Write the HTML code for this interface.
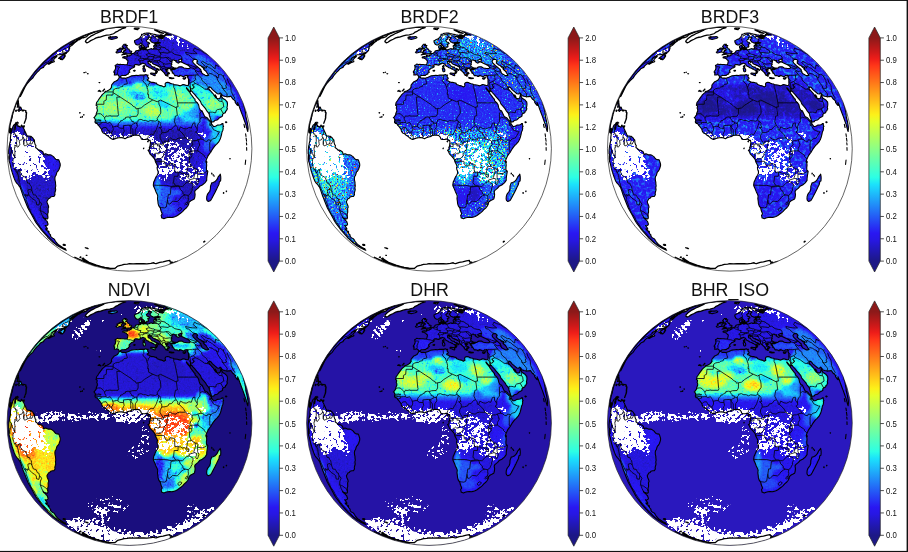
<!DOCTYPE html>
<html><head><meta charset="utf-8"><title>fig</title>
<style>html,body{margin:0;padding:0;background:#fff}svg{display:block}text{font-family:"Liberation Sans",sans-serif;fill:#111}</style>
</head><body>
<svg width="908" height="552" viewBox="0 0 908 552">
<defs>
<path id="land" d="M-10.2,-71.6 -9.2,-71.8 -7.7,-70.6 -5.2,-70.7 -3.8,-70.4 -1,-71.5 0.2,-72.1 2.2,-72.9 5.1,-73.3 6.8,-73.5 8.7,-73.3 10.7,-73.7 13.3,-73.6 14.6,-73.6 16.7,-74.2 17.5,-73.5 18.6,-73.8 18.1,-72.6 18.3,-71.6 19.3,-70.6 18.9,-69.7 17.7,-69 17.8,-68.3 19.6,-67.7 20.5,-66.9 21.9,-66.4 23.5,-66.5 25.5,-65.9 26.9,-65.6 27.7,-64.3 29.9,-63.4 32.1,-62.9 34.4,-61.8 36,-62.7 35.7,-64 35.6,-65 36.3,-65.9 38,-66.5 39.5,-66.3 40.8,-65.4 42.2,-65 43.9,-64.8 44.4,-64.1 47.8,-63.8 50.8,-62.9 52.2,-63.4 52.7,-63.9 53.7,-64.1 55.1,-64 55.9,-63.6 57.2,-63.2 58.3,-63.3 58.9,-63.8 59.1,-65 59,-66.3 59,-67.2 59,-68.3 59,-69.2 58.9,-70 58.2,-71.1 58.1,-72.1 58,-73 57.5,-73.5 56.8,-73 55.7,-73.3 55,-72.5 53.6,-72 52.1,-72.9 50,-73.5 50.1,-72.6 50,-72.3 48.8,-72.3 47.8,-73 46.4,-73.3 45.2,-73.1 45,-73.7 44.6,-74.3 44.3,-75.1 42.6,-75.9 43.4,-76.1 43,-76.5 42.6,-77.5 42.7,-77.9 41.5,-77.9 41.4,-78.7 41.9,-79.3 42.8,-79.3 43.7,-79.3 45,-79.3 45.4,-79.7 46.2,-79.9 44.9,-80.3 44.7,-80.3 43.7,-80.4 42.7,-80.3 42.3,-79.7 41.8,-79.3 41.4,-78.8 41.2,-79.2 41.9,-79.7 40.8,-79.8 40.4,-80.1 39.2,-80.2 38.2,-80.2 37.4,-79.8 38.6,-78.9 37.8,-79.2 38.2,-78.6 37.5,-79.1 37.7,-78.6 37.1,-79 36.2,-79.6 35.8,-79.3 36,-78.8 36.7,-78 37.6,-77.4 37.3,-77.2 36.9,-77.6 36.9,-77 36.6,-76.8 37.6,-77 38.7,-76.5 39.1,-76.4 40.1,-75.4 39.4,-75.4 39.5,-74.8 38.7,-75.2 37.7,-75.2 38.1,-74.7 38.7,-74.4 38.3,-74.2 37.6,-74.6 37.9,-73.8 38.4,-73.1 38.8,-72.7 38.1,-72.9 37.6,-73.2 37.7,-72.6 36.8,-73.7 36.6,-73.2 36.2,-73.3 35.9,-74.1 35.2,-74.8 34.8,-75.3 35,-75.7 35.6,-75.8 35,-75.9 34.4,-76.2 33.7,-76.8 33.7,-76.9 33,-77.5 32.7,-77.9 32.1,-78.5 31.6,-78.8 30.8,-79.3 31.1,-79.4 30.7,-80.1 30.6,-80.8 30.6,-81.5 30,-81.8 29.7,-82.1 28.8,-82.5 28,-82.9 26.6,-83.5 26,-83.9 25.1,-84.3 24.2,-84.6 23.1,-85.2 22.3,-86.5 21.5,-87 21.2,-86.7 20.8,-86.3 20.4,-86.7 20.1,-87.2 20.4,-87.5 20,-87.7 19.8,-87.6 18.4,-87.2 18.4,-86.9 18.8,-86.5 18.6,-85.7 19.1,-85.1 19.7,-84.9 20.7,-84.4 21.4,-83.5 22.2,-82.6 23.1,-82.1 23.5,-81.9 24.5,-81.8 25.4,-81.7 25.1,-81.3 25.8,-80.8 26.8,-80.5 27.5,-80.2 28.6,-79.7 29.7,-78.9 29.6,-78.3 28.9,-78.8 27.6,-79.4 27,-79.2 26.7,-78.3 27.9,-77.7 28,-77.2 28,-76.9 27.2,-76.7 27.4,-76.1 26.7,-75.2 26.3,-75.2 26,-75.5 26,-75.8 26.3,-76.1 26.1,-76.4 26.6,-76.9 26.1,-77.6 25.6,-78.3 25.2,-78.8 24.7,-78.7 24.1,-79.2 23.7,-79.8 23,-79.6 22.8,-80 22.5,-80.1 21.6,-80.6 20.8,-80.7 20,-81 19.3,-81.5 18.6,-82.1 17.4,-82.5 16.3,-83.4 15.9,-84.3 15.7,-84.8 15,-85.1 13.6,-85.6 12.9,-85.5 12.3,-84.8 11.7,-84.7 11.2,-84.6 10.8,-84.3 10.3,-83.9 9.2,-83.6 8.3,-83.9 7.5,-84.1 6.8,-84.2 5.7,-84.1 5.4,-83.9 4.8,-83.6 4.8,-83 5,-82.6 5.2,-82.4 5,-82.3 5,-81.7 3.5,-80.9 2,-80.5 1.4,-79.8 0.7,-79.2 0,-78.6 -0.5,-77.8 0.2,-76.8 0.4,-76.6 -0.2,-76.2 -0.8,-75.9 -1.1,-75.3 -1.2,-74.7 -1.7,-74.6 -2.7,-74.3 -3.1,-73.9 -3.8,-73.2 -4.2,-73.4 -6,-73.2 -7.6,-73.2 -8.4,-72.8 -9.2,-72.2 -9.7,-71.9 -10.4,-72.3 -10.8,-72.9 -10.8,-73.3 -11.8,-74 -12.6,-74 -13.5,-73.7 -15.2,-73.7 -14.9,-75.3 -14.8,-76.2 -15.4,-76.1 -15.7,-76.7 -15.5,-77.6 -14.9,-78 -14.4,-78.9 -14.1,-79.7 -13.9,-80.5 -14,-81.4 -14,-82.2 -14.4,-83.3 -13,-84.1 -12.1,-84.7 -10.9,-84.3 -9,-84.5 -8.8,-84.3 -5.9,-84.2 -4.7,-84 -3.1,-84 -2.4,-84.2 -2.2,-84.5 -1.9,-86 -1.6,-87.4 -1.7,-88.3 -2.6,-88.8 -3.2,-89.5 -3.2,-89.9 -3.6,-90 -4.5,-90.2 -4.8,-90.6 -5.6,-90.8 -6.3,-90.7 -6.7,-91 -6.5,-91.3 -6.8,-91.4 -6.6,-91.7 -5.6,-92 -4.8,-92.1 -4.3,-92.1 -3.8,-91.7 -3.3,-91.9 -2.8,-91.9 -2.1,-91.9 -2.2,-92.1 -2.5,-92.9 -2.7,-93.4 -2.2,-93.3 -1.8,-93.4 -1.6,-92.9 -0.9,-92.9 -0.3,-92.8 0.3,-93 0.1,-93.1 0.2,-93.3 0.5,-93.4 1.5,-93.7 1.9,-93.9 2.2,-94.1 2.1,-94.5 2.2,-94.8 2.1,-94.9 2.5,-95.1 3.2,-95.2 3.9,-95.4 4.3,-95.6 4.6,-95.9 5.4,-96.4 5.6,-96.6 5.9,-97.1 6.1,-97.7 6.9,-98 7.9,-98.3 8.7,-98.3 8.9,-98.2 9,-98.6 10.1,-98.6 10.3,-98.4 10.8,-98.5 10.9,-98.9 11.5,-98.9 11,-99.2 10.7,-99.4 11.1,-99.6 10.7,-99.9 10.2,-100.1 10.2,-100.8 9.7,-100.9 9.7,-101.5 9.6,-102.3 9.9,-102.8 11.3,-103.3 12,-103.5 12.1,-103.2 11.9,-102.7 12.8,-102 12.6,-101.7 12.1,-101.7 11.9,-101.3 11.8,-101 11.4,-100.8 11.8,-100.6 12.2,-100.1 11.6,-100 12.3,-99.8 12.6,-99.5 13.8,-99.6 13.4,-99.1 13.6,-99 14.3,-98.9 15,-99.2 15.4,-99.6 16.2,-99.4 16.4,-99.9 16.8,-99.6 16.8,-99.1 17.5,-99 17.7,-98.9 19.2,-99.2 20.1,-99.6 20.6,-99.8 21.3,-100 22.2,-100.1 22.8,-99.8 22.6,-99.7 22.8,-99.5 23.2,-99.5 23.9,-99.6 24.1,-99.8 24,-100.2 24.6,-100.2 24.9,-100.8 24.8,-101.1 24.6,-101.4 24.2,-102.1 24.2,-102.5 24.2,-103.1 25.1,-103.5 25.9,-103.1 26.9,-102.6 27.1,-102.7 27.3,-103 26.8,-103.7 26.6,-104.2 25.4,-104.5 25.2,-104.9 25.4,-105.3 26,-105.4 27.7,-105.5 29.2,-105.4 29.4,-105.7 29.8,-105.9 30.9,-105.9 30.1,-106.2 29,-106.4 28.8,-106.7 27.5,-106.6 27.4,-106.5 26.3,-106.3 25.7,-106.2 24,-105.8 22.8,-106.5 21.7,-106.8 21.6,-107.2 21.3,-107.7 20.7,-108.3 20.3,-109.2 20.9,-109.7 21.2,-109.9 21.7,-110.6 22.2,-111 20.9,-111.6 20.5,-111.6 19.7,-111.6 19.1,-111.5 18.7,-111.2 18.9,-110.7 18.8,-109.8 17.7,-109.3 17.3,-108.7 16.9,-108.5 17.1,-107.8 17.3,-107.4 17.7,-106.7 19.2,-106.4 19.7,-106.1 19.8,-105.7 20.2,-105.2 19.5,-104.8 18.6,-104.6 18.2,-104.5 18.7,-103.5 18.8,-103 19,-102.3 18.7,-101.6 18.3,-101.7 17.5,-101.7 17,-101.4 17.2,-100.9 16.6,-100.8 15.8,-100.7 15.4,-100.7 15.5,-101 15,-101.5 14.6,-101.8 14.9,-102.2 14.1,-102.8 13.4,-103.5 12.7,-104.1 12.2,-104.8 11.9,-105.1 11.5,-105.4 11.4,-105.9 11.2,-105.5 11.4,-105.2 11,-105 10.4,-104.8 9.8,-104.3 9,-103.9 8.4,-103.8 8,-103.8 7.4,-103.9 6.7,-104.3 6.1,-104.6 6.2,-104.9 5.7,-105.4 5.5,-105.7 5.3,-106.4 4.9,-106.8 5.1,-107.1 5,-107.7 5.1,-108 5.1,-108.3 6,-108.6 6.7,-108.9 7.4,-109.2 8.1,-109.6 9,-109.7 9.3,-110 10.1,-110.8 10.7,-111.4 10.9,-111.8 11.7,-112.9 12.1,-113.6 12,-114.5 13.8,-114.8 14.2,-115.1 15.5,-115.5 16.3,-115.5 17.2,-115.8 18.4,-115.8 19.5,-115.6 21.2,-115.3 20.7,-115.1 21.2,-114.8 22.4,-115 23.9,-114.5 25,-114.4 26.8,-114 29.1,-113.6 31.1,-112.8 32.3,-112.2 32.1,-112 30.9,-111.9 29.3,-112.1 27.5,-112.3 25.5,-112.8 26.5,-112.3 28.3,-111.7 29.6,-110.9 30,-110.5 31.3,-110.2 33.2,-109.9 32.3,-110.4 30.8,-111.1 32,-110.8 33.6,-110.6 34.2,-110.5 32.9,-111.2 32.4,-111.5 32.9,-111.9 33,-112.2 34.7,-111.8 33.8,-112.3 32.8,-112.8 32,-113.5 30.6,-114 32,-113.9 33,-113.6 33.6,-113.3 34.4,-112.7 35.6,-112.6 34.9,-113.2 35.2,-113.6 36.3,-113.6 35.6,-114.2 36.8,-113.7 37.5,-114 38.6,-113.8 38.2,-114.3 36.5,-114.9 39.2,-114.4 40.4,-114.2 42.2,-113.6 39.4,-114.6 37.2,-115.5 33.9,-116.9 33.5,-117.2 34.8,-116.9 36.5,-116.3 34.9,-116.9 35.9,-116.7 34.3,-117.4 32.9,-117.8 31.4,-118.3 33,-128 31.9,-128.3 36.8,-127 41.6,-125.5 46.2,-123.8 50.7,-122.1 55,-120.2 59.1,-118.2 63,-116.2 69.2,-112.6 75.3,-108.6 81.2,-104.3 86.8,-99.7 92.2,-94.7 97.3,-89.4 102.2,-83.9 106.7,-78 110.9,-72 114.7,-65.7 118.2,-59.2 121.3,-52.6 124,-45.8 123.3,-47.6 122.6,-49.5 113.8,-44.9 114.8,-41.9 115.1,-40.5 115.8,-37.2 116.2,-35 116.3,-33.5 116.3,-32.5 117.5,-27.7 118.1,-24.4 118.5,-21.9 118.6,-19.8 118.4,-18.7 118.3,-17.2 117.9,-18.1 117.1,-21.1 116.4,-23.9 115.2,-27.3 113.8,-31.3 113.3,-32.6 112.1,-35.8 110.6,-39.7 109.6,-42.7 109,-44.1 108.1,-46.2 108.2,-45.4 108.3,-43.3 107.7,-43.7 106.6,-45.1 105.7,-46.3 105.6,-46.8 106.1,-47.7 105.6,-47.5 104.4,-49 103.3,-49.8 102.2,-51.4 101.4,-52.5 100.1,-52.1 99,-52.2 98.1,-52 97.7,-51.8 96.4,-52.3 94.8,-52.5 93.3,-53 91.7,-55 90.6,-55.9 89.6,-54.7 87.9,-55 85.4,-57.1 83,-59.2 82.1,-60.4 81.3,-61.3 79.9,-62 79.6,-61.1 79.3,-60.5 79.2,-60 79.7,-59.3 80.6,-58.3 83.1,-55.6 84.1,-54.5 84.8,-53 86.1,-51.2 85.6,-52.7 85.7,-53.9 86.7,-52.3 87,-51.6 86.9,-50.9 87.5,-50.3 88.8,-50.1 89.7,-50 90.6,-50.7 91,-52.2 91.3,-53.3 91.3,-54.4 91.8,-52.9 92.3,-52 93.2,-50.5 95.2,-49.2 95.7,-49 96.3,-48.4 97.4,-47 97.7,-46.9 98,-44.7 97.8,-42.7 97.4,-41.2 97.9,-39.8 97.3,-39 97.1,-38 96.1,-37.6 96,-36.6 95.5,-35.8 94.8,-35.8 94.1,-35.3 92.9,-34.1 93.1,-33 92.6,-32.5 92.1,-32.1 90.9,-31.4 89.6,-30.7 88.7,-29.6 87.6,-28.8 85.2,-28.3 84.4,-27.1 83,-26.7 82.1,-26.8 81.6,-28.2 80.6,-31.3 79.9,-33.1 79.8,-34.5 79.2,-35.6 77.1,-38.2 76,-40.1 74.3,-42.2 71.9,-44.9 71,-47.4 68.9,-49.9 67.1,-51.8 65.3,-54.1 63.4,-56.2 62.3,-57.6 61.5,-57.7 61.1,-59.9 61.1,-60.3 60.9,-60.2 60.9,-59.3 61,-58.4 61,-57.3 61,-57 59.7,-57.9 58.6,-59.2 57.5,-60.5 57,-61.1 56.9,-60.5 57.9,-59.2 58.8,-58.1 60.5,-56 61,-55.1 61.9,-53.8 63.4,-51.9 65,-49.7 65.5,-49.6 65.5,-48.2 67.6,-46.2 69.1,-43.9 69.7,-41.1 70.2,-40.1 71,-38.6 72.6,-37.8 74,-34.8 74.9,-32.9 75.5,-31.9 76.2,-31.7 77.6,-31.1 79,-29.4 80.4,-28 81,-27.5 81.6,-26.9 82.1,-25.3 81.2,-24.6 82,-24.6 82.6,-24.1 84.1,-22.2 85.1,-22.2 86.5,-22.8 87.8,-23.6 89.5,-23.7 90.9,-24 91.9,-24.4 92.7,-25.3 93.5,-25.1 93.5,-23.6 94.1,-22.2 93.5,-21.9 93.7,-20.2 93.3,-18.3 92.6,-17 92.1,-14.5 91.3,-11.4 90.6,-9.4 89.2,-6.8 87,-4.4 86.1,-3.6 85,-2.3 82.8,0.7 81.2,3.5 80.1,4.9 78.7,6.8 77.9,8.6 76.9,10.8 76.3,12.8 77,14.5 77.2,16.4 76.9,18.9 77,21.3 77.7,21.9 78.3,22.7 77.5,27.5 77.2,30 77.2,31.7 75.4,34.1 72.8,36.2 70.1,37.6 68.6,39.4 65.9,41.6 65.2,43.1 65.5,44.9 65.6,45.9 65.4,47.8 65,49.5 64.7,50.2 62.8,51.3 61.3,52 59.5,53.6 59.3,55.2 58.2,57.5 57,59 54.8,60.9 53.3,62.6 51.3,64.3 48,66.7 46.1,67.7 43.9,68.4 42.5,68.8 40.3,68.5 38.2,68.8 36.2,69.2 34.4,69.9 33.3,69.5 32.5,69.2 32.1,69.1 32.1,68.3 31.6,66.7 32.5,65.4 32.6,64.7 32.1,63.6 31.4,61.8 31,59.8 30.4,58.6 29.3,57.1 28.6,54.9 28.4,52.7 28,49.8 28.2,47.7 28.3,47.2 27.4,44.9 26.4,42.9 25.4,40.3 24.2,37.8 23.8,36.3 24,34.8 24.2,33.3 24.9,32.1 25.5,30.4 26.6,28 27.7,26.5 28.6,24.4 28.6,22.7 27.8,20.6 27.6,18.7 28.1,17.5 27.1,15.3 25.9,13 25.7,11.8 25,10.2 23.5,8.3 22.6,7.3 20.4,5.1 19.6,3 18.5,1.4 19.8,0.9 20.1,-0.9 19.8,-1.3 20.4,-2.1 20.7,-4 21,-6.3 20.6,-8.4 19.5,-8.5 18.9,-9 18,-9.8 17,-9.6 15.9,-9.4 14.9,-9.3 13.2,-9.2 11.9,-9.8 11.3,-11.5 10.6,-12.4 9.5,-13.4 7.2,-13.6 5.1,-13.5 2.5,-13 2.1,-12.4 -0.4,-11.8 -2.7,-10.9 -4.5,-10.1 -6.6,-10.9 -8.5,-11.2 -10.6,-11 -13,-10.6 -14.9,-9.8 -16.4,-9.3 -17.6,-9.8 -19.2,-10.7 -21.2,-12.6 -22.8,-13.4 -24,-14.7 -26.3,-15.8 -27.1,-16.8 -27.7,-18.1 -27.8,-19.1 -28.6,-20.2 -30.1,-22.3 -31.1,-23.4 -32.2,-25.1 -33.2,-25.2 -34.4,-26.2 -34.5,-27.5 -34,-28.5 -34.3,-29.2 -34.7,-30.4 -35.6,-31.1 -35,-31.5 -34.1,-32.9 -33.4,-33.7 -33.2,-35.2 -32.1,-38 -32.3,-39.8 -32.8,-40.7 -32.3,-41.9 -32.5,-43.1 -33.5,-43.5 -33.2,-44.6 -32.9,-46.2 -31.6,-48 -30.8,-49.2 -30.4,-49.8 -28.5,-52.3 -27.5,-53.9 -25.6,-55.6 -25.2,-55.9 -24.4,-56.9 -24.1,-57.4 -22.4,-57.7 -21.1,-58.4 -19.1,-59.7 -18.9,-60.1 -17.7,-61.9 -18.1,-62.4 -17.8,-64 -16.6,-65.4 -15.1,-67.1 -13.5,-67.7 -12.1,-68.5 -11.6,-69 -10.7,-70.6Z M-118.1,-18.5 -118,-17 -117.2,-20 -116.6,-22.1 -115.9,-23.5 -115.5,-23.9 -114.6,-24.5 -113.4,-26.4 -113.5,-25 -114.2,-23.6 -114.1,-22.7 -114.7,-20.8 -114.5,-19.4 -114,-21 -113.9,-22.9 -113.6,-23.4 -112.9,-24.2 -112.4,-25.9 -112.5,-24.4 -112.4,-24.3 -111.6,-23.8 -111.6,-22.3 -110.7,-22.5 -110,-22.4 -109.4,-21.5 -108.9,-21.7 -108.4,-22.2 -107.2,-22.7 -106.1,-22.7 -106.8,-21.9 -106.3,-21 -105.5,-19.8 -104.8,-18.1 -103.8,-16 -103.2,-14.5 -102.4,-13 -100,-12.6 -98.5,-12.4 -96.5,-10.6 -95.8,-9.2 -95.1,-8.8 -94.9,-6.2 -94.3,-4.1 -93.6,-3.4 -93.9,-1.3 -91.5,0.6 -91,1.5 -90,1.3 -88,2.1 -86.5,3.2 -85.8,6 -84.9,5.3 -83.9,5.1 -81.5,6.1 -79.4,6 -77.9,6.6 -76,7.9 -74.8,9.4 -73.7,10.5 -72.5,10.9 -70.7,11.1 -70.2,12.4 -69.3,15.1 -69.3,17.1 -70.4,20.5 -71.4,22.3 -72.4,23.1 -73,24.8 -73.5,26.7 -74.2,27.5 -74.6,29.2 -74.5,31.3 -74,33.7 -74,34.7 -73.7,37.2 -74.1,38.8 -73.8,41.1 -74.2,42.5 -74.7,44.3 -74.5,45.9 -75.4,47.6 -77.1,47.8 -78.9,48.2 -79.7,49.4 -80.8,49.8 -81.9,51.5 -82.6,52.7 -82.3,54.2 -81.2,56.7 -80.8,58.4 -81.4,59.9 -81.3,61.8 -81.3,63.6 -81.8,65.1 -81.7,68 -81.5,69.2 -82.1,70.1 -83.4,70 -85.5,69.2 -86.4,68.4 -85.8,69.5 -85.1,69.9 -83.8,71 -83.4,71.9 -82.4,72.5 -81.4,75.4 -81.8,76.3 -82.6,76.8 -83.6,77 -84.4,76.7 -83.1,78.3 -82.2,79.7 -82.1,80.4 -83.3,80 -84,80 -83.2,81.1 -82.1,82.2 -81.7,82.2 -81.2,82.2 -80.4,83.2 -80.8,83.3 -81.4,83.2 -80.7,83.9 -80,85 -79,86.1 -78.8,86.5 -79.1,86.9 -78.8,87.7 -78,88.6 -76.7,89.5 -75.9,89.8 -75.1,90.6 -74.6,91.5 -73.8,92.8 -72.9,93.9 -72.1,95 -71,95.9 -69.5,96.9 -69.2,97.2 -68.1,98 -66.5,99 -65.2,99.6 -64.3,99.8 -64.1,100.3 -64.2,100.6 -63.2,101.4 -64.5,100.9 -65.6,100.5 -67.4,99.6 -68.8,98.9 -70.6,97.8 -72.4,96.7 -74.5,95.1 -76.2,93.8 -78.1,92.1 -80.1,90.2 -81.3,89.1 -82.1,87.9 -84,85.8 -85.7,83.9 -87.7,81.6 -88.7,80.3 -90.1,78.4 -91.8,76.2 -93.5,74 -93.9,73.1 -95.1,71.1 -96.2,69 -97.4,66.7 -98.5,64.7 -100.5,61.2 -101.6,59.2 -103,55.8 -104.3,52.5 -105.6,49.1 -106.2,47.8 -107.2,44.9 -108,42.3 -109.3,38.8 -110.5,37.1 -111.3,35.8 -112.8,34.4 -114.1,32.5 -115.4,29.4 -116,27.5 -116.7,25.6 -117.4,23.4 -118,21.3 -118.5,19.4 -119,17.2 -119.6,14.7 -120.2,12.8 -120.3,12.5 -120.5,10.9 -120.6,10 -120.5,7.5 -120.4,5.3 -120.8,4.9 -120.8,2 -120.6,-0.2 -120.4,-2 -120,-3.8 -119.7,-5.6 -119,-8.3 -119.1,-10 -119,-11.7 -118.7,-14.1 -118.7,-15.3 -118.4,-17.9 -118.9,-18.9 -119.7,-15.8 -120.1,-16.2 -120.2,-17.2 -120.4,-17.9 -120.1,-20.6 -120.2,-21.3 -119.1,-27.5 -128.3,-32 -127,-36.6 -126.1,-39.8 -125,-43.1 -123.7,-46.6 -120.5,-54.3 -116.8,-61.8 -112.6,-69.2 -108.8,-75 -104.6,-80.8 -100,-86.5 -94.9,-92 -89.5,-97.3 -83.8,-102.3 -77.9,-106.8 -71.8,-111 -65.7,-114.7 -59.6,-118 -53.5,-120.9 -50,-122.4 -46.3,-123.8 -42.5,-125.2 -38.5,-126.5 -34.3,-127.7 -29.9,-128.8 -29.1,-129 -28.1,-129.2 -27,-129.4 -25.7,-129.7 -24.2,-130 -22.6,-130.2 -23.7,-130.1 -24.7,-129.9 -25.7,-129.7 -24.6,-119.9 -25.4,-119.7 -31.7,-118.2 -38,-116.2 -44,-114 -49.9,-111.4 -55.5,-108.5 -55.2,-108.6 -55.1,-108.4 -55.2,-108.1 -55.2,-107.7 -55.4,-107.2 -57.5,-106 -59,-104.9 -59.9,-104 -58.3,-104.6 -56.5,-105.5 -54.5,-106.4 -55.9,-104.9 -57,-103.8 -59.5,-102.1 -60.2,-100.9 -59.8,-100 -60.5,-99 -60.4,-98.4 -61.8,-96.8 -64.1,-95.7 -66.3,-94.9 -69,-94 -71.8,-94 -74.9,-92.2 -77.7,-90.2 -75.6,-91.5 -73.1,-92.7 -72.6,-92.1 -74.5,-90.7 -76.3,-88.5 -76.2,-87.9 -75.1,-87.6 -75.3,-87 -78.1,-85.9 -80.2,-84.6 -81,-84.6 -79.6,-85.9 -77.7,-87 -77.4,-87.6 -78.8,-86.9 -79.9,-86.2 -82.2,-85 -83.4,-84.4 -84.8,-83.2 -85.5,-82.5 -85.9,-81.4 -86.9,-81.1 -88.6,-80.3 -89.3,-79.7 -90.8,-77.9 -92.7,-76.2 -94.8,-73.7 -96.8,-70.6 -98.2,-69.5 -99.4,-68.3 -100.9,-66.7 -102.5,-64.9 -104.3,-62.1 -107.4,-55.6 -109.1,-52.3 -109.4,-52.1 -107.4,-57.1 -106,-59.7 -105.5,-61.2 -105.7,-61.2 -105.5,-61.9 -106.8,-59.7 -115,-65.1 -115,-65.2 -117.1,-61.4 -120.6,-54.2 -122.9,-48.8 -124.9,-43.2 -125.5,-41.4 -125.3,-42.2 -124.4,-44.8 -123.4,-47.4 -113.7,-45.1 -113.9,-44.3 -114.9,-41.9 -116.7,-36.8 -117.7,-33.5 -117.7,-33.3 -117.4,-33.5 -117.2,-33.4 -117.4,-31.7 -118.2,-28.6 -119,-25.4 -119.5,-23.1 -119.6,-21.3 -119.7,-19.8 -119.6,-18.9 -118.9,-19.9 -118.5,-20.3Z M20.9,-75 21.2,-75.6 22.2,-75.7 24.1,-75.4 25.8,-75.8 25.5,-74.5 25.8,-73.7 25.6,-73.1 24.4,-73.3 22.7,-74.2 21.7,-74.6Z M13.2,-80.1 13.6,-79.2 13.9,-77.4 14.7,-76.9 15.7,-77.3 15.9,-78.8 15.4,-80.1 14.7,-80.7Z M13.5,-82.5 13.8,-81.4 14.7,-80.9 14.9,-81.7 15,-82.7 14.6,-83.5 14.6,-83Z M39.7,-71.1 40.8,-71.3 42.5,-70.8 44.3,-70.7 44.3,-70.2 42.1,-70.1 40,-70.6Z M53.5,-70.3 54.2,-70.9 55.2,-70.8 56.4,-71.4 55.9,-70.2 54.9,-69.5 53.9,-69.8Z M3.9,-78 5.1,-78.6 5.7,-78.2 5,-77.5Z M-7.8,-93.8 -6.8,-94 -5.7,-94.2 -4.8,-94.2 -4.6,-94.7 -3.4,-94.6 -2.6,-94.7 -1.6,-94.9 -0.3,-94.9 0.4,-94.8 1.3,-95.1 1.9,-95.3 1.9,-95.7 0.8,-95.7 1.2,-96.1 1.7,-96.4 2.3,-97.2 1.7,-97.7 0.6,-97.7 0.1,-97.6 0.4,-98.1 0.1,-98.5 -0.2,-99 -0.5,-99.6 -1.5,-99.8 -1.9,-100.5 -2.4,-101.2 -3.1,-101.5 -3.8,-101.5 -3.3,-101.8 -2.9,-102.2 -2.4,-102.8 -2.1,-103.3 -3.2,-103.5 -4.6,-103.3 -3.8,-103.8 -3.4,-104.5 -4.4,-104.5 -5.6,-104.5 -6,-104 -6.6,-103.3 -6.5,-102.7 -7.3,-102.3 -6.6,-101.8 -6.8,-100.8 -5.9,-101.1 -5.9,-100.3 -6.3,-100.1 -5.4,-99.9 -4.3,-100.1 -4.5,-99.6 -3.6,-99.2 -3.9,-98.4 -4.2,-98.2 -5.7,-98.2 -5.4,-97.6 -6.1,-97.5 -5.3,-97.1 -6.2,-96.5 -7,-96.3 -6.7,-96 -5.4,-95.9 -4.3,-95.7 -3.6,-95.9 -4.1,-95.4 -5.6,-95.4 -6.2,-94.9 -7,-94.2Z M-7.8,-96.7 -8,-97.6 -7.8,-98.2 -7.8,-99 -6.8,-99.5 -7.1,-100.1 -7.5,-100.5 -8.8,-100.7 -10,-100.4 -10.7,-99.8 -10.3,-99.5 -11.2,-99.4 -12.4,-99.3 -12.5,-98.4 -11.5,-97.9 -12.4,-97.4 -13.6,-96.6 -13.1,-96 -12.6,-95.7 -11.2,-96 -10,-96.5 -9,-96.6Z M-20.8,-109.9 -19.8,-109.9 -18.9,-109.5 -17.7,-109.4 -15.8,-109.8 -13.9,-110.2 -12.6,-110.8 -12,-111.2 -12.5,-111.8 -13.5,-112.2 -15.3,-111.9 -17.1,-111.9 -18.6,-111.4 -18.7,-112.2 -20.2,-111.7 -21,-111.4 -19.3,-111 -21.1,-110.8 -19.8,-110.3Z M13.3,-101.1 14.2,-101.6 14.9,-101.5 15,-100.8 14.7,-100.3 13.6,-100.5Z M11.8,-100.9 12.9,-100.9 13.1,-100.4 12.2,-100.3Z M90.8,25.4 91.2,27.5 91.3,29.6 91.1,32.3 90,32.7 89.5,35.4 88.5,37.4 87.2,40.3 85.6,43.5 84,46.6 82.3,49.8 81.1,51.7 78.8,52.8 77.5,51.7 77.1,50.2 77.3,47.6 78.1,45.3 80.2,42.5 80.9,40.3 81,37.4 82.2,34.1 83.6,33.7 85.2,33.1 86.7,31.7 88.1,29.6 88.5,28.4 89.9,26.7Z M95.9,-26.7 96.6,-26.9 97.3,-26.5 96.5,-26.1Z M-71,-90.4 -69.7,-91.5 -68.3,-92.5 -66.6,-93.8 -64.7,-95 -63,-95.9 -63.1,-95.5 -65.6,-93.8 -65,-93.6 -65.2,-92.9 -64.2,-93.1 -64.2,-92.8 -64.6,-92 -65.9,-91.1 -65.1,-91.1 -65.7,-90.3 -67.2,-89 -67.6,-89 -67.3,-89.5 -67.9,-89.3 -68.8,-89.4 -69.3,-89.4 -68.1,-90.2 -68.4,-90.4 -69.6,-90.4Z M-113.1,-45.7 -112.3,-47.2 -111.6,-48.1 -111,-48 -111.1,-46.6 -110.9,-45.3 -110.7,-43.9 -110.5,-42.4 -111.2,-41.7 -112.4,-41.6 -111.8,-42.9 -112,-43.9 -112,-45.3 -112.2,-46.2 -112.6,-45.9 -113,-45.5Z M-111.9,-38.6 -111.4,-38.2 -110.8,-38.2 -110.7,-37.2 -109.6,-38.2 -108.4,-38.6 -107.8,-39 -108.3,-40.5 -108.7,-41.6 -109.4,-41.4 -110.1,-41.7 -110.5,-41.1 -110.5,-39.8 -110.6,-39 -111.3,-38.9Z M-107.3,-37.8 -106.1,-37.8 -105.8,-38.6 -107,-38.8Z M-113.9,-38.2 -113.7,-37.3 -113.1,-37.7 -113.1,-38.6 -113.5,-38.8Z M-106.3,-21.4 -105.4,-21.5 -105.1,-22.9 -105.9,-22.7Z M-66.5,96.1 -65.9,95.5 -64.3,95.9 -64.2,96.8 -65.5,96.7Z M18,-7.4 18.9,-8 18.5,-6.8Z M13.9,-0.4 14.4,-0.7 14.1,-0Z M77,12.4 77.3,13 77.4,13.7 77.1,13.4Z M94,43.7 94.4,44.1 94.1,44.6 93.8,44.3Z M96.7,42.3 97.2,42.3 96.8,42.9Z M-30.5,-66.3 -29.6,-66.2 -30,-66Z M-44.3,99 -42,99.4 -41.3,100 -42.8,99.6Z M74.9,92.4 75.5,92.5 74.5,93.4 74.1,93.2Z M-31.4,-57.6 -29.8,-58.5 -30.5,-57.5Z M-29.5,-57.2 -28.7,-57.7 -28.7,-57.1Z M-27,-57.7 -25.7,-58.8 -25.9,-57.8Z M-25.6,-59.2 -24.9,-59.7 -25,-59.2Z M-47.7,-31.7 -47,-32.3 -47.2,-31.5Z M-50,-36 -49.3,-36.1 -49.7,-35.6Z M-49.1,-31.5 -48.7,-31.7 -48.8,-31.3Z M-45.8,-34.1 -45.4,-34 -45.7,-33.7Z M82.2,24.2 82.5,24.8 82.1,25.2Z M83.6,25.8 83.8,26.2 83.4,26.1Z M84.5,26.9 84.7,27.4 84.5,27.5Z M-42.1,-75.1 -41.2,-75 -41.7,-74.9Z M-45.7,-76.2 -45,-76.1 -45.5,-76Z M-43.8,-76.6 -43.4,-76.5 -43.7,-76.4Z M-105.4,-25.4 -104.4,-28 -103.9,-29.6 -103.5,-31.1 -103.6,-32.5 -103.4,-34.1 -103.2,-36 -103.9,-36.6 -103.8,-38 -105.1,-38.5 -104.8,-38.6 -103.4,-38.1 -103.5,-36.7 -102.8,-36.1 -103,-34.3 -103.2,-32.6 -103.2,-31.2 -103.5,-29.7 -104.1,-28.1 -105,-25.6Z M-112.3,-26.4 -112.1,-26.7 -111.5,-25.9 -111.1,-25.9 -111.2,-25.6 -111.7,-25.7Z M-108.4,-23.3 -107.8,-23.7 -107.8,-23.1Z M116.1,-14.9 116.5,-12.4 116.1,-14.9Z M116.6,-10.7 117.1,-7.5 116.6,-10.7Z M116.9,-6 117.2,-3.8 116.9,-6Z M117.1,-1.3 117.2,1.5 117.1,-1.3Z M116.2,11.3 115.7,15.8 116.2,11.3Z M114.5,-24.4 115.1,-21.3 115.2,-21.3 114.5,-24.4Z M100.3,9.7 100.7,9.8 100.5,10.2Z M-43.4,106.5 -42.5,106.6 -42.6,106.8Z M-49.7,108.6 -48.9,108 -48.5,108.4 -48.8,109Z M44.8,-80.7 42.8,-81.7 41.7,-82.7 41.8,-83.8 42.4,-84.4 42,-85.3 42.6,-86.9 42.4,-87.5 43,-88.8 44.4,-88.9 45,-88.2 47,-88.2 46.2,-87.2 48.1,-85.9 48.9,-85.6 50.1,-86.5 51.3,-87 48.9,-87.7 48.7,-88.6 50.3,-89.2 51.6,-89.7 52.7,-89.8 52,-88.9 52.3,-88 52.1,-87.5 51.6,-86.7 52.8,-86.2 53.3,-86.1 55.4,-85 56.6,-84.4 58.7,-83.5 60.2,-82.2 60.8,-81.3 60,-80.3 59,-80.3 57.5,-80.2 56.1,-80.5 54.4,-80.8 52.3,-81.9 50.2,-81.9 49,-81.6 48.4,-80.9 47.5,-80.5 46.3,-80.6Z M71.3,-79.3 70.6,-79.7 69.3,-80.9 68.1,-81.9 66.3,-83.3 65,-84.7 63.7,-85.9 63.1,-87.5 63.7,-88.6 64.9,-89.5 66.9,-89.2 67.8,-88.3 68.2,-87.2 67.3,-86.9 67.8,-85.8 67.2,-85.8 69.5,-83.8 71.2,-83.2 72.4,-81.9 72.9,-81.4 72.8,-82.1 74.5,-81.4 74.7,-80.1 73.8,-80.1 75,-78.7 76.5,-77.5 78.5,-74.3 79.2,-73.5 77.9,-73.1 76.3,-73.1 74.5,-74.3 73.1,-74.9 72.3,-76 71.8,-77.5 71.1,-79Z" fill-rule="evenodd" clip-rule="evenodd"/>
<path id="nod" d="M-42.7,-105.8 -43.1,-106.4 -44.1,-107.1 -43.8,-108.1 -41.8,-110.2 -38.7,-112.6 -36.1,-113.9 -34.1,-115 -32.1,-115.9 -29.3,-117.2 -26.1,-118.5 -26.5,-118.6 -26.7,-118.8 -26.9,-118.9 -23.7,-119.9 -21.4,-120.3 -19,-120.6 -16.9,-120.9 -14.8,-121.2 -13.9,-121.3 -13.1,-121.3 -12.3,-121.4 -11.4,-121.4 -10.5,-121.5 -9.8,-121.5 -9.1,-121.5 -8.4,-121.6 -7.7,-121.6 -6.9,-121.6 -6.5,-121.5 -6,-121.4 -5.3,-121.3 -4.6,-121.2 -3.8,-121.1 -6.2,-120.5 -7.9,-119.9 -8.9,-119.2 -10.7,-118.3 -11.5,-117.7 -13.8,-116.7 -14.9,-115.7 -16,-115 -19.7,-113.9 -22.8,-113.6 -25.8,-112.8 -29.4,-111.7 -30.9,-111.5 -33.3,-110.9 -35.8,-109.5 -38.8,-108.1 -41.1,-106.5Z M-46.4,109.3 -44.8,110.9 -40.5,113.5 -33.1,116.4 -27.4,118.2 -25,118.7 -22.6,119.1 -20.3,119.5 -19,119.6 -17.7,119.7 -16.4,119.7 -14.6,119.7 -14.2,119.3 -13.4,118.8 -12.8,118.1 -11.9,117.4 -10,116.9 -7.9,116.4 -5.5,115.7 -2.1,115.4 0,114.9 3.6,115.2 7.3,115 10.9,114.9 14.3,115 17.4,115.2 21.4,114.6 24.2,114 25.2,114.6 26.6,114.9 30.3,113.7 33.6,113.2 37.4,112.2 40.4,111.7 40.4,112.5 40.7,113 41.9,113.3 42.8,113.5 40.8,114.6 40.8,114.9 43.9,113.9 47,112.8 47.6,112.7 48.2,112.5 52.9,121.1 53.6,120.8 50.1,122.3 46.4,123.8 42.7,125.1 38.9,126.3 35.1,127.5 31.2,128.4 27.4,129.3 23.6,130.1 20,130.7 18.5,130.9 17,131.1 15.5,131.3 14.1,131.4 12.7,131.6 11.3,131.7 10,131.8 8.7,131.9 7.5,132 6.4,132 5.3,132.1 4.3,132.1 3.4,132.1 2.6,132.2 1.9,132.2 1.3,132.2 0.8,132.2 0.5,132.2 0.2,132.2 0,132.2 -20,130.7 -22.3,130.3 -24.7,129.9 -27.1,129.4 -29.5,128.9 -31.9,128.3 -34.1,127.7 -36.4,127.1 -38.5,126.5 -38.4,126.5 -35.4,117.2 -35.1,117.2 -34.7,117.3 -34.2,117.4 -35.6,116.7 -39.3,115 -43.4,113.1 -46,111.4 -47.4,110Z M4.7,-119.9 5.2,-120.5 6.6,-120.5 7.6,-120.7 9.6,-120.6 9.2,-120.3 8.7,-120 8.4,-119.5 8.2,-119.1 6.6,-119.5Z M30.2,-116.1 29.1,-116.9 26.4,-118.1 25.1,-118.9 25.5,-119.1 25.7,-119.2 27.5,-118.5 28.6,-117.8 30.9,-116.7 34.1,-115.5 32.6,-115.6Z M-54.4,-106.5 -52.4,-107.9 -50.6,-109.5 -51,-109.1 -50.3,-109 -46.7,-111.4 -46.3,-110.9 -42.9,-112.2 -41.9,-113.3 -40.7,-114.3 -37.7,-115.7 -36.4,-116.4 -35,-117.1 -34.9,-117.2 -34.6,-117.4 -39.8,-115.7 -40.4,-115.5 -40.9,-115.3 -41.2,-115 -44.8,-113.5 -47.9,-111.8 -51,-110 -53.1,-108.6Z"/>
<path id="bord" d="M-3.8,-70.4 -3.2,-69.2 -3,-67.9 -2.2,-65.8 -2.2,-65 -5.5,-64.3 -6.8,-63 -6.6,-62.3 -9,-61.8 -10.2,-60.8 -12,-60.5 -14.1,-60.1 -16.2,-58.8 -16.4,-56.1 M-24.8,-56.8 -16.3,-56.8 M-16.6,-53.7 -22.9,-53.7 -23.3,-48.7 -25.3,-47.8 -25.6,-47.4 -25.6,-44.5 -33.2,-44.5 M-16.4,-56.1 -16.6,-53.7 M-16.4,-56.1 -9.3,-51.7 -3.6,-47.9 2.3,-44.1 3.6,-42.5 6.2,-41.3 6.5,-39.8 8.6,-40.2 11.7,-40.8 14.9,-43.6 23.3,-48.8 M-9.3,-51.7 -12.7,-51.7 -12,-43.3 -11.2,-34.8 -10.9,-34.4 -11.5,-32.7 -19.1,-32.7 -19.1,-33.1 -21.9,-32.5 -23.5,-32.9 -24.2,-31.5 -25,-31.2 M-33.4,-33.8 -32.7,-34.8 -30.4,-35.1 -29,-35 -27.3,-33.9 -26.3,-32.7 -25,-31.2 -24.7,-29.4 -23.6,-27.5 -23.6,-26.3 M-34.4,-28.8 -31.8,-28.8 -30.8,-29.2 -29.4,-28.6 -28.4,-28.6 -28.4,-28.2 -30.8,-28.2 -31.9,-27.8 -34.4,-27.6 M-34.4,-26.2 -32.3,-26.4 -28.3,-26.8 -28.3,-26.1 -25.7,-26.3 -23.6,-26.3 -22.2,-25.4 -19.3,-26.3 -18.1,-24.4 -17.3,-23.4 -16.8,-21.7 M-28.3,-26.1 -28.4,-24.8 -30.4,-24.4 -31.1,-23.3 M-27.8,-19.3 -26.1,-21 -23.4,-21.3 -22.2,-19.4 -21.6,-18.1 -22.3,-17 -24.2,-14.8 M-21.6,-18.1 -20,-17.9 -19.8,-15.8 -17.9,-16.1 -17.6,-13.9 -15.7,-12.4 -16,-9.3 M-17.9,-16.1 -16.6,-18.1 -16.2,-20 -16.8,-21.7 -13,-22.5 -11.6,-22.2 -9.7,-20.6 -5.9,-20.4 -5.3,-17.5 -5.9,-16.6 -6.9,-14.1 -6,-11.9 -6.6,-10.9 M-5.9,-20.4 -6.1,-23.1 -0.3,-23.6 0,-23.6 1.1,-21.3 1.3,-17.5 1.2,-14.7 2.5,-13 M1.9,-23.4 1.7,-21.3 3.4,-19.1 3.5,-13.3 M0,-23.6 1.9,-23.4 2.9,-24.3 5,-25.2 5.9,-25.9 7.5,-24.8 7.8,-22.1 5.9,-19.4 5.7,-16.8 5.8,-13.6 M-11.6,-22.2 -11.1,-25 -9.2,-26.9 -8.9,-28 -6.9,-28.2 -6,-29.6 -4.1,-30 -4.1,-31.3 -1.5,-31.8 0.5,-31.5 0.6,-30.2 2.1,-28.4 2.1,-27.5 4.4,-26.9 5,-25.2 M0.5,-31.5 2.7,-32.3 7.2,-32.5 8.6,-35 8.6,-40.2 M7.5,-24.8 7.6,-26.5 8.5,-27.5 8.5,-28.6 11.4,-29.4 13.9,-28.3 16.2,-28.3 18.7,-27.2 20.7,-28.2 25.8,-27.6 28,-28.6 27.7,-30.4 31.3,-35.6 31.2,-38.8 30.8,-41.9 29.5,-44.5 29.2,-47.8 M23.3,-48.8 27.7,-47 29.2,-47.8 31,-48.7 39,-44.8 46.9,-40.9 M23.3,-48.8 19.2,-50.8 19,-54.6 18.1,-54.4 18.6,-57.3 18.2,-59.3 17.5,-61.6 16.3,-65 14.9,-65.8 13.3,-68.1 14.4,-69.6 14.2,-72.6 14.6,-73.6 M17.5,-61.6 18.8,-62.9 18.6,-64.3 20.6,-65.8 20.5,-66.9 M44.3,-64.2 44.2,-61.6 45.2,-59.7 46.7,-52.9 48,-45.9 48.6,-41.9 46.8,-41.9 46.9,-40.9 47.9,-33.1 45.9,-32.7 45.4,-29.8 44.9,-26.9 46.1,-24.4 46.7,-23.2 M48,-45.9 53.6,-45.9 59.1,-45.9 68.1,-45.9 M46.7,-23.2 44.5,-22.5 42.1,-19.4 39.4,-19.1 38.7,-17.2 35.5,-16.2 32.4,-16 M32.4,-16 32.1,-19.1 29.6,-21.3 32,-21.3 31.1,-23.4 31.2,-25.4 29.9,-27.3 29,-27.7 28,-28.6 M29,-27.7 29.3,-26.3 28.3,-23.4 27.5,-21.3 26.8,-19.1 25.2,-16.4 23.8,-14.1 21.7,-14.7 20.3,-13.9 18.8,-12.4 18.2,-10.2 M32.4,-16 30.7,-13.2 30.5,-10.7 31.8,-8.3 34.1,-4.7 33.7,-3.5 30.6,-4.6 28.1,-4.7 24.1,-4.7 20.8,-4.9 M24.1,-4.7 24.1,-2.1 20.8,-2.1 M28.1,-4.7 27.9,-2.8 30,-3 30.6,-1.3 29.4,0.4 30.6,1.3 30.4,4.1 29.4,5.1 27.5,4.9 26.5,4.1 25.4,5.1 24.6,5.1 25.2,7 23.5,8.4 M34.1,-4.7 34.9,-7.5 39,-7.5 38,-5.1 37.4,-2.1 37.6,-0.6 37.2,1.1 34.1,4.7 34.1,7 32.2,9.2 30.3,10.3 28.3,10.2 27.4,9.8 26.6,10.5 25.7,12.3 M25.9,12.9 27.8,12.5 34.8,12.6 35.3,14.9 36.6,17.2 40.3,17 40.3,14.9 42.5,14.9 45.1,15.6 45.2,17.9 45.2,21 45.6,23.8 48.7,23.1 48.5,27.5 44.7,27.5 44,34.1 46.3,37 M48.9,23.1 49.6,24 51.3,23.8 52.5,25.2 54.8,24.6 56.8,26.5 57.7,28.4 59.2,28.5 59.5,25.8 58,26.3 57,25 57.7,21.7 57.8,19.8 58.5,18.1 61.9,17.5 M61.9,17.5 60.1,13.9 59.9,9.5 59.6,7 59.3,5.8 59.7,3.6 60.4,3 60.5,1.1 61.1,-1.7 62.1,-2.6 63.5,-4.6 62.5,-5.1 62.6,-7.5 M62.6,-7.5 60.1,-9.5 58.1,-9.2 56.1,-10.8 52.1,-10.7 50.4,-10.9 47.5,-10.1 46.5,-8.8 42.9,-9.4 40.7,-10.9 38.9,-9.2 39,-7.5 M56.1,-10.8 54.1,-14.1 51.6,-16.8 49.6,-18.5 48.2,-18.9 48.3,-21 46.7,-23.2 M49.6,-18.5 50.9,-21.9 54.1,-20.2 56.7,-19.8 58.5,-20.6 59.4,-21.3 61.8,-20.7 63.4,-25.4 65.5,-25.9 65.5,-22.9 67.3,-20.2 67.7,-20.2 M67.7,-20.2 67.9,-18.1 66,-16.8 67.9,-15.3 69.8,-12.8 71.5,-11.3 71.5,-9.9 M67.7,-20.2 67.8,-22.5 68.7,-25 70.4,-26.9 70.5,-30.1 70.4,-35.8 72.6,-37.8 M70.5,-30.1 72.7,-31.5 74.5,-30.9 76.5,-30.5 78,-29 80.6,-26.4 M81.6,-26.9 80.6,-26.4 80.1,-23.4 81.6,-23.3 82.2,-24.3 M81.6,-23.3 82.1,-22.3 84,-19.1 88.6,-17 90.1,-17 86.2,-10.6 83.2,-9.8 81.5,-8.4 80.2,-6 80.3,1.8 81.2,3.5 M81.5,-8.4 78.5,-9 77.7,-7.3 75.4,-7.7 73.4,-9.4 71.7,-9.5 71.5,-9.9 68.3,-9 69.4,-6.4 70.2,-3.8 69.3,-2.1 68.4,-0.4 68.3,2.1 M68.3,2.1 74.7,6.6 74.5,7.5 77.1,10 M62.6,-7.5 64.4,-8.1 66.5,-8.1 68.3,-9 M60.4,3 62.1,2.2 68.3,2.1 M62.1,2.2 62.7,4.9 61.9,6.2 62.6,7 61,9.4 59.9,9.5 M59.3,5.8 62.1,5.1 M61.9,17.5 65.6,20 67.5,20.2 68.3,21.3 68.1,24.5 68.7,24.5 73,24.8 74.7,24.2 78.1,22.2 M65.6,20 66,23.1 65.1,26.5 64.3,28.8 65,29.6 67,30.4 66.8,32.9 66.2,34.4 67.6,36 68.8,33.7 69.4,31.5 68.1,28.6 68.1,24.5 M65,29.6 59.5,31.3 59.7,32.9 56.9,33.7 55,35.8 52.9,37.7 50.8,37.6 49.7,37.4 M59.7,32.9 61.1,33.7 63.7,35.2 63.4,37.8 62.5,39.8 62.7,41.5 61.6,43.1 61.3,44.5 58.8,46.6 55.6,46.2 53.4,45.1 53.3,42.9 50.9,40.9 49.7,37.4 M23.8,36.3 27.3,36.6 28.7,36.6 36.9,36.6 41.7,37.7 46.3,37 48.4,36.8 49.7,37.4 48.1,37.8 46,37.8 41.6,38.4 40.7,45.9 38.8,45.9 38,51.2 36.8,58.2 34.9,59.2 32.1,58.8 30.4,58.6 M38,51.2 38.6,55.2 40.4,55.3 43.2,52.3 47.7,52.9 50.4,50.3 50.9,49.1 53.6,47 55.6,46.2 M58.8,46.6 58.7,48.8 59,50.8 58.2,53.6 58.1,55.2 59.3,55.3 M58.2,53.6 57.3,53.2 55.9,55.2 56.5,56.1 57.9,55.2 M48.3,60.5 50.4,58.8 52.3,59.5 51.8,61 49.8,62.4 48.6,61.8 48.3,60.5 M58.9,-63.6 61,-60.3 M61.1,-60.3 62.8,-59.7 64.5,-61.2 62.8,-64 65.3,-64.9 65.4,-65.4 64,-67.4 60.6,-65.9 60,-66.1 60.7,-64 60.8,-63 61.1,-60.3 M60,-66.1 60,-67.2 60.4,-68.8 59.2,-69.6 M64,-67.4 66.3,-69.2 65.6,-71.3 65.8,-73.8 68.7,-73.9 65.7,-77.7 66.4,-78.2 63.6,-80.5 60.8,-81.1 M58.5,-71.7 58.6,-73.3 60.3,-73.4 63,-73.3 65.8,-73.8 M65.4,-65.4 67.3,-64.7 70.3,-63.2 75.2,-59.7 77.6,-59.5 78.4,-61.2 78.8,-61.2 79.4,-61.2 M77.6,-59.5 78.9,-59.3 79.6,-58.4 80.4,-58.5 M68.7,-73.9 70.5,-71.9 72.2,-70.6 72.2,-69 73.9,-66.8 77.1,-64.5 77.6,-63 78.4,-62.1 79.4,-61.2 M64.5,-61.2 64.9,-62.1 62.8,-64 M62.8,-59.7 63.6,-61 64.5,-61.2 M79.8,-34.6 80,-36.6 81.4,-36.6 82.9,-36.6 84.7,-36.2 86.3,-36 86.7,-38.2 87.7,-39 91.2,-39.8 94.2,-41.9 93.7,-45.9 92.7,-47.2 92.5,-47.8 M91.2,-39.8 93.8,-35.1 M92.7,-47.2 89.5,-47.7 87.6,-50 86.9,-50.8 M86.2,-51.2 86.7,-51 M92.5,-47.8 92.3,-50.2 92.4,-51.5 91.3,-53.7 M66.4,-78.2 69.1,-76.9 70.1,-78 72.3,-76 M65.7,-77.7 66.4,-78.2 M63.6,-80.5 65.1,-80.6 66.9,-80.5 66.1,-81.7 68.3,-81.6 M57.2,-84.1 60.3,-83.8 62.6,-82.8 66,-81.7 66.1,-81.7 M78.7,-74.2 79.9,-75.5 82.7,-74.7 85.1,-73 86.1,-73 87.6,-70.6 88.3,-68.4 91.2,-64 92.5,-63 92.8,-60.8 96.8,-55.9 97.7,-54.8 97.4,-52.1 M92.8,-60.8 94.6,-60.1 97.2,-61 96.2,-62.9 97.2,-64.7 95.9,-67.6 95.9,-68.4 93.9,-71.9 94.2,-73.7 M86.1,-73 88.6,-70.7 89,-72.5 89.2,-74.3 90.3,-74 90.8,-74.7 92.9,-73.3 93.9,-71.9 M104.1,-49.2 105.4,-50.6 103.4,-53.7 101.7,-57.5 101.4,-61.2 101.1,-63 98.9,-66.7 97.7,-70.2 M66.9,-89.2 63.3,-90.2 59.4,-93.8 56.9,-94.4 56,-96.5 59.2,-95.8 63.1,-95.1 66,-95.1 67.7,-95.1 63.7,-98.4 64.4,-99.6 64.9,-100.8 67.7,-99.3 69.8,-98.8 71.1,-98.4 75.9,-95.1 76.5,-95.1 79.9,-92.7 M72.6,-81.9 75.3,-80.8 77.1,-80.8 71.8,-86.5 73.1,-87.5 76.7,-85.3 78.4,-84.3 80.1,-84.6 82.6,-82.5 84.6,-80.6 85.8,-80.1 85.8,-80.8 85.7,-81.9 85.6,-82.4 86.5,-82.7 86,-83.8 89.4,-82.2 M77.1,-80.8 76.9,-82.8 78.5,-82.2 79.8,-80.8 81.4,-80.5 83.2,-78.7 85.8,-76.9 89.2,-74.3 M-14,-81.7 -13,-82.1 -10.5,-81.8 -9.9,-81.3 -11.1,-80.3 -11.2,-79 -11.5,-78.2 -12.3,-78 -11.6,-77 -12.2,-76 -11.7,-75.7 -12.7,-74.5 -12.6,-74 M-2.8,-84 -1.1,-83.3 1.1,-83.2 2.2,-82.8 2.8,-82.6 5,-82.6 M11.5,-84.7 11.8,-85.3 10.5,-85.6 10.5,-86.9 10.1,-87.7 10.4,-87.9 10,-88.6 9,-88.3 8.9,-88.9 10.1,-90.1 10.9,-90.4 10.8,-91.1 11.5,-92.4 9.3,-92.7 8.4,-93.1 8,-93.1 6.6,-93.8 5.8,-93.8 5.6,-94.2 4.2,-94.9 3.4,-95.3 M10.4,-87.9 11.7,-88 12.3,-88.6 13.3,-87.8 13.6,-88.6 14.7,-88.9 15.2,-89.3 17.5,-89.5 18,-89.1 20,-88.8 20.1,-87.7 20.4,-87.5 M10.9,-90.4 12.3,-90.5 13.8,-90.3 13.9,-89.7 15.2,-89.3 M13.8,-90.3 15.1,-90.3 17.4,-90.5 18.6,-90.2 18.3,-91.4 19.3,-92 17.1,-93.4 16.5,-94.2 19,-95.1 19.9,-95.1 19.1,-96.5 18.7,-97.2 18.1,-97.6 17.8,-98.9 M19.9,-95.1 21.4,-94.6 22.7,-94.2 23.8,-94.2 25.7,-93.1 26.5,-93.1 27.4,-92.8 30.7,-92.5 30.7,-93.1 31.7,-94.7 30.5,-95.8 30.1,-96.6 29.5,-96.8 29.9,-97.6 28.7,-99 27.6,-99.5 24.1,-99.6 M19.3,-92 20.8,-92.4 23.5,-92 24.1,-91 23.2,-89.3 20,-88.8 M23.5,-92 25.7,-93.1 M24.1,-91 26.5,-90.7 28.4,-91.7 30.6,-91.5 30.7,-92.5 M30.6,-91.5 31.9,-91 31,-90.2 30.3,-88.5 29.4,-88.3 27.5,-87.9 24.8,-88.2 23.6,-89.1 23.2,-89.3 M20.2,-87.3 21.6,-87.5 22.6,-87.3 22.9,-88.3 23.6,-89.1 M27.5,-87.9 28.2,-86.4 28.8,-86.4 28.7,-85.5 29.9,-83.8 28.6,-82.7 M23.3,-86.9 25.1,-86.9 28.2,-86.4 M24.5,-84.3 27.1,-83.5 28.6,-82.7 M29.4,-88.3 31.5,-86.9 33.4,-85.8 33.9,-85.3 33.6,-85 34.1,-83.5 35.3,-82.5 34.5,-82.4 33.4,-82.3 32.1,-81.7 31,-82.8 29.9,-83.8 M30.2,-81.7 30.6,-82.7 31,-82.8 M32.1,-81.7 32.2,-80.8 33.2,-80.1 32.2,-78.2 M33.2,-80.1 35.8,-80.8 38,-81.2 40.4,-80.9 41,-81.3 40.3,-80.8 40.7,-79.9 M35.8,-80.8 35.3,-82.5 M41,-81.3 42.6,-81.9 42.7,-81.9 M33.9,-85.3 36,-84.6 38.7,-84.9 40.3,-85.2 42.3,-84.6 M31.9,-91 34,-90.9 36.5,-91.3 39.7,-88.9 40.5,-87.3 42.5,-87.2 M36.5,-91.3 38.2,-91.5 40,-90.8 42.2,-88.6 40.5,-87.3 M31.7,-94.7 30.9,-95.9 30.5,-95.8 M30.5,-95.8 31.9,-96.3 35.5,-95.9 38.8,-95.5 39.6,-96.6 41.9,-96.8 45.3,-94.3 48.5,-93.6 51,-93.2 52.6,-90.7 51.5,-89.7 M39.6,-96.6 39.4,-98.3 36.1,-100 35.5,-101 32.2,-101.7 30.8,-103 30.3,-103.2 29.3,-105.4 M28.7,-99 30.9,-99.4 30.9,-101.1 32.2,-101.7 M24.5,-101.6 28.5,-101.9 30.9,-101.1 M26.8,-103.7 27.9,-103.8 30.3,-103.2 M27.6,-99.5 27.3,-100.1 25.3,-100.6 M10.6,-100.1 11.6,-100 M8.1,-94.8 8.2,-95.4 8.2,-95.8 7.9,-96.3 8.9,-96.7 9.1,-97.2 9.2,-98 M4.5,-95.6 5.6,-95.7 6.6,-95.7 7.8,-95.3 7.7,-94.9 8.1,-94.8 8.7,-94.2 8.3,-93.9 8.4,-93.1 M12.3,-104.8 12.6,-106.2 12.8,-107.2 12.3,-107.8 11.4,-109.3 12.9,-110 12.8,-111.2 13.1,-112.1 13.2,-113.1 14.1,-113.5 15.4,-113.9 15.4,-114.3 M20.5,-111.6 19.6,-112.2 19,-113.1 18.2,-113.5 15.4,-114.3 16.4,-114.3 18.7,-114 18.6,-114.8 19.7,-115 21.1,-114.4 21.2,-114.3 M21.2,-114.3 21.4,-114.7 M21.2,-114.3 21.7,-113.6 23.2,-113.2 23.3,-112.6 25.3,-111.6 25.8,-110.8 27.1,-110.1 29.2,-109 28.6,-107.3 28.1,-106.6 M-8.9,-100.3 -9.2,-99.9 -10.1,-99.6 -9.1,-99.2 -8.3,-99.1 -7.8,-99.1 M-102.3,-12.7 -102.6,-10.7 -103.5,-8.5 -102,-4.1 -101.3,-4.3 -99.6,-4.9 -97.6,-4.7 -95.8,-8.5 -95.7,-9.1 M-98.5,-12.3 -99.3,-10.5 -98.8,-7.5 -99.6,-4.9 M-102,-4.1 -103.8,-3.2 -104.9,-2.8 -105.7,-4.1 -105.7,-7.5 -105.6,-10.7 -106.3,-11.1 -106.9,-12.6 -106.4,-14.3 -105.5,-15.1 -104.8,-18.1 M-105.7,-7.5 -105.7,-4.1 M-105.6,-10.7 -106.3,-11.1 -107.8,-8.8 -109.7,-8.5 -110.3,-8.3 -109.9,-5.3 -109.4,-4.7 -111.4,-1.7 -112.1,-1.6 -112.6,-2.6 M-112.6,-2.6 -112.8,-4.7 -113.2,-6 -112.7,-7.5 -112.8,-11.3 -112.4,-13.2 -113.9,-13 -114.2,-14.9 -115.5,-14.9 -115.7,-16 -115.4,-17.7 -115.5,-19.8 -115,-22.3 -114,-24.6 -113.5,-25.1 M-112.6,-2.6 -114.8,-3.6 -114.3,-1.3 -115,-1.3 -115,0.4 -114.6,2.3 -114.7,9 M-114.7,9 -115.3,9 -116.5,11.1 -116.5,12.8 -116.7,16 -115.5,19.4 -114.8,21.3 -113.8,20.1 -113.3,23.4 -112.6,23.3 M-114.7,9 -115,8.1 -116.3,5.1 -117.1,4.9 -118.1,0.4 -118.4,0.2 -119.4,-0.9 -120,-3.1 M-118.4,0.2 -118.3,2.1 -119,5.6 -119.6,7.3 -119.7,10.7 -120,9.6 -120.3,9.5 -120.4,7.3 M-112.6,23.3 -111.9,23.4 -110.7,21 -109.7,20.6 -109,24.4 -107.8,26.5 -106.1,27.5 -104.1,28.6 -103.5,29.2 -101.9,34.4 -100.1,34.4 -99.4,36.4 -98.2,37.8 -97.9,39.8 -97.6,42.1 M-112.6,23.3 -111.3,26.5 -111,29 -110.2,32.3 -110.3,33.7 -109.6,34.8 -109.3,36.8 -109.4,38.4 M-109.3,36.8 -108,39.8 -107,41.9 -105.7,44.9 -104.5,47.4 -103.7,47.8 M-103.7,47.8 -103.2,49.8 -103.6,50.8 -102.1,54.2 -100.9,58.4 -99.3,61.8 -98.4,64 -96.1,67.2 -94.9,69 -94.2,70.7 -92.8,73.1 -90.5,76.2 -89.5,78 -86.4,81.9 -83.6,85 -81.3,87.3 -79.3,89.5 -76.9,92.1 -76.2,93.1 -74.1,94.9 -73.4,95.1 -71.7,96.5 -70.8,96.5 -69.4,97 M-69.1,97.3 -65.5,100.1 M-103.7,47.8 -104,45.5 -101.8,47.4 -101.9,45.9 -100.5,46.4 -101.5,42.9 -101.6,41.1 -99.1,40.5 -97.6,42.1 M-100.5,46.4 -97.9,49.4 -95,51.3 -93.3,52.7 -92.9,55.9 -90.5,56.3 -90,52.9 M-97.6,42.1 -96.1,46 -93.6,46.4 -92,49.8 -90.7,50 -90,52.9 M-90,52.9 -88.8,53.7 -87.9,55.6 -89.1,58 -89.3,61.6 M-89.3,61.6 -87.1,62.9 -86.7,62.8 -83.7,65 -82.4,66.1 -81.7,68 M-89.3,61.6 -87.7,65.8 -86.4,68.4 M-118.1,-18.5 -118.7,-15.3 M-120.2,-17.2 -119.7,-20.4 M-79.8,-86.4 -77.1,-89.7 -77.4,-90.2 -80.2,-87.9 -82.1,-86.5 -83.5,-86.5 -85.5,-85.2 -87.4,-83.9 -88.2,-83.2 -90.6,-81.4 -90,-82.2 -88.7,-83.5 -85.4,-87 -83.9,-88.8 -81.4,-91.4 -81.9,-91 -86.5,-99.9 -86.2,-100.2 -85.8,-100.6 -85.2,-101 -84.5,-101.7 -83.6,-102.4 M-64.1,-95.7 -63.3,-96.5 -65.6,-96.5 -67.7,-96.5 -66.2,-97.6 -67.4,-97.8 -64.9,-100.3 -62.9,-100.3 -60.2,-102.7 -54.7,-106.3 M-118.7,-58.2 -116.9,-61.7 -114.2,-66.6 -114,-66.9 -111.1,-71.7 -110.8,-72.1 M-109.4,-41.3 -110.3,-38.4"/>
<clipPath id="cg"><circle r="122.4"/></clipPath>
<clipPath id="cl"><use href="#land"/></clipPath>
<linearGradient id="jet0" gradientUnits="userSpaceOnUse" x1="0" y1="37.9" x2="0" y2="261.1"><stop offset="0.0000" stop-color="#8c1919"/><stop offset="0.0312" stop-color="#ad1919"/><stop offset="0.0625" stop-color="#cd1919"/><stop offset="0.0938" stop-color="#ee1d19"/><stop offset="0.1250" stop-color="#ff3719"/><stop offset="0.1562" stop-color="#ff5219"/><stop offset="0.1875" stop-color="#ff6c19"/><stop offset="0.2188" stop-color="#ff8719"/><stop offset="0.2500" stop-color="#ffa219"/><stop offset="0.2812" stop-color="#ffbc19"/><stop offset="0.3125" stop-color="#ffd719"/><stop offset="0.3438" stop-color="#fcf119"/><stop offset="0.3750" stop-color="#e5ff2c"/><stop offset="0.4062" stop-color="#ceff43"/><stop offset="0.4375" stop-color="#b7ff5a"/><stop offset="0.4688" stop-color="#a0ff71"/><stop offset="0.5000" stop-color="#89ff89"/><stop offset="0.5312" stop-color="#71ffa0"/><stop offset="0.5625" stop-color="#5affb7"/><stop offset="0.5938" stop-color="#43ffce"/><stop offset="0.6250" stop-color="#2cffe5"/><stop offset="0.6562" stop-color="#1be2fb"/><stop offset="0.6875" stop-color="#1dc5fc"/><stop offset="0.7188" stop-color="#1fa8fa"/><stop offset="0.7500" stop-color="#218bf9"/><stop offset="0.7812" stop-color="#236ef7"/><stop offset="0.8125" stop-color="#2551f5"/><stop offset="0.8438" stop-color="#2734f4"/><stop offset="0.8750" stop-color="#2917f2"/><stop offset="0.9062" stop-color="#2717e2"/><stop offset="0.9375" stop-color="#2318c3"/><stop offset="0.9688" stop-color="#2018a5"/><stop offset="1.0000" stop-color="#1d1886"/></linearGradient>
<linearGradient id="jet1" gradientUnits="userSpaceOnUse" x1="0" y1="311.8" x2="0" y2="535.3"><stop offset="0.0000" stop-color="#8c1919"/><stop offset="0.0312" stop-color="#ad1919"/><stop offset="0.0625" stop-color="#cd1919"/><stop offset="0.0938" stop-color="#ee1d19"/><stop offset="0.1250" stop-color="#ff3719"/><stop offset="0.1562" stop-color="#ff5219"/><stop offset="0.1875" stop-color="#ff6c19"/><stop offset="0.2188" stop-color="#ff8719"/><stop offset="0.2500" stop-color="#ffa219"/><stop offset="0.2812" stop-color="#ffbc19"/><stop offset="0.3125" stop-color="#ffd719"/><stop offset="0.3438" stop-color="#fcf119"/><stop offset="0.3750" stop-color="#e5ff2c"/><stop offset="0.4062" stop-color="#ceff43"/><stop offset="0.4375" stop-color="#b7ff5a"/><stop offset="0.4688" stop-color="#a0ff71"/><stop offset="0.5000" stop-color="#89ff89"/><stop offset="0.5312" stop-color="#71ffa0"/><stop offset="0.5625" stop-color="#5affb7"/><stop offset="0.5938" stop-color="#43ffce"/><stop offset="0.6250" stop-color="#2cffe5"/><stop offset="0.6562" stop-color="#1be2fb"/><stop offset="0.6875" stop-color="#1dc5fc"/><stop offset="0.7188" stop-color="#1fa8fa"/><stop offset="0.7500" stop-color="#218bf9"/><stop offset="0.7812" stop-color="#236ef7"/><stop offset="0.8125" stop-color="#2551f5"/><stop offset="0.8438" stop-color="#2734f4"/><stop offset="0.8750" stop-color="#2917f2"/><stop offset="0.9062" stop-color="#2717e2"/><stop offset="0.9375" stop-color="#2318c3"/><stop offset="0.9688" stop-color="#2018a5"/><stop offset="1.0000" stop-color="#1d1886"/></linearGradient>
<filter id="fBRDF1" filterUnits="userSpaceOnUse" x="-126" y="-126" width="252" height="252" color-interpolation-filters="sRGB">
<feGaussianBlur in="SourceGraphic" stdDeviation="1.6" result="b"/>
<feColorMatrix in="b" type="matrix" values=".5 0 0 0 0 .5 0 0 0 0 .5 0 0 0 0 0 0 0 0 1" result="bv"/>
<feColorMatrix in="b" type="matrix" values="0 1 0 0 0 0 1 0 0 0 0 1 0 0 0 0 0 0 0 1" result="ba"/>
<feTurbulence type="fractalNoise" baseFrequency="0.6" numOctaves="2" seed="3" result="n"/>
<feColorMatrix in="n" type="matrix" values="1 0 0 0 0 1 0 0 0 0 1 0 0 0 0 0 0 0 0 1" result="ng"/>
<feTurbulence type="fractalNoise" baseFrequency="0.33" numOctaves="2" seed="23" result="n2"/>
<feColorMatrix in="n2" type="matrix" values="7 0 0 0 -4.3 7 0 0 0 -4.3 7 0 0 0 -4.3 0 0 0 0 1" result="d"/>
<feComposite in="ba" in2="ng" operator="arithmetic" k1="0.25" k2="0" k3="0" k4="0" result="t1"/>
<feComposite in="bv" in2="ba" operator="arithmetic" k1="0" k2="1" k3="-0.125" k4="0.125" result="t2"/>
<feComposite in="t1" in2="t2" operator="arithmetic" k1="0" k2="1" k3="1" k4="-0.125" result="t3"/>
<feComposite in="ba" in2="d" operator="arithmetic" k1="0.15" k2="0" k3="0" k4="0" result="t4"/>
<feComposite in="t3" in2="t4" operator="arithmetic" k1="0" k2="1" k3="-1" k4="0" result="v0"/>
<feFlood flood-color="#000" result="blk"/>
<feComposite in="v0" in2="blk" operator="arithmetic" k1="0" k2="1" k3="1" k4="0" result="v"/>
<feComponentTransfer in="v"><feFuncR type="table" tableValues="0.115 0.120 0.125 0.131 0.137 0.144 0.151 0.160 0.160 0.156 0.152 0.149 0.145 0.141 0.137 0.134 0.130 0.126 0.122 0.119 0.115 0.111 0.107 0.127 0.173 0.218 0.263 0.309 0.354 0.399 0.445 0.490 0.535 0.581 0.626 0.672 0.717 0.762 0.808 0.853 0.898 0.944 0.989 1.000 1.000 1.000 1.000 1.000 1.000 1.000 1.000 1.000 1.000 1.000 1.000 1.000 1.000 0.997 0.934 0.870 0.806 0.742 0.678 0.614 0.550 0.550 0.550 0.550 0.550 0.550 0.550 0.550 0.550 0.550 0.550 0.550 0.550 0.550 0.550 0.550 0.550 0.550 0.550 0.550 0.550 0.550 0.550 0.550 0.550 0.550 0.550 0.550 0.550 0.550 0.550 0.550 0.550 0.550 0.550 0.550 0.550 0.550 0.550 0.550 0.550 0.550 0.550 0.550 0.550 0.550 0.550 0.550 0.550 0.550 0.550 0.550 0.550 0.550 0.550 0.550 0.550 0.550 0.550 0.550 0.550 0.550 0.550 0.550 0.550"/><feFuncG type="table" tableValues="0.095 0.094 0.094 0.093 0.092 0.091 0.091 0.090 0.090 0.147 0.204 0.261 0.317 0.374 0.431 0.488 0.545 0.602 0.659 0.716 0.773 0.829 0.886 0.944 1.000 1.000 1.000 1.000 1.000 1.000 1.000 1.000 1.000 1.000 1.000 1.000 1.000 1.000 1.000 1.000 1.000 0.998 0.946 0.894 0.842 0.790 0.738 0.685 0.633 0.581 0.529 0.477 0.425 0.373 0.321 0.269 0.217 0.165 0.113 0.100 0.100 0.100 0.100 0.100 0.100 0.100 0.100 0.100 0.100 0.100 0.100 0.100 0.100 0.100 0.100 0.100 0.100 0.100 0.100 0.100 0.100 0.100 0.100 0.100 0.100 0.100 0.100 0.100 0.100 0.100 0.100 0.100 0.100 0.100 0.100 0.100 0.100 0.100 0.100 0.100 0.100 0.100 0.100 0.100 0.100 0.100 0.100 0.100 0.100 0.100 0.100 0.100 0.100 0.100 0.100 0.100 0.100 0.100 0.100 0.100 0.100 0.100 0.100 0.100 0.100 0.100 0.100 0.100 0.100"/><feFuncB type="table" tableValues="0.525 0.585 0.646 0.706 0.766 0.827 0.887 0.948 0.950 0.953 0.956 0.959 0.963 0.966 0.969 0.972 0.975 0.978 0.981 0.984 0.988 0.991 0.983 0.944 0.898 0.853 0.808 0.762 0.717 0.672 0.626 0.581 0.535 0.490 0.445 0.399 0.354 0.309 0.263 0.218 0.173 0.127 0.100 0.100 0.100 0.100 0.100 0.100 0.100 0.100 0.100 0.100 0.100 0.100 0.100 0.100 0.100 0.100 0.100 0.100 0.100 0.100 0.100 0.100 0.100 0.100 0.100 0.100 0.100 0.100 0.100 0.100 0.100 0.100 0.100 0.100 0.100 0.100 0.100 0.100 0.100 0.100 0.100 0.100 0.100 0.100 0.100 0.100 0.100 0.100 0.100 0.100 0.100 0.100 0.100 0.100 0.100 0.100 0.100 0.100 0.100 0.100 0.100 0.100 0.100 0.100 0.100 0.100 0.100 0.100 0.100 0.100 0.100 0.100 0.100 0.100 0.100 0.100 0.100 0.100 0.100 0.100 0.100 0.100 0.100 0.100 0.100 0.100 0.100"/></feComponentTransfer>
</filter>
<filter id="fBRDF2" filterUnits="userSpaceOnUse" x="-126" y="-126" width="252" height="252" color-interpolation-filters="sRGB">
<feGaussianBlur in="SourceGraphic" stdDeviation="1.6" result="b"/>
<feColorMatrix in="b" type="matrix" values=".5 0 0 0 0 .5 0 0 0 0 .5 0 0 0 0 0 0 0 0 1" result="bv"/>
<feColorMatrix in="b" type="matrix" values="0 1 0 0 0 0 1 0 0 0 0 1 0 0 0 0 0 0 0 1" result="ba"/>
<feTurbulence type="fractalNoise" baseFrequency="0.6" numOctaves="2" seed="3" result="n"/>
<feColorMatrix in="n" type="matrix" values="1 0 0 0 0 1 0 0 0 0 1 0 0 0 0 0 0 0 0 1" result="ng"/>
<feTurbulence type="fractalNoise" baseFrequency="0.6" numOctaves="2" seed="23" result="n2"/>
<feColorMatrix in="n2" type="matrix" values="10 0 0 0 -6.7 10 0 0 0 -6.7 10 0 0 0 -6.7 0 0 0 0 1" result="d"/>
<feComposite in="ba" in2="ng" operator="arithmetic" k1="0.35" k2="0" k3="0" k4="0" result="t1"/>
<feComposite in="bv" in2="ba" operator="arithmetic" k1="0" k2="1" k3="-0.175" k4="0.175" result="t2"/>
<feComposite in="t1" in2="t2" operator="arithmetic" k1="0" k2="1" k3="1" k4="-0.175" result="t3"/>
<feComposite in="ba" in2="d" operator="arithmetic" k1="0.65" k2="0" k3="0" k4="0" result="t4"/>
<feComposite in="t3" in2="t4" operator="arithmetic" k1="0" k2="1" k3="1" k4="0" result="v0"/>
<feFlood flood-color="#000" result="blk"/>
<feComposite in="v0" in2="blk" operator="arithmetic" k1="0" k2="1" k3="1" k4="0" result="v"/>
<feComponentTransfer in="v"><feFuncR type="table" tableValues="0.115 0.120 0.125 0.131 0.137 0.144 0.151 0.160 0.160 0.156 0.152 0.149 0.145 0.141 0.137 0.134 0.130 0.126 0.122 0.119 0.115 0.111 0.107 0.127 0.173 0.218 0.263 0.309 0.354 0.399 0.445 0.490 0.535 0.581 0.626 0.672 0.717 0.762 0.808 0.853 0.898 0.944 0.989 1.000 1.000 1.000 1.000 1.000 1.000 1.000 1.000 1.000 1.000 1.000 1.000 1.000 1.000 0.997 0.934 0.870 0.806 0.742 0.678 0.614 0.550 0.550 0.550 0.550 0.550 0.550 0.550 0.550 0.550 0.550 0.550 0.550 0.550 0.550 0.550 0.550 0.550 0.550 0.550 0.550 0.550 0.550 0.550 0.550 0.550 0.550 0.550 0.550 0.550 0.550 0.550 0.550 0.550 0.550 0.550 0.550 0.550 0.550 0.550 0.550 0.550 0.550 0.550 0.550 0.550 0.550 0.550 0.550 0.550 0.550 0.550 0.550 0.550 0.550 0.550 0.550 0.550 0.550 0.550 0.550 0.550 0.550 0.550 0.550 0.550"/><feFuncG type="table" tableValues="0.095 0.094 0.094 0.093 0.092 0.091 0.091 0.090 0.090 0.147 0.204 0.261 0.317 0.374 0.431 0.488 0.545 0.602 0.659 0.716 0.773 0.829 0.886 0.944 1.000 1.000 1.000 1.000 1.000 1.000 1.000 1.000 1.000 1.000 1.000 1.000 1.000 1.000 1.000 1.000 1.000 0.998 0.946 0.894 0.842 0.790 0.738 0.685 0.633 0.581 0.529 0.477 0.425 0.373 0.321 0.269 0.217 0.165 0.113 0.100 0.100 0.100 0.100 0.100 0.100 0.100 0.100 0.100 0.100 0.100 0.100 0.100 0.100 0.100 0.100 0.100 0.100 0.100 0.100 0.100 0.100 0.100 0.100 0.100 0.100 0.100 0.100 0.100 0.100 0.100 0.100 0.100 0.100 0.100 0.100 0.100 0.100 0.100 0.100 0.100 0.100 0.100 0.100 0.100 0.100 0.100 0.100 0.100 0.100 0.100 0.100 0.100 0.100 0.100 0.100 0.100 0.100 0.100 0.100 0.100 0.100 0.100 0.100 0.100 0.100 0.100 0.100 0.100 0.100"/><feFuncB type="table" tableValues="0.525 0.585 0.646 0.706 0.766 0.827 0.887 0.948 0.950 0.953 0.956 0.959 0.963 0.966 0.969 0.972 0.975 0.978 0.981 0.984 0.988 0.991 0.983 0.944 0.898 0.853 0.808 0.762 0.717 0.672 0.626 0.581 0.535 0.490 0.445 0.399 0.354 0.309 0.263 0.218 0.173 0.127 0.100 0.100 0.100 0.100 0.100 0.100 0.100 0.100 0.100 0.100 0.100 0.100 0.100 0.100 0.100 0.100 0.100 0.100 0.100 0.100 0.100 0.100 0.100 0.100 0.100 0.100 0.100 0.100 0.100 0.100 0.100 0.100 0.100 0.100 0.100 0.100 0.100 0.100 0.100 0.100 0.100 0.100 0.100 0.100 0.100 0.100 0.100 0.100 0.100 0.100 0.100 0.100 0.100 0.100 0.100 0.100 0.100 0.100 0.100 0.100 0.100 0.100 0.100 0.100 0.100 0.100 0.100 0.100 0.100 0.100 0.100 0.100 0.100 0.100 0.100 0.100 0.100 0.100 0.100 0.100 0.100 0.100 0.100 0.100 0.100 0.100 0.100"/></feComponentTransfer>
</filter>
<filter id="fBRDF3" filterUnits="userSpaceOnUse" x="-126" y="-126" width="252" height="252" color-interpolation-filters="sRGB">
<feGaussianBlur in="SourceGraphic" stdDeviation="1.6" result="b"/>
<feColorMatrix in="b" type="matrix" values=".5 0 0 0 0 .5 0 0 0 0 .5 0 0 0 0 0 0 0 0 1" result="bv"/>
<feColorMatrix in="b" type="matrix" values="0 1 0 0 0 0 1 0 0 0 0 1 0 0 0 0 0 0 0 1" result="ba"/>
<feTurbulence type="fractalNoise" baseFrequency="0.6" numOctaves="2" seed="3" result="n"/>
<feColorMatrix in="n" type="matrix" values="1 0 0 0 0 1 0 0 0 0 1 0 0 0 0 0 0 0 0 1" result="ng"/>
<feTurbulence type="fractalNoise" baseFrequency="0.3" numOctaves="2" seed="23" result="n2"/>
<feColorMatrix in="n2" type="matrix" values="5 0 0 0 -2.5 5 0 0 0 -2.5 5 0 0 0 -2.5 0 0 0 0 1" result="d"/>
<feComposite in="ba" in2="ng" operator="arithmetic" k1="0.125" k2="0" k3="0" k4="0" result="t1"/>
<feComposite in="bv" in2="ba" operator="arithmetic" k1="0" k2="1" k3="-0.0625" k4="0.0625" result="t2"/>
<feComposite in="t1" in2="t2" operator="arithmetic" k1="0" k2="1" k3="1" k4="-0.0625" result="t3"/>
<feComposite in="ba" in2="d" operator="arithmetic" k1="0.11" k2="0" k3="0" k4="0" result="t4"/>
<feComposite in="t3" in2="t4" operator="arithmetic" k1="0" k2="1" k3="1" k4="0" result="v0"/>
<feFlood flood-color="#000" result="blk"/>
<feComposite in="v0" in2="blk" operator="arithmetic" k1="0" k2="1" k3="1" k4="0" result="v"/>
<feComponentTransfer in="v"><feFuncR type="table" tableValues="0.115 0.120 0.125 0.131 0.137 0.144 0.151 0.160 0.160 0.156 0.152 0.149 0.145 0.141 0.137 0.134 0.130 0.126 0.122 0.119 0.115 0.111 0.107 0.127 0.173 0.218 0.263 0.309 0.354 0.399 0.445 0.490 0.535 0.581 0.626 0.672 0.717 0.762 0.808 0.853 0.898 0.944 0.989 1.000 1.000 1.000 1.000 1.000 1.000 1.000 1.000 1.000 1.000 1.000 1.000 1.000 1.000 0.997 0.934 0.870 0.806 0.742 0.678 0.614 0.550 0.550 0.550 0.550 0.550 0.550 0.550 0.550 0.550 0.550 0.550 0.550 0.550 0.550 0.550 0.550 0.550 0.550 0.550 0.550 0.550 0.550 0.550 0.550 0.550 0.550 0.550 0.550 0.550 0.550 0.550 0.550 0.550 0.550 0.550 0.550 0.550 0.550 0.550 0.550 0.550 0.550 0.550 0.550 0.550 0.550 0.550 0.550 0.550 0.550 0.550 0.550 0.550 0.550 0.550 0.550 0.550 0.550 0.550 0.550 0.550 0.550 0.550 0.550 0.550"/><feFuncG type="table" tableValues="0.095 0.094 0.094 0.093 0.092 0.091 0.091 0.090 0.090 0.147 0.204 0.261 0.317 0.374 0.431 0.488 0.545 0.602 0.659 0.716 0.773 0.829 0.886 0.944 1.000 1.000 1.000 1.000 1.000 1.000 1.000 1.000 1.000 1.000 1.000 1.000 1.000 1.000 1.000 1.000 1.000 0.998 0.946 0.894 0.842 0.790 0.738 0.685 0.633 0.581 0.529 0.477 0.425 0.373 0.321 0.269 0.217 0.165 0.113 0.100 0.100 0.100 0.100 0.100 0.100 0.100 0.100 0.100 0.100 0.100 0.100 0.100 0.100 0.100 0.100 0.100 0.100 0.100 0.100 0.100 0.100 0.100 0.100 0.100 0.100 0.100 0.100 0.100 0.100 0.100 0.100 0.100 0.100 0.100 0.100 0.100 0.100 0.100 0.100 0.100 0.100 0.100 0.100 0.100 0.100 0.100 0.100 0.100 0.100 0.100 0.100 0.100 0.100 0.100 0.100 0.100 0.100 0.100 0.100 0.100 0.100 0.100 0.100 0.100 0.100 0.100 0.100 0.100 0.100"/><feFuncB type="table" tableValues="0.525 0.585 0.646 0.706 0.766 0.827 0.887 0.948 0.950 0.953 0.956 0.959 0.963 0.966 0.969 0.972 0.975 0.978 0.981 0.984 0.988 0.991 0.983 0.944 0.898 0.853 0.808 0.762 0.717 0.672 0.626 0.581 0.535 0.490 0.445 0.399 0.354 0.309 0.263 0.218 0.173 0.127 0.100 0.100 0.100 0.100 0.100 0.100 0.100 0.100 0.100 0.100 0.100 0.100 0.100 0.100 0.100 0.100 0.100 0.100 0.100 0.100 0.100 0.100 0.100 0.100 0.100 0.100 0.100 0.100 0.100 0.100 0.100 0.100 0.100 0.100 0.100 0.100 0.100 0.100 0.100 0.100 0.100 0.100 0.100 0.100 0.100 0.100 0.100 0.100 0.100 0.100 0.100 0.100 0.100 0.100 0.100 0.100 0.100 0.100 0.100 0.100 0.100 0.100 0.100 0.100 0.100 0.100 0.100 0.100 0.100 0.100 0.100 0.100 0.100 0.100 0.100 0.100 0.100 0.100 0.100 0.100 0.100 0.100 0.100 0.100 0.100 0.100 0.100"/></feComponentTransfer>
</filter>
<filter id="fNDVI" filterUnits="userSpaceOnUse" x="-126" y="-126" width="252" height="252" color-interpolation-filters="sRGB">
<feGaussianBlur in="SourceGraphic" stdDeviation="1.6" result="b"/>
<feColorMatrix in="b" type="matrix" values=".5 0 0 0 0 .5 0 0 0 0 .5 0 0 0 0 0 0 0 0 1" result="bv"/>
<feColorMatrix in="b" type="matrix" values="0 1 0 0 0 0 1 0 0 0 0 1 0 0 0 0 0 0 0 1" result="ba"/>
<feTurbulence type="fractalNoise" baseFrequency="0.6" numOctaves="2" seed="3" result="n"/>
<feColorMatrix in="n" type="matrix" values="1 0 0 0 0 1 0 0 0 0 1 0 0 0 0 0 0 0 0 1" result="ng"/>
<feTurbulence type="fractalNoise" baseFrequency="0.33" numOctaves="2" seed="23" result="n2"/>
<feColorMatrix in="n2" type="matrix" values="7 0 0 0 -4.3 7 0 0 0 -4.3 7 0 0 0 -4.3 0 0 0 0 1" result="d"/>
<feComposite in="ba" in2="ng" operator="arithmetic" k1="0.25" k2="0" k3="0" k4="0" result="t1"/>
<feComposite in="bv" in2="ba" operator="arithmetic" k1="0" k2="1" k3="-0.125" k4="0.125" result="t2"/>
<feComposite in="t1" in2="t2" operator="arithmetic" k1="0" k2="1" k3="1" k4="-0.125" result="t3"/>
<feComposite in="ba" in2="d" operator="arithmetic" k1="0.15" k2="0" k3="0" k4="0" result="t4"/>
<feComposite in="t3" in2="t4" operator="arithmetic" k1="0" k2="1" k3="-1" k4="0" result="v0"/>
<feFlood flood-color="#000" result="blk"/>
<feComposite in="v0" in2="blk" operator="arithmetic" k1="0" k2="1" k3="1" k4="0" result="v"/>
<feComponentTransfer in="v"><feFuncR type="table" tableValues="0.115 0.120 0.125 0.131 0.137 0.144 0.151 0.160 0.160 0.156 0.152 0.149 0.145 0.141 0.137 0.134 0.130 0.126 0.122 0.119 0.115 0.111 0.107 0.127 0.173 0.218 0.263 0.309 0.354 0.399 0.445 0.490 0.535 0.581 0.626 0.672 0.717 0.762 0.808 0.853 0.898 0.944 0.989 1.000 1.000 1.000 1.000 1.000 1.000 1.000 1.000 1.000 1.000 1.000 1.000 1.000 1.000 0.997 0.934 0.870 0.806 0.742 0.678 0.614 0.550 0.550 0.550 0.550 0.550 0.550 0.550 0.550 0.550 0.550 0.550 0.550 0.550 0.550 0.550 0.550 0.550 0.550 0.550 0.550 0.550 0.550 0.550 0.550 0.550 0.550 0.550 0.550 0.550 0.550 0.550 0.550 0.550 0.550 0.550 0.550 0.550 0.550 0.550 0.550 0.550 0.550 0.550 0.550 0.550 0.550 0.550 0.550 0.550 0.550 0.550 0.550 0.550 0.550 0.550 0.550 0.550 0.550 0.550 0.550 0.550 0.550 0.550 0.550 0.550"/><feFuncG type="table" tableValues="0.095 0.094 0.094 0.093 0.092 0.091 0.091 0.090 0.090 0.147 0.204 0.261 0.317 0.374 0.431 0.488 0.545 0.602 0.659 0.716 0.773 0.829 0.886 0.944 1.000 1.000 1.000 1.000 1.000 1.000 1.000 1.000 1.000 1.000 1.000 1.000 1.000 1.000 1.000 1.000 1.000 0.998 0.946 0.894 0.842 0.790 0.738 0.685 0.633 0.581 0.529 0.477 0.425 0.373 0.321 0.269 0.217 0.165 0.113 0.100 0.100 0.100 0.100 0.100 0.100 0.100 0.100 0.100 0.100 0.100 0.100 0.100 0.100 0.100 0.100 0.100 0.100 0.100 0.100 0.100 0.100 0.100 0.100 0.100 0.100 0.100 0.100 0.100 0.100 0.100 0.100 0.100 0.100 0.100 0.100 0.100 0.100 0.100 0.100 0.100 0.100 0.100 0.100 0.100 0.100 0.100 0.100 0.100 0.100 0.100 0.100 0.100 0.100 0.100 0.100 0.100 0.100 0.100 0.100 0.100 0.100 0.100 0.100 0.100 0.100 0.100 0.100 0.100 0.100"/><feFuncB type="table" tableValues="0.525 0.585 0.646 0.706 0.766 0.827 0.887 0.948 0.950 0.953 0.956 0.959 0.963 0.966 0.969 0.972 0.975 0.978 0.981 0.984 0.988 0.991 0.983 0.944 0.898 0.853 0.808 0.762 0.717 0.672 0.626 0.581 0.535 0.490 0.445 0.399 0.354 0.309 0.263 0.218 0.173 0.127 0.100 0.100 0.100 0.100 0.100 0.100 0.100 0.100 0.100 0.100 0.100 0.100 0.100 0.100 0.100 0.100 0.100 0.100 0.100 0.100 0.100 0.100 0.100 0.100 0.100 0.100 0.100 0.100 0.100 0.100 0.100 0.100 0.100 0.100 0.100 0.100 0.100 0.100 0.100 0.100 0.100 0.100 0.100 0.100 0.100 0.100 0.100 0.100 0.100 0.100 0.100 0.100 0.100 0.100 0.100 0.100 0.100 0.100 0.100 0.100 0.100 0.100 0.100 0.100 0.100 0.100 0.100 0.100 0.100 0.100 0.100 0.100 0.100 0.100 0.100 0.100 0.100 0.100 0.100 0.100 0.100 0.100 0.100 0.100 0.100 0.100 0.100"/></feComponentTransfer>
</filter>
<filter id="fDHR" filterUnits="userSpaceOnUse" x="-126" y="-126" width="252" height="252" color-interpolation-filters="sRGB">
<feGaussianBlur in="SourceGraphic" stdDeviation="1.6" result="b"/>
<feColorMatrix in="b" type="matrix" values=".5 0 0 0 0 .5 0 0 0 0 .5 0 0 0 0 0 0 0 0 1" result="bv"/>
<feColorMatrix in="b" type="matrix" values="0 1 0 0 0 0 1 0 0 0 0 1 0 0 0 0 0 0 0 1" result="ba"/>
<feTurbulence type="fractalNoise" baseFrequency="0.6" numOctaves="2" seed="3" result="n"/>
<feColorMatrix in="n" type="matrix" values="1 0 0 0 0 1 0 0 0 0 1 0 0 0 0 0 0 0 0 1" result="ng"/>
<feTurbulence type="fractalNoise" baseFrequency="0.33" numOctaves="2" seed="23" result="n2"/>
<feColorMatrix in="n2" type="matrix" values="7 0 0 0 -4.3 7 0 0 0 -4.3 7 0 0 0 -4.3 0 0 0 0 1" result="d"/>
<feComposite in="ba" in2="ng" operator="arithmetic" k1="0.225" k2="0" k3="0" k4="0" result="t1"/>
<feComposite in="bv" in2="ba" operator="arithmetic" k1="0" k2="1" k3="-0.1125" k4="0.1125" result="t2"/>
<feComposite in="t1" in2="t2" operator="arithmetic" k1="0" k2="1" k3="1" k4="-0.1125" result="t3"/>
<feComposite in="ba" in2="d" operator="arithmetic" k1="0.125" k2="0" k3="0" k4="0" result="t4"/>
<feComposite in="t3" in2="t4" operator="arithmetic" k1="0" k2="1" k3="-1" k4="0" result="v0"/>
<feFlood flood-color="#000" result="blk"/>
<feComposite in="v0" in2="blk" operator="arithmetic" k1="0" k2="1" k3="1" k4="0" result="v"/>
<feComponentTransfer in="v"><feFuncR type="table" tableValues="0.115 0.120 0.125 0.131 0.137 0.144 0.151 0.160 0.160 0.156 0.152 0.149 0.145 0.141 0.137 0.134 0.130 0.126 0.122 0.119 0.115 0.111 0.107 0.127 0.173 0.218 0.263 0.309 0.354 0.399 0.445 0.490 0.535 0.581 0.626 0.672 0.717 0.762 0.808 0.853 0.898 0.944 0.989 1.000 1.000 1.000 1.000 1.000 1.000 1.000 1.000 1.000 1.000 1.000 1.000 1.000 1.000 0.997 0.934 0.870 0.806 0.742 0.678 0.614 0.550 0.550 0.550 0.550 0.550 0.550 0.550 0.550 0.550 0.550 0.550 0.550 0.550 0.550 0.550 0.550 0.550 0.550 0.550 0.550 0.550 0.550 0.550 0.550 0.550 0.550 0.550 0.550 0.550 0.550 0.550 0.550 0.550 0.550 0.550 0.550 0.550 0.550 0.550 0.550 0.550 0.550 0.550 0.550 0.550 0.550 0.550 0.550 0.550 0.550 0.550 0.550 0.550 0.550 0.550 0.550 0.550 0.550 0.550 0.550 0.550 0.550 0.550 0.550 0.550"/><feFuncG type="table" tableValues="0.095 0.094 0.094 0.093 0.092 0.091 0.091 0.090 0.090 0.147 0.204 0.261 0.317 0.374 0.431 0.488 0.545 0.602 0.659 0.716 0.773 0.829 0.886 0.944 1.000 1.000 1.000 1.000 1.000 1.000 1.000 1.000 1.000 1.000 1.000 1.000 1.000 1.000 1.000 1.000 1.000 0.998 0.946 0.894 0.842 0.790 0.738 0.685 0.633 0.581 0.529 0.477 0.425 0.373 0.321 0.269 0.217 0.165 0.113 0.100 0.100 0.100 0.100 0.100 0.100 0.100 0.100 0.100 0.100 0.100 0.100 0.100 0.100 0.100 0.100 0.100 0.100 0.100 0.100 0.100 0.100 0.100 0.100 0.100 0.100 0.100 0.100 0.100 0.100 0.100 0.100 0.100 0.100 0.100 0.100 0.100 0.100 0.100 0.100 0.100 0.100 0.100 0.100 0.100 0.100 0.100 0.100 0.100 0.100 0.100 0.100 0.100 0.100 0.100 0.100 0.100 0.100 0.100 0.100 0.100 0.100 0.100 0.100 0.100 0.100 0.100 0.100 0.100 0.100"/><feFuncB type="table" tableValues="0.525 0.585 0.646 0.706 0.766 0.827 0.887 0.948 0.950 0.953 0.956 0.959 0.963 0.966 0.969 0.972 0.975 0.978 0.981 0.984 0.988 0.991 0.983 0.944 0.898 0.853 0.808 0.762 0.717 0.672 0.626 0.581 0.535 0.490 0.445 0.399 0.354 0.309 0.263 0.218 0.173 0.127 0.100 0.100 0.100 0.100 0.100 0.100 0.100 0.100 0.100 0.100 0.100 0.100 0.100 0.100 0.100 0.100 0.100 0.100 0.100 0.100 0.100 0.100 0.100 0.100 0.100 0.100 0.100 0.100 0.100 0.100 0.100 0.100 0.100 0.100 0.100 0.100 0.100 0.100 0.100 0.100 0.100 0.100 0.100 0.100 0.100 0.100 0.100 0.100 0.100 0.100 0.100 0.100 0.100 0.100 0.100 0.100 0.100 0.100 0.100 0.100 0.100 0.100 0.100 0.100 0.100 0.100 0.100 0.100 0.100 0.100 0.100 0.100 0.100 0.100 0.100 0.100 0.100 0.100 0.100 0.100 0.100 0.100 0.100 0.100 0.100 0.100 0.100"/></feComponentTransfer>
</filter>
<filter id="fBHR_ISO" filterUnits="userSpaceOnUse" x="-126" y="-126" width="252" height="252" color-interpolation-filters="sRGB">
<feGaussianBlur in="SourceGraphic" stdDeviation="1.6" result="b"/>
<feColorMatrix in="b" type="matrix" values=".5 0 0 0 0 .5 0 0 0 0 .5 0 0 0 0 0 0 0 0 1" result="bv"/>
<feColorMatrix in="b" type="matrix" values="0 1 0 0 0 0 1 0 0 0 0 1 0 0 0 0 0 0 0 1" result="ba"/>
<feTurbulence type="fractalNoise" baseFrequency="0.6" numOctaves="2" seed="7" result="n"/>
<feColorMatrix in="n" type="matrix" values="1 0 0 0 0 1 0 0 0 0 1 0 0 0 0 0 0 0 0 1" result="ng"/>
<feTurbulence type="fractalNoise" baseFrequency="0.33" numOctaves="2" seed="27" result="n2"/>
<feColorMatrix in="n2" type="matrix" values="7 0 0 0 -4.3 7 0 0 0 -4.3 7 0 0 0 -4.3 0 0 0 0 1" result="d"/>
<feComposite in="ba" in2="ng" operator="arithmetic" k1="0.225" k2="0" k3="0" k4="0" result="t1"/>
<feComposite in="bv" in2="ba" operator="arithmetic" k1="0" k2="1" k3="-0.1125" k4="0.1125" result="t2"/>
<feComposite in="t1" in2="t2" operator="arithmetic" k1="0" k2="1" k3="1" k4="-0.1125" result="t3"/>
<feComposite in="ba" in2="d" operator="arithmetic" k1="0.125" k2="0" k3="0" k4="0" result="t4"/>
<feComposite in="t3" in2="t4" operator="arithmetic" k1="0" k2="1" k3="-1" k4="0" result="v0"/>
<feFlood flood-color="#000" result="blk"/>
<feComposite in="v0" in2="blk" operator="arithmetic" k1="0" k2="1" k3="1" k4="0" result="v"/>
<feComponentTransfer in="v"><feFuncR type="table" tableValues="0.115 0.120 0.125 0.131 0.137 0.144 0.151 0.160 0.160 0.156 0.152 0.149 0.145 0.141 0.137 0.134 0.130 0.126 0.122 0.119 0.115 0.111 0.107 0.127 0.173 0.218 0.263 0.309 0.354 0.399 0.445 0.490 0.535 0.581 0.626 0.672 0.717 0.762 0.808 0.853 0.898 0.944 0.989 1.000 1.000 1.000 1.000 1.000 1.000 1.000 1.000 1.000 1.000 1.000 1.000 1.000 1.000 0.997 0.934 0.870 0.806 0.742 0.678 0.614 0.550 0.550 0.550 0.550 0.550 0.550 0.550 0.550 0.550 0.550 0.550 0.550 0.550 0.550 0.550 0.550 0.550 0.550 0.550 0.550 0.550 0.550 0.550 0.550 0.550 0.550 0.550 0.550 0.550 0.550 0.550 0.550 0.550 0.550 0.550 0.550 0.550 0.550 0.550 0.550 0.550 0.550 0.550 0.550 0.550 0.550 0.550 0.550 0.550 0.550 0.550 0.550 0.550 0.550 0.550 0.550 0.550 0.550 0.550 0.550 0.550 0.550 0.550 0.550 0.550"/><feFuncG type="table" tableValues="0.095 0.094 0.094 0.093 0.092 0.091 0.091 0.090 0.090 0.147 0.204 0.261 0.317 0.374 0.431 0.488 0.545 0.602 0.659 0.716 0.773 0.829 0.886 0.944 1.000 1.000 1.000 1.000 1.000 1.000 1.000 1.000 1.000 1.000 1.000 1.000 1.000 1.000 1.000 1.000 1.000 0.998 0.946 0.894 0.842 0.790 0.738 0.685 0.633 0.581 0.529 0.477 0.425 0.373 0.321 0.269 0.217 0.165 0.113 0.100 0.100 0.100 0.100 0.100 0.100 0.100 0.100 0.100 0.100 0.100 0.100 0.100 0.100 0.100 0.100 0.100 0.100 0.100 0.100 0.100 0.100 0.100 0.100 0.100 0.100 0.100 0.100 0.100 0.100 0.100 0.100 0.100 0.100 0.100 0.100 0.100 0.100 0.100 0.100 0.100 0.100 0.100 0.100 0.100 0.100 0.100 0.100 0.100 0.100 0.100 0.100 0.100 0.100 0.100 0.100 0.100 0.100 0.100 0.100 0.100 0.100 0.100 0.100 0.100 0.100 0.100 0.100 0.100 0.100"/><feFuncB type="table" tableValues="0.525 0.585 0.646 0.706 0.766 0.827 0.887 0.948 0.950 0.953 0.956 0.959 0.963 0.966 0.969 0.972 0.975 0.978 0.981 0.984 0.988 0.991 0.983 0.944 0.898 0.853 0.808 0.762 0.717 0.672 0.626 0.581 0.535 0.490 0.445 0.399 0.354 0.309 0.263 0.218 0.173 0.127 0.100 0.100 0.100 0.100 0.100 0.100 0.100 0.100 0.100 0.100 0.100 0.100 0.100 0.100 0.100 0.100 0.100 0.100 0.100 0.100 0.100 0.100 0.100 0.100 0.100 0.100 0.100 0.100 0.100 0.100 0.100 0.100 0.100 0.100 0.100 0.100 0.100 0.100 0.100 0.100 0.100 0.100 0.100 0.100 0.100 0.100 0.100 0.100 0.100 0.100 0.100 0.100 0.100 0.100 0.100 0.100 0.100 0.100 0.100 0.100 0.100 0.100 0.100 0.100 0.100 0.100 0.100 0.100 0.100 0.100 0.100 0.100 0.100 0.100 0.100 0.100 0.100 0.100 0.100 0.100 0.100 0.100 0.100 0.100 0.100 0.100 0.100"/></feComponentTransfer>
</filter>
<filter id="fs" filterUnits="userSpaceOnUse" x="-126" y="-126" width="252" height="252" color-interpolation-filters="sRGB">
<feGaussianBlur in="SourceAlpha" stdDeviation="1.8" result="reg"/>
<feTurbulence type="fractalNoise" baseFrequency="0.33" numOctaves="3" seed="11" result="n"/>
<feColorMatrix in="n" type="matrix" values="0 0 0 0 0 0 0 0 0 0 0 0 0 0 0 1 0 0 0 0" result="na"/>
<feComposite in="na" in2="reg" operator="arithmetic" k1="0" k2="1" k3="0.7" k4="-0.7" result="m"/>
<feComponentTransfer in="m" result="t"><feFuncA type="linear" slope="30" intercept="-9"/></feComponentTransfer>
<feFlood flood-color="#fff"/><feComposite in2="t" operator="in"/>
</filter>
<g id="speck"><g filter="url(#fs)"><path d="M87.2,84.2 77.9,92.8 64.2,102.8 49.3,110.7 33.4,116.5 16.9,120.0 0.0,121.2 -16.9,120.0 -33.4,116.5 -45.4,112.4 -56.9,107.0 -66.0,101.6 -62.7,96.5 -51.7,97.3 -39.9,98.7 -29.7,103.5 -15.3,109.1 0.0,111.4 15.7,111.5 31.4,109.4 46.3,104.0 61.0,97.6 74.7,89.1 84.5,81.6Z" fill="#fff" opacity="0.957"/><path d="M79.3,85.0 71.6,91.6 61.6,98.6 47.3,106.2 32.1,111.8 16.2,115.1 0.0,116.3 -16.2,115.1 -32.1,111.8 -43.6,107.8 -54.6,102.7 -59.9,99.7 -56.7,94.4 -49.4,92.9 -38.1,94.2 -28.0,97.7 -14.6,104.2 0.0,106.5 15.2,107.9 30.4,105.9 44.8,100.6 58.4,93.4 67.8,86.8 76.8,82.4Z" fill="#fff" opacity="0.679"/><path d="M-17.9,101.3 -28.3,98.8 -38.5,95.3 -35.8,88.5 -25.6,89.4 -16.6,94.0Z" fill="#fff" opacity="0.592"/><path d="M70.8,84.4 63.2,90.2 55.1,95.4 52.0,90.1 56.9,81.2 65.3,77.8Z" fill="#fff" opacity="0.609"/><path d="M55.6,2.1 54.4,-2 51,-5.4 45.9,-7.7 39.8,-8.5 33.5,-7.7 28.2,-5.4 24.6,-2 23.4,2.1 24.6,6.2 28.2,9.7 33.5,12 39.6,12.8 45.8,12 50.9,9.7 54.3,6.2Z" fill="#fff" opacity="0.679"/><path d="M34.8,1.1 34.2,-2.6 32.6,-5.7 30.3,-7.8 27.5,-8.5 24.7,-7.8 22.3,-5.7 20.8,-2.6 20.2,1.1 20.7,4.7 22.3,7.9 24.7,9.9 27.4,10.7 30.2,9.9 32.6,7.9 34.2,4.7Z" fill="#fff" opacity="0.766"/><path d="M64.6,10.7 64.1,6.6 62.2,3.1 59.2,0.8 55.6,0 51.9,0.8 48.7,3.1 46.5,6.6 45.7,10.7 46.3,14.7 48.2,18.2 51.2,20.5 54.7,21.3 58.3,20.5 61.5,18.2 63.7,14.7Z" fill="#fff" opacity="0.574"/><path d="M77.4,-13.9 76.8,-15.9 75.6,-17.6 73.9,-18.7 71.9,-19.1 70,-18.7 68.4,-17.6 67.4,-15.9 67.1,-13.9 67.6,-11.8 68.9,-10.1 70.6,-8.9 72.6,-8.5 74.6,-8.9 76.1,-10.1 77.1,-11.8Z" fill="#fff" opacity="0.679"/><path d="M64.6,-10.7 63.5,-11.9 60.2,-12.9 55.3,-13.6 49.5,-13.9 43.5,-13.6 38.3,-12.9 34.8,-11.9 33.6,-10.7 34.9,-9.4 38.4,-8.4 43.7,-7.7 49.7,-7.5 55.6,-7.7 60.4,-8.4 63.6,-9.4Z" fill="#fff" opacity="0.592"/><path d="M66.7,-2.1 66.2,-5.4 64.9,-8.2 63.1,-10 61,-10.7 58.9,-10 57.1,-8.2 55.9,-5.4 55.6,-2.1 56,1.1 57.2,3.9 59,5.8 61.1,6.4 63.2,5.8 65,3.9 66.3,1.1Z" fill="#fff" opacity="0.626"/><path d="M-21.2,-9.2 -14.5,-9.2 -7.8,-9.2 -1.1,-9.2 5.7,-9.2 12.4,-9.2 19.1,-9.2 19,-15.6 12.3,-15.6 5.6,-15.6 -1.1,-15.6 -7.8,-15.6 -14.4,-15.6 -21.1,-15.6Z" fill="#fff" opacity="0.731"/><path d="M26.4,-9.6 26,-11.6 24.8,-13.4 23.1,-14.5 21.1,-14.9 19.1,-14.5 17.4,-13.4 16.3,-11.6 15.9,-9.6 16.3,-7.6 17.5,-5.8 19.2,-4.7 21.2,-4.3 23.2,-4.7 24.9,-5.8 26,-7.6Z" fill="#fff" opacity="0.783"/><path d="M19,-12.8 18.5,-14.4 17.1,-15.8 15.1,-16.7 12.7,-17 10.3,-16.7 8.2,-15.8 6.8,-14.4 6.4,-12.8 6.9,-11.2 8.3,-9.8 10.3,-8.9 12.8,-8.5 15.2,-8.9 17.2,-9.8 18.6,-11.2Z" fill="#fff" opacity="0.609"/><path d="M-16.9,-16 -17.3,-17.2 -18.7,-18.2 -20.7,-18.9 -23.1,-19.1 -25.4,-18.9 -27.5,-18.2 -28.8,-17.2 -29.4,-16 -28.9,-14.8 -27.6,-13.7 -25.6,-13 -23.2,-12.8 -20.8,-13 -18.8,-13.7 -17.4,-14.8Z" fill="#fff" opacity="0.679"/><path d="M66.4,29.6 66.1,27.2 64.4,25.2 61.7,23.8 58.3,23.4 54.7,23.8 51.5,25.2 49.3,27.2 48.3,29.6 48.8,32 50.6,34 53.4,35.3 56.7,35.8 60.2,35.3 63.2,34 65.4,32Z" fill="#fff" opacity="0.609"/><path d="M40.9,25.4 40.6,22.2 39,19.5 36.5,17.7 33.4,17 30.3,17.7 27.5,19.5 25.7,22.2 24.9,25.4 25.4,28.6 27,31.3 29.4,33.1 32.4,33.7 35.5,33.1 38.2,31.3 40.1,28.6Z" fill="#fff" opacity="0.626"/><path d="M75.6,23.4 75.6,20.1 74.8,17.4 73.3,15.6 71.4,14.9 69.4,15.6 67.5,17.4 66.2,20.1 65.4,23.4 65.5,26.6 66.3,29.3 67.7,31.1 69.5,31.7 71.5,31.1 73.4,29.3 74.8,26.6Z" fill="#fff" opacity="0.626"/><path d="M70,33.7 70.1,31.4 69.5,29.4 68.3,28 66.7,27.5 65,28 63.4,29.4 62.2,31.4 61.5,33.7 61.4,36.1 62,38.1 63.2,39.4 64.7,39.8 66.4,39.4 68,38.1 69.3,36.1Z" fill="#fff" opacity="0.592"/><path d="M52.8,21.3 52.4,19.6 50.8,18.3 48.4,17.4 45.4,17 42.4,17.4 39.7,18.3 37.9,19.6 37.2,21.3 37.8,22.9 39.4,24.2 41.9,25.1 44.8,25.4 47.8,25.1 50.4,24.2 52.1,22.9Z" fill="#fff" opacity="0.574"/><path d="M65.8,19.1 64.7,15.9 61,13.2 55,11.3 47.6,10.7 40,11.3 33.4,13.2 28.9,15.9 27.2,19.1 28.6,22.4 32.9,25.1 39.2,26.9 46.6,27.5 53.9,26.9 60,25.1 64.2,22.4Z" fill="#fff" opacity="0.435"/><path d="M73.7,25.4 73.5,22.2 71.9,19.5 69.3,17.7 66,17 62.5,17.7 59.4,19.5 57.2,22.2 56.2,25.4 56.6,28.6 58.2,31.3 60.8,33.1 64.1,33.7 67.4,33.1 70.4,31.3 72.6,28.6Z" fill="#fff" opacity="0.479"/><path d="M47.4,17 46.8,13.8 44.7,11 41.6,9.2 37.7,8.5 33.8,9.2 30.4,11 28.1,13.8 27.3,17 27.9,20.3 30,23 33.2,24.8 37,25.4 40.8,24.8 44.1,23 46.4,20.3Z" fill="#fff" opacity="0.435"/><path d="M-100.3,0 -101,-6.5 -103.2,-12.1 -106.3,-15.7 -109.9,-17 -113.2,-15.7 -115.9,-12.1 -117.6,-6.5 -118.2,0 -117.6,6.5 -115.9,12.1 -113.2,15.7 -109.9,17 -106.3,15.7 -103.2,12.1 -101,6.5Z" fill="#fff" opacity="0.974"/><path d="M-89.4,6.4 -90.9,-0.9 -94.7,-7.2 -99.9,-11.3 -105.4,-12.8 -110.4,-11.3 -114.2,-7.2 -116.4,-0.9 -116.9,6.4 -115.7,13.7 -112.9,19.9 -108.8,24 -103.7,25.4 -98.3,24 -93.6,19.9 -90.4,13.7Z" fill="#fff" opacity="0.827"/><path d="M-90.8,6.4 -92,0.7 -95,-4.2 -99.1,-7.4 -103.5,-8.5 -107.7,-7.4 -110.9,-4.2 -112.9,0.7 -113.3,6.4 -112.3,12.1 -109.9,16.9 -106.4,20.1 -102.2,21.3 -97.9,20.1 -94.1,16.9 -91.6,12.1Z" fill="#fff" opacity="0.94"/><path d="M-90.9,2.1 -91.6,-1.1 -93.4,-3.9 -96,-5.8 -98.9,-6.4 -101.7,-5.8 -104,-3.9 -105.5,-1.1 -106,2.1 -105.4,5.4 -103.8,8.2 -101.5,10 -98.6,10.7 -95.7,10 -93.2,8.2 -91.5,5.4Z" fill="#fff" opacity="0.87"/><path d="M-84.8,8.5 -85.4,6.1 -86.8,4 -88.7,2.6 -90.9,2.1 -93.1,2.6 -94.8,4 -95.9,6.1 -96.2,8.5 -95.7,11 -94.4,13.1 -92.5,14.4 -90.3,14.9 -88.1,14.4 -86.3,13.1 -85.1,11Z" fill="#fff" opacity="0.739"/><path d="M-84.6,12.8 -85.8,7.9 -88.5,3.8 -92.3,1 -96.5,0 -100.3,1 -103.4,3.8 -105.1,7.9 -105.4,12.8 -104.2,17.7 -101.8,21.8 -98.3,24.5 -94.3,25.4 -90.4,24.5 -87.1,21.8 -85.1,17.7Z" fill="#fff" opacity="0.679"/><path d="M-79.3,19.1 -80.3,15.1 -82.3,11.7 -84.9,9.3 -87.8,8.5 -90.6,9.3 -92.7,11.7 -93.9,15.1 -94,19.1 -92.9,23.2 -90.9,26.6 -88.3,28.8 -85.4,29.6 -82.8,28.8 -80.7,26.6 -79.5,23.2Z" fill="#fff" opacity="0.539"/><path d="M-92.3,21.3 -93.7,17.2 -96.3,13.8 -99.7,11.5 -103.4,10.7 -106.6,11.5 -109,13.8 -110.2,17.2 -110.1,21.3 -108.9,25.3 -106.6,28.6 -103.6,30.9 -100.3,31.7 -96.9,30.9 -94.2,28.6 -92.6,25.3Z" fill="#fff" opacity="0.644"/><path d="M-107.7,-10.7 -107.8,-13.9 -108.8,-16.7 -110.3,-18.5 -112.1,-19.1 -113.9,-18.5 -115.5,-16.7 -116.6,-13.9 -117.2,-10.7 -117.2,-7.4 -116.5,-4.6 -115.2,-2.8 -113.5,-2.1 -111.5,-2.8 -109.7,-4.6 -108.3,-7.4Z" fill="#fff" opacity="0.87"/><path d="M-109.9,4.3 -110.4,-0.6 -111.5,-4.8 -113,-7.6 -114.7,-8.5 -116.4,-7.6 -117.7,-4.8 -118.5,-0.6 -118.7,4.3 -118.2,9.2 -117.1,13.3 -115.6,16.1 -113.9,17 -112.3,16.1 -110.9,13.3 -110.1,9.2Z" fill="#fff" opacity="1"/><path d="M-112.9,12.8 -113.5,7.9 -114.3,3.8 -115.4,1 -116.4,0 -117.4,1 -118.1,3.8 -118.4,7.9 -118.1,12.8 -117.4,17.7 -116.3,21.8 -115,24.5 -113.9,25.4 -113,24.5 -112.6,21.8 -112.5,17.7Z" fill="#fff" opacity="0.748"/><path d="M-92.3,-4.3 -92.7,-6.7 -93.8,-8.8 -95.4,-10.2 -97.4,-10.7 -99.3,-10.2 -101,-8.8 -102.1,-6.7 -102.6,-4.3 -102.3,-1.8 -101.3,0.3 -99.7,1.6 -97.7,2.1 -95.7,1.6 -94,0.3 -92.8,-1.8Z" fill="#fff" opacity="0.713"/><path d="M-116.8,-8.5 -116.6,-12.6 -116.6,-16.1 -116.8,-18.3 -117.3,-19.1 -118,-18.3 -118.7,-16.1 -119.4,-12.6 -119.9,-8.5 -120,-4.5 -119.8,-1 -119.3,1.3 -118.7,2.1 -118.1,1.3 -117.6,-1 -117.1,-4.5Z" fill="#fff" opacity="0.783"/><path d="M-84.2,17 -85.2,13 -87.4,9.5 -90.4,7.2 -93.6,6.4 -96.7,7.2 -99,9.5 -100.4,13 -100.5,17 -99.4,21.1 -97.3,24.5 -94.5,26.7 -91.4,27.5 -88.3,26.7 -85.9,24.5 -84.4,21.1Z" fill="#fff" opacity="0.609"/><path d="M-99.3,25.4 -100.3,22.2 -102.2,19.5 -104.6,17.7 -107,17 -109.1,17.7 -110.6,19.5 -111.2,22.2 -111,25.4 -110,28.6 -108.3,31.3 -106.2,33.1 -103.9,33.7 -101.7,33.1 -100.1,31.3 -99.2,28.6Z" fill="#fff" opacity="0.644"/><path d="M-78.2,27.5 -79.2,24.3 -80.9,21.6 -83.1,19.8 -85.5,19.1 -87.7,19.8 -89.3,21.6 -90.1,24.3 -90,27.5 -89,30.7 -87.3,33.4 -85.1,35.2 -82.8,35.8 -80.7,35.2 -79.1,33.4 -78.2,30.7Z" fill="#fff" opacity="0.557"/><path d="M-93.8,-0.6 -89.4,-0.6 -84.8,-0.6 -79.9,-0.6 -74.8,-0.6 -69.5,-0.6 -64,-0.6 -58.3,-0.6 -52.5,-0.6 -46.5,-0.6 -40.3,-0.6 -34.1,-0.6 -27.7,-0.6 -21.3,-0.6 -21.2,-11.7 -27.6,-11.7 -33.9,-11.7 -40.1,-11.7 -46.2,-11.7 -52.2,-11.7 -58.1,-11.7 -63.7,-11.7 -69.2,-11.7 -74.5,-11.7 -79.6,-11.7 -84.4,-11.7 -89,-11.7 -93.3,-11.7Z" fill="#fff" opacity="0.522"/><path d="M19.1,-5.1 17.7,-7.6 13.5,-9.6 7.3,-11 0,-11.5 -7.3,-11 -13.5,-9.6 -17.7,-7.6 -19.1,-5.1 -17.7,-2.7 -13.6,-0.6 -7.4,0.8 0,1.3 7.4,0.8 13.6,-0.6 17.7,-2.7Z" fill="#fff" opacity="0.827"/><path d="M-70.2,-4.7 -71.2,-7 -74,-8.9 -78.3,-10.2 -83.2,-10.7 -87.8,-10.2 -91.6,-8.9 -94.1,-7 -95.1,-4.7 -94.3,-2.4 -91.9,-0.5 -88.1,0.8 -83.5,1.3 -78.6,0.8 -74.2,-0.5 -71.3,-2.4Z" fill="#fff" opacity="0.557"/><path d="M-41.8,-5.6 -43,-6.9 -46.4,-8 -51.5,-8.7 -57.3,-9 -63,-8.7 -67.7,-8 -70.8,-6.9 -71.9,-5.6 -70.8,-4.2 -67.8,-3.1 -63.1,-2.4 -57.5,-2.1 -51.6,-2.4 -46.5,-3.1 -43.1,-4.2Z" fill="#fff" opacity="0.557"/><path d="M-17,-7.3 -18,-8.6 -20.7,-9.7 -24.7,-10.4 -29.5,-10.7 -34.2,-10.4 -38.2,-9.7 -40.8,-8.6 -41.8,-7.3 -40.9,-6 -38.3,-4.8 -34.3,-4.1 -29.6,-3.8 -24.8,-4.1 -20.7,-4.8 -18,-6Z" fill="#fff" opacity="0.592"/><path d="M-64.7,-8.5 -65.3,-9.8 -67.2,-10.8 -70,-11.5 -73.3,-11.7 -76.5,-11.5 -79.2,-10.8 -81,-9.8 -81.7,-8.5 -81.2,-7.3 -79.4,-6.3 -76.8,-5.6 -73.6,-5.3 -70.3,-5.6 -67.4,-6.3 -65.4,-7.3Z" fill="#fff" opacity="0.487"/><path d="M-35.6,-12.4 -36,-13.3 -37.3,-14.2 -39.3,-14.7 -41.6,-14.9 -43.8,-14.7 -45.8,-14.2 -47.1,-13.3 -47.6,-12.4 -47.2,-11.4 -45.9,-10.6 -44,-10 -41.7,-9.8 -39.4,-10 -37.4,-10.6 -36.1,-11.4Z" fill="#fff" opacity="0.479"/><path d="M-78.6,-5.1 -79.1,-6.1 -80.4,-6.9 -82.5,-7.5 -84.9,-7.7 -87.2,-7.5 -89.1,-6.9 -90.4,-6.1 -90.9,-5.1 -90.5,-4.1 -89.2,-3.3 -87.3,-2.8 -85,-2.6 -82.6,-2.8 -80.5,-3.3 -79.1,-4.1Z" fill="#fff" opacity="0.435"/><path d="M21,17 20.7,10.5 19.4,5 17.3,1.3 14.9,0 12.5,1.3 10.4,5 9,10.5 8.5,17 8.9,23.5 10.1,28.9 12,32.5 14.3,33.7 16.7,32.5 18.9,28.9 20.4,23.5Z" fill="#fff" opacity="0.609"/><path d="M12.4,29.6 11.9,26.4 10.1,23.7 7.4,21.9 4.2,21.3 1,21.9 -1.7,23.7 -3.5,26.4 -4.1,29.6 -3.5,32.8 -1.7,35.4 1,37.2 4.1,37.8 7.2,37.2 9.9,35.4 11.7,32.8Z" fill="#fff" opacity="0.539"/><path d="M3.2,81.9 1.3,78.2 -4.5,74.9 -13.5,72.7 -18.7,72.3 -24,71.9 -29,72.3 -33.9,72.7 -41.4,74.9 -45.3,78.2 -45.5,81.9 -42.2,85.5 -36.2,88.4 -28.4,90.3 -24.1,90.6 -19.8,91 -15.6,90.6 -11.3,90.3 -4,88.4 1.2,85.5Z" fill="#fff" opacity="0.522"/><path d="M-20.6,88 -21.7,86.3 -24,84.8 -27.1,83.8 -30.6,83.5 -33.8,83.8 -36.2,84.8 -37.4,86.3 -37.3,88 -35.9,89.7 -33.5,91.1 -30.6,92.1 -27.5,92.4 -24.5,92.1 -22.2,91.1 -20.8,89.7Z" fill="#fff" opacity="0.609"/><path d="M-6.1,85 -6.7,83.8 -8.1,82.8 -10.2,82.1 -12.7,81.9 -15,82.1 -16.9,82.8 -18.1,83.8 -18.3,85 -17.6,86.2 -16.1,87.2 -14.1,87.8 -11.8,88 -9.6,87.8 -7.7,87.2 -6.5,86.2Z" fill="#fff" opacity="0.652"/><path d="M-40.5,-93.8 -38.5,-97.8 -37.7,-101.1 -38.1,-103.1 -39.9,-103.8 -43,-103.1 -47,-101.1 -51.5,-97.8 -55.6,-93.8 -58.5,-89.4 -59.6,-85.6 -58.7,-82.9 -56,-81.9 -52.1,-82.9 -47.7,-85.6 -43.7,-89.4Z" fill="#fff" opacity="0.696"/><path d="M-39,-97.8 -38,-99.7 -37.6,-101.3 -38,-102.3 -39.2,-102.7 -40.9,-102.3 -43.1,-101.3 -45.4,-99.7 -47.3,-97.8 -48.7,-95.8 -49.2,-94 -48.6,-92.8 -47.2,-92.4 -45.2,-92.8 -42.9,-94 -40.7,-95.8Z" fill="#fff" opacity="0.739"/><path d="M-24,-71.9 -24.2,-72.9 -25.1,-73.8 -26.6,-74.3 -28.4,-74.5 -30.3,-74.3 -32,-73.8 -33.3,-72.9 -33.9,-71.9 -33.7,-70.9 -32.9,-70.1 -31.4,-69.5 -29.5,-69.3 -27.5,-69.5 -25.8,-70.1 -24.5,-70.9Z" fill="#fff" opacity="0.626"/><path d="M-78.2,-78 -77.8,-78.8 -77.7,-79.4 -78,-79.8 -78.6,-80 -79.3,-79.8 -80.2,-79.4 -81,-78.8 -81.7,-78 -82.1,-77.3 -82.2,-76.6 -81.9,-76.2 -81.3,-76 -80.6,-76.2 -79.7,-76.6 -78.8,-77.3Z" fill="#fff" opacity="0.626"/><path d="M-40.2,-106 -39.3,-107 -39.1,-107.8 -39.6,-108.4 -40.7,-108.6 -42.2,-108.4 -44.1,-107.8 -45.9,-107 -47.6,-106 -48.7,-105 -49,-104.1 -48.6,-103.4 -47.3,-103.2 -45.5,-103.4 -43.5,-104.1 -41.6,-105Z" fill="#fff" opacity="0.739"/><path d="M-20.6,-102.7 -20.5,-103.5 -21.1,-104.3 -22.1,-104.7 -23.6,-104.9 -25.3,-104.7 -26.9,-104.3 -28.3,-103.5 -29.2,-102.7 -29.5,-101.8 -29,-101 -27.9,-100.5 -26.3,-100.3 -24.5,-100.5 -22.7,-101 -21.4,-101.8Z" fill="#fff" opacity="0.574"/><path d="M-6.8,-109.1 -7,-109.8 -7.8,-110.4 -9.1,-110.8 -10.8,-110.9 -12.5,-110.8 -14.2,-110.4 -15.5,-109.8 -16.2,-109.1 -16.3,-108.3 -15.6,-107.7 -14.2,-107.2 -12.3,-107.1 -10.3,-107.2 -8.6,-107.7 -7.3,-108.3Z" fill="#fff" opacity="0.609"/><path d="M4.8,-109.1 7.7,-109.1 10.6,-109.1 13.4,-109.1 16.2,-109.1 19,-109.1 21.7,-109.1 24.4,-109.1 26.9,-109.1 29.4,-109.1 31.9,-109.1 34.2,-109.1 36.5,-109.1 38.6,-109.1 40.6,-109.1 42.6,-109.1 44.4,-109.1 46.1,-109.1 47.6,-109.1 49.1,-109.1 50.4,-109.1 51.5,-109.1 52.5,-109.1 53.4,-109.1 54.1,-109.1 54.7,-109.1 49,-111.8 43.2,-114.3 37.2,-116.4 31.2,-118.2 30.9,-118.2 30.5,-118.2 30,-118.2 29.4,-118.2 28.7,-118.2 28,-118.2 27.2,-118.2 26.3,-118.2 25.3,-118.2 24.3,-118.2 23.2,-118.2 22,-118.2 20.8,-118.2 19.5,-118.2 18.2,-118.2 16.8,-118.2 15.4,-118.2 13.9,-118.2 12.4,-118.2 10.8,-118.2 9.3,-118.2 7.7,-118.2 6,-118.2 4.4,-118.2 2.8,-118.2 3.3,-116.4 3.8,-114.3 4.3,-111.8Z" fill="#fff" opacity="0.713"/><path d="M59.1,-106 54.7,-108.4 50.2,-110.2 46.2,-111.4 43.1,-111.8 41.1,-111.4 40.4,-110.2 41,-108.4 43.3,-106 47.2,-103.5 52.3,-101.2 57.8,-99.6 62.3,-99 64.9,-99.6 65,-101.2 62.8,-103.5Z" fill="#fff" opacity="0.626"/><path d="M-61.8,-97.8 -57.7,-101.5 -54.8,-104.5 -53.4,-106.4 -53.8,-107.1 -56.1,-106.4 -60.1,-104.5 -65.1,-101.5 -70.4,-97.8 -75.1,-93.7 -78.3,-90 -79.4,-87.5 -78.4,-86.5 -75.6,-87.5 -71.3,-90 -66.5,-93.7Z" fill="#fff" opacity="0.87"/><path d="M62.7,-82.7 61.9,-83.4 60.5,-84 58.8,-84.4 56.9,-84.6 55.1,-84.4 53.8,-84 53,-83.4 53,-82.7 53.8,-82 55.3,-81.3 57.1,-80.9 59.1,-80.8 60.9,-80.9 62.2,-81.3 62.8,-82Z" fill="#fff" opacity="0.679"/><path d="M16.9,-88.5 16.5,-88.9 15.6,-89.3 14.4,-89.6 13,-89.7 11.7,-89.6 10.5,-89.3 9.8,-88.9 9.6,-88.5 9.9,-88 10.8,-87.7 12,-87.4 13.4,-87.3 14.8,-87.4 16,-87.7 16.7,-88Z" fill="#fff" opacity="0.696"/><path d="M67.7,-76.2 67,-77 65.9,-77.6 64.5,-78 63,-78.2 61.7,-78 60.7,-77.6 60.2,-77 60.3,-76.2 61,-75.4 62.1,-74.8 63.6,-74.3 65.2,-74.2 66.5,-74.3 67.5,-74.8 67.9,-75.4Z" fill="#fff" opacity="0.609"/></g><use href="#nod" fill="#fff"/></g>
</defs>
<rect width="908" height="552" fill="#fff"/>
<g transform="translate(129.5,148.75)">
<g clip-path="url(#cg)">
<g clip-path="url(#cl)"><g filter="url(#fBRDF1)"><rect x="-130" y="-130" width="260" height="260" fill="#163800"/>
<path d="M-20.6,-71.9 -15.4,-71.9 -10.1,-71.9 -4.8,-71.9 0.5,-71.9 5.8,-71.9 11,-71.9 16.3,-71.9 21.5,-71.9 26.6,-71.9 31.7,-71.9 36.7,-71.9 41.5,-71.9 46.3,-71.9 50.9,-71.9 55.4,-71.9 59.7,-71.9 63.8,-71.9 67.8,-71.9 71.6,-71.9 75.1,-71.9 78.5,-71.9 81.6,-71.9 84.5,-71.9 87.1,-71.9 89.5,-71.9 91.6,-71.9 93.5,-71.9 95.1,-71.9 96.5,-71.9 97.5,-71.9 93.7,-77 89.6,-81.9 85.2,-86.5 80.7,-91 75.9,-95.1 70.9,-99 65.7,-102.7 60.3,-106 54.7,-109.1 49,-111.8 43.2,-114.3 37.2,-116.4 31.2,-118.2 30.9,-118.2 30.4,-118.2 29.9,-118.2 29.3,-118.2 28.6,-118.2 27.9,-118.2 27,-118.2 26.1,-118.2 25.1,-118.2 24,-118.2 22.9,-118.2 21.7,-118.2 20.4,-118.2 19.1,-118.2 17.7,-118.2 16.3,-118.2 14.8,-118.2 13.3,-118.2 11.7,-118.2 10.1,-118.2 8.5,-118.2 6.9,-118.2 5.2,-118.2 3.5,-118.2 1.8,-118.2 0.1,-118.2 -1.5,-118.2 -3.2,-118.2 -4.9,-118.2 -6.6,-118.2 -7.9,-116.4 -9.1,-114.3 -10.4,-111.8 -11.6,-109.1 -12.7,-106 -13.9,-102.7 -15,-99 -16,-95.1 -17,-91 -18,-86.5 -18.9,-81.9 -19.8,-77Z" fill="#163800"/>
<path d="M1.6,-78.7 1,-80.8 -0.7,-82.7 -3.2,-83.8 -6.2,-84.3 -9.2,-83.8 -11.8,-82.7 -13.8,-80.8 -14.7,-78.7 -14.3,-76.5 -12.7,-74.6 -10.1,-73.3 -6.9,-72.8 -3.6,-73.3 -0.8,-74.6 1,-76.5Z" fill="#223800"/>
<path d="M62.4,-77 60.8,-78.6 57.9,-79.9 54.1,-80.8 49.9,-81.1 45.9,-80.8 42.6,-79.9 40.6,-78.6 40.2,-77 41.7,-75.4 44.8,-74.1 49,-73.1 53.6,-72.8 57.8,-73.1 60.9,-74.1 62.5,-75.4Z" fill="#2d3800"/>
<path d="M68.4,-77 67.3,-78.3 65.7,-79.4 63.8,-80.1 61.8,-80.3 60.1,-80.1 58.9,-79.4 58.3,-78.3 58.6,-77 59.6,-75.8 61.3,-74.7 63.3,-73.9 65.4,-73.7 67.2,-73.9 68.4,-74.7 68.8,-75.8Z" fill="#323800"/>
<path d="M70.8,-89.5 67.6,-92.3 63.8,-94.5 59.7,-95.9 56,-96.5 53,-95.9 51,-94.5 50.4,-92.3 51.4,-89.5 54.1,-86.7 58.2,-84.2 63,-82.5 67.6,-81.9 71.1,-82.5 72.8,-84.2 72.7,-86.7Z" fill="#2a3800"/>
<path d="M84.6,-85 80.3,-89 75.8,-92.3 71.5,-94.4 68,-95.1 65.6,-94.4 64.6,-92.3 65.2,-89 67.4,-85 71.4,-80.8 76.4,-77.1 81.8,-74.6 86.3,-73.7 89.1,-74.6 89.6,-77.1 87.9,-80.8Z" fill="#393800"/>
<path d="M94.3,-75.4 91.6,-78.5 88.8,-81.2 86.2,-82.9 84.1,-83.5 82.9,-82.9 82.6,-81.2 83.4,-78.5 85.2,-75.4 87.8,-72.1 91,-69.3 94,-67.3 96.5,-66.7 97.8,-67.3 97.8,-69.3 96.5,-72.1Z" fill="#343800"/>
<path d="M-37.4,-19.1 -31.2,-19.1 -24.9,-19.1 -18.6,-19.1 -12.2,-19.1 -5.8,-19.1 0.7,-19.1 7.1,-19.1 13.5,-19.1 19.9,-19.1 26.2,-19.1 32.5,-19.1 38.6,-19.1 44.7,-19.1 50.6,-19.1 56.4,-19.1 62,-19.1 67.4,-19.1 72.7,-19.1 77.7,-19.1 77.4,-22.3 72.3,-22.3 67.1,-22.3 61.7,-22.3 56.1,-22.3 50.4,-22.3 44.5,-22.3 38.4,-22.3 32.3,-22.3 26.1,-22.3 19.8,-22.3 13.5,-22.3 7.1,-22.3 0.7,-22.3 -5.7,-22.3 -12.1,-22.3 -18.5,-22.3 -24.8,-22.3 -31,-22.3 -37.2,-22.3Z" fill="#1f3800"/>
<path d="M-37.2,-22.3 -31,-22.3 -24.8,-22.3 -18.5,-22.3 -12.1,-22.3 -5.7,-22.3 0.7,-22.3 7.1,-22.3 13.5,-22.3 19.8,-22.3 26.1,-22.3 32.3,-22.3 38.4,-22.3 44.5,-22.3 50.4,-22.3 56.1,-22.3 61.7,-22.3 67.1,-22.3 72.3,-22.3 77.4,-22.3 77,-25.4 72,-25.4 66.8,-25.4 61.4,-25.4 55.8,-25.4 50.1,-25.4 44.2,-25.4 38.3,-25.4 32.2,-25.4 26,-25.4 19.7,-25.4 13.4,-25.4 7,-25.4 0.7,-25.4 -5.7,-25.4 -12.1,-25.4 -18.4,-25.4 -24.7,-25.4 -30.9,-25.4 -37,-25.4Z" fill="#303800"/>
<path d="M-37,-25.4 -30.9,-25.4 -24.7,-25.4 -18.4,-25.4 -12.1,-25.4 -5.7,-25.4 0.7,-25.4 7,-25.4 13.4,-25.4 19.7,-25.4 26,-25.4 32.2,-25.4 38.3,-25.4 44.2,-25.4 50.1,-25.4 55.8,-25.4 61.4,-25.4 66.8,-25.4 72,-25.4 77,-25.4 76.5,-28.6 71.5,-28.6 66.4,-28.6 61,-28.6 55.5,-28.6 49.8,-28.6 44,-28.6 38,-28.6 32,-28.6 25.8,-28.6 19.6,-28.6 13.3,-28.6 7,-28.6 0.7,-28.6 -5.7,-28.6 -12,-28.6 -18.3,-28.6 -24.5,-28.6 -30.7,-28.6 -36.8,-28.6Z" fill="#4a3800"/>
<path d="M-36.8,-28.6 -30.8,-28.6 -24.7,-28.6 -18.6,-28.6 -12.4,-28.6 -6.2,-28.6 0,-28.6 6.2,-28.6 12.4,-28.6 18.6,-28.6 24.7,-28.6 30.8,-28.6 36.8,-28.6 42.7,-28.6 48.4,-28.6 54,-28.6 59.5,-28.6 64.8,-28.6 70,-28.6 68.8,-35.8 67.4,-42.9 65.7,-49.8 63.8,-56.5 61.7,-63 57.1,-63 52.5,-63 47.6,-63 42.7,-63 37.6,-63 32.4,-63 27.2,-63 21.8,-63 16.4,-63 11,-63 5.5,-63 0,-63 -5.5,-63 -11,-63 -16.4,-63 -21.8,-63 -27.2,-63 -32.4,-63 -33.6,-56.5 -34.6,-49.8 -35.4,-42.9 -36.2,-35.8Z" fill="#746600"/>
<path d="M-18.2,-63 -12.8,-63 -7.3,-63 -1.8,-63 3.7,-63 9.1,-63 14.6,-63 20,-63 18.8,-72.8 13.7,-72.8 8.6,-72.8 3.4,-72.8 -1.7,-72.8 -6.9,-72.8 -12,-72.8 -17.1,-72.8Z" fill="#303800"/>
<path d="M-3.6,-66.7 -4.1,-68.4 -5.6,-69.8 -7.8,-70.7 -10.4,-71.1 -13.1,-70.7 -15.4,-69.8 -17.1,-68.4 -17.8,-66.7 -17.5,-64.9 -16.1,-63.5 -13.8,-62.5 -11,-62.1 -8.2,-62.5 -5.8,-63.5 -4.2,-64.9Z" fill="#2e3800"/>
<path d="M0,-69.3 -0.4,-70 -1.5,-70.6 -3.2,-70.9 -5.2,-71.1 -7.2,-70.9 -8.9,-70.6 -10.1,-70 -10.5,-69.3 -10.2,-68.7 -9.1,-68.1 -7.4,-67.7 -5.3,-67.6 -3.3,-67.7 -1.6,-68.1 -0.4,-68.7Z" fill="#263800"/>
<path d="M45.8,-63.6 44.8,-64.6 42.5,-65.5 39.1,-66.1 35.2,-66.3 31.3,-66.1 28.1,-65.5 25.9,-64.6 25.3,-63.6 26.3,-62.5 28.7,-61.6 32.3,-61 36.3,-60.8 40.3,-61 43.4,-61.6 45.4,-62.5Z" fill="#5c3800"/>
<path d="M58.3,-59.3 57.2,-61.5 55.3,-63.3 52.9,-64.4 50.3,-64.9 48,-64.4 46.2,-63.3 45.2,-61.5 45.2,-59.3 46.3,-57.2 48.2,-55.3 50.6,-54.1 53.3,-53.7 55.8,-54.1 57.6,-55.3 58.5,-57.2Z" fill="#663800"/>
<path d="M21.3,-66.7 20.9,-68 20,-69.2 18.8,-69.9 17.4,-70.2 16.1,-69.9 15.1,-69.2 14.4,-68 14.3,-66.7 14.7,-65.3 15.6,-64.1 16.8,-63.3 18.2,-63 19.6,-63.3 20.6,-64.1 21.3,-65.3Z" fill="#4c3800"/>
<path d="M-3,-40.9 -4.1,-43.3 -7,-45.4 -11.5,-46.8 -16.7,-47.2 -21.9,-46.8 -26.4,-45.4 -29.6,-43.3 -30.8,-40.9 -30,-38.4 -27.2,-36.3 -22.7,-34.9 -17.4,-34.4 -11.9,-34.9 -7.2,-36.3 -4.1,-38.4Z" fill="#827300"/>
<path d="M-20.6,-46.8 -20.8,-49.5 -21.9,-51.7 -23.6,-53.1 -25.7,-53.7 -27.9,-53.1 -29.9,-51.7 -31.4,-49.5 -32.1,-46.8 -32,-44.2 -31,-41.9 -29.2,-40.4 -27,-39.8 -24.7,-40.4 -22.7,-41.9 -21.2,-44.2Z" fill="#827300"/>
<path d="M3.9,-46.8 3.3,-48.3 1.6,-49.6 -0.9,-50.5 -3.9,-50.8 -6.9,-50.5 -9.4,-49.6 -11.2,-48.3 -11.8,-46.8 -11.3,-45.3 -9.6,-44 -7.1,-43.2 -4,-42.9 -0.9,-43.2 1.7,-44 3.4,-45.3Z" fill="#827300"/>
<path d="M14.6,-63 14.1,-64.3 12.8,-65.4 11,-66.1 9,-66.3 6.9,-66.1 5.2,-65.4 4,-64.3 3.7,-63 4.1,-61.8 5.3,-60.7 7.2,-60 9.3,-59.7 11.4,-60 13.2,-60.7 14.3,-61.8Z" fill="#827300"/>
<path d="M55.2,-52.7 54.1,-55.3 52.1,-57.4 49.6,-58.8 46.9,-59.3 44.5,-58.8 42.5,-57.4 41.5,-55.3 41.4,-52.7 42.4,-50.1 44.3,-47.9 46.9,-46.4 49.7,-45.9 52.4,-46.4 54.3,-47.9 55.3,-50.1Z" fill="#827300"/>
<path d="M62.6,-41.9 62,-43.4 60.6,-44.7 58.8,-45.6 56.7,-45.9 54.8,-45.6 53.3,-44.7 52.4,-43.4 52.2,-41.9 52.9,-40.3 54.2,-39 56.1,-38.1 58.2,-37.8 60.2,-38.1 61.7,-39 62.6,-40.3Z" fill="#827300"/>
<path d="M33.1,-37.8 32.1,-40.1 29.8,-42.1 26.5,-43.4 22.8,-43.9 19.1,-43.4 15.9,-42.1 13.9,-40.1 13.2,-37.8 14,-35.5 16.3,-33.5 19.7,-32.2 23.6,-31.7 27.4,-32.2 30.5,-33.5 32.5,-35.5Z" fill="#8a6600"/>
<path d="M29.1,-37.8 28.7,-39 27.5,-40 25.9,-40.6 24,-40.9 22.1,-40.6 20.6,-40 19.5,-39 19.2,-37.8 19.7,-36.7 20.8,-35.7 22.5,-35 24.4,-34.8 26.3,-35 27.9,-35.7 28.9,-36.7Z" fill="#966600"/>
<path d="M-10.1,-40.9 -10.5,-42 -11.7,-43 -13.6,-43.6 -15.9,-43.9 -18.2,-43.6 -20.1,-43 -21.5,-42 -22,-40.9 -21.6,-39.7 -20.4,-38.7 -18.5,-38.1 -16.2,-37.8 -13.9,-38.1 -11.9,-38.7 -10.6,-39.7Z" fill="#8c6600"/>
<path d="M17.3,-52.7 16.6,-54.3 14.8,-55.7 12.3,-56.6 9.4,-56.9 6.6,-56.6 4.1,-55.7 2.5,-54.3 1.9,-52.7 2.5,-51.1 4.2,-49.7 6.8,-48.7 9.8,-48.4 12.8,-48.7 15.2,-49.7 16.8,-51.1Z" fill="#4c8000"/>
<path d="M36.2,-56.5 35.8,-57.6 34.8,-58.5 33.6,-59.1 32.2,-59.3 30.9,-59.1 29.8,-58.5 29.1,-57.6 29,-56.5 29.4,-55.4 30.4,-54.5 31.6,-53.9 33.1,-53.7 34.4,-53.9 35.5,-54.5 36.2,-55.4Z" fill="#403800"/>
<path d="M36.6,-43.9 36.2,-45 35.2,-46 33.7,-46.6 32.1,-46.8 30.5,-46.6 29.3,-46 28.4,-45 28.2,-43.9 28.7,-42.7 29.7,-41.7 31.1,-41.1 32.8,-40.9 34.4,-41.1 35.7,-41.7 36.5,-42.7Z" fill="#403800"/>
<path d="M54,-28.6 53.4,-30.2 52.1,-31.5 50.2,-32.4 48,-32.7 45.8,-32.4 44.1,-31.5 43,-30.2 42.7,-28.6 43.2,-27 44.6,-25.6 46.6,-24.7 48.8,-24.4 50.9,-24.7 52.7,-25.6 53.8,-27Z" fill="#383800"/>
<path d="M69.2,-33.7 68.2,-35.7 66.1,-37.4 63.1,-38.5 59.8,-38.8 56.5,-38.5 53.8,-37.4 52,-35.7 51.6,-33.7 52.5,-31.8 54.7,-30.1 57.8,-29 61.3,-28.6 64.6,-29 67.3,-30.1 68.8,-31.8Z" fill="#543800"/>
<path d="M9.5,-55.6 9,-56.7 7.8,-57.6 5.9,-58.2 3.8,-58.4 1.6,-58.2 -0.2,-57.6 -1.5,-56.7 -1.9,-55.6 -1.5,-54.5 -0.2,-53.5 1.6,-52.9 3.9,-52.7 6.1,-52.9 7.9,-53.5 9.1,-54.5Z" fill="#543800"/>
<path d="M39.1,-55.6 38,-57.7 35.8,-59.6 32.7,-60.8 29.2,-61.2 25.9,-60.8 23.1,-59.6 21.3,-57.7 20.8,-55.6 21.7,-53.4 24,-51.5 27.2,-50.2 30.8,-49.8 34.3,-50.2 37.1,-51.5 38.8,-53.4Z" fill="#5c3800"/>
<path d="M41,-43.9 40.3,-45.4 38.9,-46.7 37,-47.5 34.8,-47.8 32.7,-47.5 31,-46.7 29.9,-45.4 29.6,-43.9 30.2,-42.3 31.6,-41 33.5,-40.2 35.8,-39.8 37.9,-40.2 39.7,-41 40.7,-42.3Z" fill="#543800"/>
<path d="M70.4,-35.8 69.6,-38.1 68.2,-40.1 66.3,-41.4 64.3,-41.9 62.5,-41.4 61.1,-40.1 60.3,-38.1 60.3,-35.8 61,-33.4 62.5,-31.4 64.4,-30.1 66.4,-29.6 68.3,-30.1 69.7,-31.4 70.5,-33.4Z" fill="#453800"/>
<path d="M69.6,-43.9 68.8,-46.1 67.8,-48.1 66.7,-49.3 65.7,-49.8 64.9,-49.3 64.5,-48.1 64.4,-46.1 64.7,-43.9 65.4,-41.6 66.3,-39.6 67.4,-38.3 68.4,-37.8 69.3,-38.3 69.8,-39.6 69.9,-41.6Z" fill="#4c3800"/>
<path d="M89.3,-49.8 86.3,-55.7 82.3,-60.6 77.7,-63.8 73.4,-64.9 69.8,-63.8 67.4,-60.6 66.5,-55.7 67.3,-49.8 69.8,-43.7 73.7,-38.5 78.4,-35 83.2,-33.7 87.2,-35 89.8,-38.5 90.6,-43.7Z" fill="#696600"/>
<path d="M92.4,-43.9 91.1,-46.5 88.8,-48.8 85.9,-50.2 82.8,-50.8 79.9,-50.2 77.6,-48.8 76.4,-46.5 76.5,-43.9 77.8,-41.2 80.3,-38.9 83.4,-37.3 86.8,-36.8 89.7,-37.3 91.8,-38.9 92.7,-41.2Z" fill="#856600"/>
<path d="M75,-61.2 73.3,-64 70.8,-66.4 68,-67.9 65.2,-68.4 62.8,-67.9 61.1,-66.4 60.4,-64 60.8,-61.2 62.3,-58.3 64.7,-55.9 67.7,-54.2 70.7,-53.7 73.3,-54.2 75,-55.9 75.6,-58.3Z" fill="#613800"/>
<path d="M77.7,-68.4 76.2,-70.5 73.8,-72.2 70.9,-73.3 67.9,-73.7 65.2,-73.3 63.2,-72.2 62.2,-70.5 62.5,-68.4 63.9,-66.4 66.5,-64.6 69.6,-63.5 72.9,-63 75.7,-63.5 77.5,-64.6 78.2,-66.4Z" fill="#403800"/>
<path d="M93.3,-64.9 90.3,-69 86.4,-72.4 82.1,-74.6 78,-75.4 74.5,-74.6 72.1,-72.4 71.2,-69 72.1,-64.9 74.9,-60.7 79.1,-57 84.2,-54.5 89,-53.7 92.8,-54.5 94.8,-57 94.9,-60.7Z" fill="#403800"/>
<path d="M101.8,-59.3 99.5,-62.9 96.8,-65.8 93.9,-67.8 91.2,-68.4 89.1,-67.8 87.8,-65.8 87.7,-62.9 88.8,-59.3 91,-55.7 94.1,-52.6 97.4,-50.5 100.5,-49.8 102.7,-50.5 103.6,-52.6 103.3,-55.7Z" fill="#423800"/>
<path d="M98.1,-44.9 97,-47.5 95.5,-49.7 93.9,-51.2 92.5,-51.7 91.5,-51.2 90.9,-49.7 90.9,-47.5 91.5,-44.9 92.6,-42.2 94.1,-39.9 95.6,-38.4 97.1,-37.8 98.2,-38.4 98.8,-39.9 98.8,-42.2Z" fill="#6b3800"/>
<path d="M85.8,-31.7 85,-34 83.8,-36 82.4,-37.4 80.9,-37.8 79.6,-37.4 78.6,-36 78.2,-34 78.3,-31.7 79,-29.3 80.2,-27.3 81.6,-25.9 83.2,-25.4 84.5,-25.9 85.5,-27.3 85.9,-29.3Z" fill="#453800"/>
<path d="M96.8,-36.8 95.9,-38.5 94.2,-40 92,-40.9 89.6,-41.3 87.2,-40.9 85.2,-40 84.1,-38.5 84,-36.8 84.9,-35.1 86.7,-33.6 89.1,-32.6 91.8,-32.3 94.1,-32.6 95.9,-33.6 96.8,-35.1Z" fill="#6b3800"/>
<path d="M89.7,-35.8 89.1,-37 88,-37.9 86.5,-38.6 84.9,-38.8 83.3,-38.6 82.1,-37.9 81.4,-37 81.3,-35.8 81.9,-34.6 83,-33.6 84.6,-32.9 86.3,-32.7 87.8,-32.9 89,-33.6 89.6,-34.6Z" fill="#613800"/>
<path d="M108.1,-51.7 105.8,-56.1 103.4,-59.8 101.3,-62.2 99.8,-63 99.1,-62.2 99.3,-59.8 100.4,-56.1 102.1,-51.7 104.2,-47.2 106.5,-43.4 108.5,-40.8 110.1,-39.8 110.9,-40.8 110.8,-43.4 109.9,-47.2Z" fill="#383800"/>
<path d="M115.3,-35.8 113.1,-42 110.8,-47.1 108.8,-50.5 107.6,-51.7 107.4,-50.5 108.1,-47.1 109.5,-42 111.3,-35.8 113.2,-29.5 114.9,-24.1 116.3,-20.4 117.3,-19.1 117.8,-20.4 117.7,-24.1 116.9,-29.5Z" fill="#243800"/>
<path d="M94.5,-13.9 93.6,-17.9 91.7,-21.3 89.1,-23.6 86.3,-24.4 83.6,-23.6 81.4,-21.3 80,-17.9 79.8,-13.9 80.7,-9.8 82.5,-6.3 85.1,-4 88,-3.2 90.8,-4 93,-6.3 94.3,-9.8Z" fill="#4f3800"/>
<path d="M95,-21.3 94.4,-22.9 93.2,-24.2 91.6,-25.1 89.7,-25.4 87.8,-25.1 86.3,-24.2 85.4,-22.9 85.2,-21.3 85.8,-19.6 87.1,-18.3 88.8,-17.4 90.8,-17 92.6,-17.4 94,-18.3 94.9,-19.6Z" fill="#663800"/>
<path d="M92.9,-7.5 92.5,-9.9 91.6,-12 90.4,-13.4 88.9,-13.9 87.6,-13.4 86.5,-12 85.8,-9.9 85.6,-7.5 86,-5 86.9,-2.9 88.1,-1.6 89.5,-1.1 90.9,-1.6 92,-2.9 92.7,-5Z" fill="#573800"/>
<path d="M81.7,-19.1 80.8,-22.8 79.2,-25.8 77.2,-27.9 74.9,-28.6 72.8,-27.9 71.2,-25.8 70.3,-22.8 70.2,-19.1 71,-15.5 72.5,-12.4 74.5,-10.3 76.8,-9.6 78.9,-10.3 80.6,-12.4 81.6,-15.5Z" fill="#1f3800"/>
<path d="M82.6,-4.3 82.2,-7.5 81,-10.3 79.3,-12.1 77.4,-12.8 75.6,-12.1 74,-10.3 73.1,-7.5 72.8,-4.3 73.2,-1 74.3,1.8 75.9,3.6 77.8,4.3 79.7,3.6 81.3,1.8 82.3,-1Z" fill="#333800"/>
<path d="M83.2,-25.4 82.6,-27.8 81.6,-29.9 80.4,-31.2 79.1,-31.7 78,-31.2 77.2,-29.9 76.9,-27.8 77,-25.4 77.5,-23 78.5,-21 79.6,-19.6 80.9,-19.1 82,-19.6 82.9,-21 83.3,-23Z" fill="#4c3800"/>
<path d="M74.4,-31.7 73.9,-33.3 73,-34.6 71.7,-35.5 70.4,-35.8 69.2,-35.5 68.3,-34.6 67.8,-33.3 67.8,-31.7 68.3,-30.1 69.2,-28.8 70.5,-27.9 71.8,-27.5 73,-27.9 73.9,-28.8 74.4,-30.1Z" fill="#333800"/>
<path d="M16.8,19.1 23.3,19.1 29.8,19.1 36.1,19.1 42.3,19.1 48.4,19.1 54.4,19.1 60.2,19.1 65.8,19.1 66.3,12.6 66.6,6.1 66.7,-0.5 66.6,-7.1 66.2,-13.7 65.7,-20.2 60.1,-20.2 54.3,-20.2 48.4,-20.2 42.3,-20.2 36.1,-20.2 29.7,-20.2 23.3,-20.2 16.8,-20.2 16.9,-13.7 17,-7.1 17,-0.5 17,6.1 16.9,12.6Z" fill="#0d3800"/>
<path d="M-27.5,-8.5 -20.6,-8.5 -13.7,-8.5 -6.7,-8.5 0.3,-8.5 7.3,-8.5 14.3,-8.5 21.2,-8.5 21,-20.2 14.1,-20.2 7.2,-20.2 0.3,-20.2 -6.6,-20.2 -13.5,-20.2 -20.4,-20.2 -27.2,-20.2Z" fill="#123800"/>
<path d="M76.7,10.7 76.4,5.8 75.1,1.6 72.9,-1.2 70.2,-2.1 67.5,-1.2 65.2,1.6 63.5,5.8 62.8,10.7 63.1,15.5 64.3,19.7 66.4,22.4 68.9,23.4 71.6,22.4 74.1,19.7 75.9,15.5Z" fill="#173800"/>
<path d="M-16.7,-22.3 -17.3,-23.9 -19.1,-25.3 -21.7,-26.2 -24.8,-26.5 -28,-26.2 -30.7,-25.3 -32.5,-23.9 -33.2,-22.3 -32.6,-20.7 -30.9,-19.3 -28.3,-18.4 -25.2,-18.1 -22,-18.4 -19.3,-19.3 -17.4,-20.7Z" fill="#143800"/>
<path d="M70.1,37.8 69.7,31.6 66,26.2 59.4,22.5 50.9,21.3 42,22.5 34,26.2 28.4,31.6 26.2,37.8 27.5,44 31.9,49.1 38.6,52.5 46.5,53.7 54.6,52.5 61.9,49.1 67.3,44Z" fill="#0f3800"/>
<path d="M58.3,59.3 58.4,55.7 56.3,52.6 52.4,50.5 47.3,49.8 41.7,50.5 36.6,52.6 33,55.7 31.3,59.3 31.8,62.9 34.2,65.8 38.1,67.8 42.9,68.4 47.9,67.8 52.6,65.8 56.3,62.9Z" fill="#1c3800"/>
<path d="M44,47.8 44,43.3 42.5,39.4 39.8,36.7 36.2,35.8 32.4,36.7 28.9,39.4 26.5,43.3 25.3,47.8 25.6,52.3 27.2,56 29.8,58.5 33.1,59.3 36.6,58.5 39.9,56 42.6,52.3Z" fill="#333800"/>
<path d="M77.9,17 78,13.8 77.6,11 76.9,9.2 76,8.5 75,9.2 74.1,11 73.4,13.8 72.9,17 72.8,20.3 73.1,23 73.7,24.8 74.5,25.4 75.5,24.8 76.6,23 77.4,20.3Z" fill="#333800"/>
<path d="M75.6,33.7 75.7,31.4 75,29.4 73.6,28 71.8,27.5 69.8,28 67.9,29.4 66.5,31.4 65.8,33.7 65.8,36.1 66.5,38.1 67.9,39.4 69.6,39.8 71.6,39.4 73.4,38.1 74.8,36.1Z" fill="#1a3800"/>
<path d="M48.1,61.2 48,59.1 46.6,57.2 44.1,56 40.9,55.6 37.4,56 34.3,57.2 32,59.1 31,61.2 31.3,63.3 32.8,65.1 35.3,66.3 38.5,66.7 41.7,66.3 44.7,65.1 46.9,63.3Z" fill="#2e3800"/>
<path d="M31.1,43.9 31.4,37.7 31.1,32.4 30.2,28.8 28.9,27.5 27.4,28.8 26,32.4 24.9,37.7 24.1,43.9 23.9,49.9 24.1,54.9 24.8,58.2 25.9,59.3 27.3,58.2 28.8,54.9 30.2,49.9Z" fill="#473800"/>
<path d="M52.8,43.9 52.6,42.3 51.7,41 50,40.2 48,39.8 45.8,40.2 43.9,41 42.5,42.3 41.9,43.9 42.1,45.4 43.1,46.7 44.7,47.5 46.7,47.8 48.8,47.5 50.7,46.7 52.1,45.4Z" fill="#333800"/>
<path d="M83,45.9 83.4,43.6 83.4,41.6 82.8,40.3 81.8,39.8 80.6,40.3 79.4,41.6 78.2,43.6 77.4,45.9 77,48.1 77,50 77.5,51.3 78.4,51.7 79.6,51.3 80.9,50 82.1,48.1Z" fill="#263800"/>
<path d="M58.9,57.5 59.3,54.6 58.9,52.1 57.7,50.4 55.9,49.8 53.8,50.4 51.8,52.1 50.1,54.6 49.1,57.5 48.7,60.3 49.1,62.7 50.3,64.3 51.9,64.9 53.9,64.3 55.9,62.7 57.6,60.3Z" fill="#1c3800"/>
<path d="M-66.4,102.7 -66,102.7 -65.4,102.7 -64.6,102.7 -63.7,102.7 -62.5,102.7 -61.2,102.7 -59.7,102.7 -58.1,102.7 -56.2,102.7 -54.2,102.7 -52.1,102.7 -49.8,102.7 -47.4,102.7 -44.8,102.7 -42.1,102.7 -39.3,102.7 -36.4,102.7 -33.3,102.7 -36,99 -38.6,95 -41.1,90.8 -43.4,86.3 -45.6,81.6 -47.7,76.6 -49.7,71.4 -51.5,66 -53.2,60.5 -54.7,54.7 -56.1,48.8 -57.3,42.8 -58.4,36.7 -59.3,30.4 -60,24.1 -60.6,17.7 -60.9,11.2 -61.2,4.7 -61.2,-1.8 -61.1,-8.3 -60.8,-14.7 -60.3,-21.2 -59.6,-27.5 -65.1,-27.5 -70.3,-27.5 -75.3,-27.5 -80.1,-27.5 -84.7,-27.5 -89.1,-27.5 -93.2,-27.5 -97,-27.5 -100.6,-27.5 -103.9,-27.5 -106.8,-27.5 -109.5,-27.5 -111.9,-27.5 -113.9,-27.5 -115.6,-27.5 -117,-27.5 -118.1,-27.5 -118.8,-27.5 -120.1,-21.2 -121,-14.7 -121.7,-8.3 -121.9,-1.8 -121.8,4.7 -121.4,11.2 -120.7,17.7 -119.6,24.1 -118.1,30.4 -116.3,36.7 -114.2,42.8 -111.8,48.8 -109.1,54.7 -106,60.5 -102.7,66 -99,71.4 -95.1,76.6 -90.9,81.6 -86.5,86.3 -81.8,90.8 -76.9,95 -71.7,99Z" fill="#133800"/>
<path d="M-90.7,8.5 -92.5,1.2 -96.5,-5 -101.9,-9.2 -107.7,-10.7 -112.6,-9.2 -116.2,-5 -118.2,1.2 -118.5,8.5 -117.2,15.9 -114.4,22 -110.4,26.1 -105.3,27.5 -99.9,26.1 -95,22 -91.7,15.9Z" fill="#0f3800"/>
<path d="M-109.3,29.6 -110.8,23.2 -112.2,17.8 -113.4,14.1 -114.4,12.8 -115.1,14.1 -115.3,17.8 -114.8,23.2 -113.6,29.6 -111.8,35.9 -109.7,41.2 -107.9,44.6 -106.6,45.9 -106.3,44.6 -106.8,41.2 -107.9,35.9Z" fill="#0b3800"/>
<path d="M-103.9,45.9 -105.6,41.3 -107.3,37.3 -108.6,34.7 -109.5,33.7 -109.8,34.7 -109.6,37.3 -108.6,41.3 -107.1,45.9 -105.2,50.4 -103.2,54.1 -101.5,56.6 -100.6,57.5 -100.4,56.6 -101,54.1 -102.3,50.4Z" fill="#423800"/>
<path d="M-81.8,81.9 -86.7,75.6 -91.1,70.1 -94.4,66.2 -96.2,64.9 -96.4,66.2 -94.8,70.1 -91.4,75.6 -86.5,81.9 -81,87.8 -75.7,92.5 -71.8,95.4 -69.9,96.5 -70.3,95.4 -72.8,92.5 -76.9,87.8Z" fill="#2b3800"/>
<path d="M-71.2,17 -72.1,13 -73.7,9.5 -76,7.2 -78.6,6.4 -81,7.2 -83,9.5 -84.1,13 -84.2,17 -83.3,21.1 -81.5,24.5 -79.2,26.7 -76.7,27.5 -74.3,26.7 -72.5,24.5 -71.4,21.1Z" fill="#1f3800"/>
<path d="M-115.9,21.3 -116.7,16.4 -117.4,12.3 -118,9.5 -118.5,8.5 -118.8,9.5 -118.9,12.3 -118.6,16.4 -117.9,21.3 -116.9,26.1 -115.8,30.1 -114.8,32.8 -114.2,33.7 -114,32.8 -114.4,30.1 -115,26.1Z" fill="#333800"/>
<path d="M-88.9,66.7 -91.4,62.5 -94,58.9 -96.3,56.4 -98,55.6 -98.9,56.4 -98.6,58.9 -97.4,62.5 -95.2,66.7 -92.4,70.7 -89.6,74.1 -87.1,76.3 -85.5,77 -84.9,76.3 -85.4,74.1 -86.8,70.7Z" fill="#1f3800"/>
<path d="M-110.9,-51.7 -110.8,-51.7 -110.3,-51.7 -109.6,-51.7 -108.5,-51.7 -107.2,-51.7 -105.5,-51.7 -103.6,-51.7 -101.3,-51.7 -98.8,-51.7 -96.1,-51.7 -93.5,-57.7 -90.6,-63.5 -87.5,-69.1 -84.1,-74.5 -80.5,-79.7 -76.6,-84.6 -72.5,-89.3 -68.1,-93.8 -70.1,-93.8 -71.9,-93.8 -73.5,-93.8 -74.8,-93.8 -76,-93.8 -77,-93.8 -77.7,-93.8 -78.2,-93.8 -78.6,-93.8 -78.7,-93.8 -83.7,-89.3 -88.4,-84.6 -92.9,-79.7 -97.1,-74.5 -101,-69.1 -104.6,-63.5 -107.9,-57.7Z" fill="#183800"/>
</g></g>
<use href="#speck"/>
<use href="#land" fill="none" stroke="#000" stroke-width="1.1" stroke-linejoin="round"/>
<use href="#nod" fill="none" stroke="#000" stroke-width="1.3" stroke-linejoin="round"/>
<path d="M-118.8,-27.4A121.9,121.9 0 0 1 -25.3,-119.2 M-19.0,120.0A121.5,121.5 0 0 1 -55.2,108.3" fill="none" stroke="#000" stroke-width="1.5"/>
<use href="#bord" fill="none" stroke="#000" stroke-width="0.8" stroke-linejoin="round"/>
</g>
<circle r="122.4" fill="none" stroke="#222" stroke-width="0.7"/>
</g>
<text transform="translate(129.1,22.5) scale(.968,1.03)" font-size="18.4" text-anchor="middle">BRDF1</text>
<path d="M268.05,37.9 L273.75,27.0 L279.45,37.9 L279.45,261.1 L273.75,272.0 L268.05,261.1Z" fill="url(#jet0)" stroke="#222" stroke-width="0.7" stroke-linejoin="miter"/>
<path d="M279.45,261.10h3.6" stroke="#222" stroke-width="0.8"/>
<text transform="translate(285.1,264.05) scale(.94,1)" font-size="8.3">0.0</text>
<path d="M279.45,238.78h3.6" stroke="#222" stroke-width="0.8"/>
<text transform="translate(285.1,241.73) scale(.94,1)" font-size="8.3">0.1</text>
<path d="M279.45,216.46h3.6" stroke="#222" stroke-width="0.8"/>
<text transform="translate(285.1,219.41) scale(.94,1)" font-size="8.3">0.2</text>
<path d="M279.45,194.14h3.6" stroke="#222" stroke-width="0.8"/>
<text transform="translate(285.1,197.09) scale(.94,1)" font-size="8.3">0.3</text>
<path d="M279.45,171.82h3.6" stroke="#222" stroke-width="0.8"/>
<text transform="translate(285.1,174.77) scale(.94,1)" font-size="8.3">0.4</text>
<path d="M279.45,149.50h3.6" stroke="#222" stroke-width="0.8"/>
<text transform="translate(285.1,152.45) scale(.94,1)" font-size="8.3">0.5</text>
<path d="M279.45,127.18h3.6" stroke="#222" stroke-width="0.8"/>
<text transform="translate(285.1,130.13) scale(.94,1)" font-size="8.3">0.6</text>
<path d="M279.45,104.86h3.6" stroke="#222" stroke-width="0.8"/>
<text transform="translate(285.1,107.81) scale(.94,1)" font-size="8.3">0.7</text>
<path d="M279.45,82.54h3.6" stroke="#222" stroke-width="0.8"/>
<text transform="translate(285.1,85.49) scale(.94,1)" font-size="8.3">0.8</text>
<path d="M279.45,60.22h3.6" stroke="#222" stroke-width="0.8"/>
<text transform="translate(285.1,63.17) scale(.94,1)" font-size="8.3">0.9</text>
<path d="M279.45,37.90h3.6" stroke="#222" stroke-width="0.8"/>
<text transform="translate(285.1,40.85) scale(.94,1)" font-size="8.3">1.0</text>
<g transform="translate(429.0,148.75)">
<g clip-path="url(#cg)">
<g clip-path="url(#cl)"><g filter="url(#fBRDF2)"><rect x="-130" y="-130" width="260" height="260" fill="#294c00"/>
<path d="M-20.6,-71.9 -15.4,-71.9 -10.1,-71.9 -4.8,-71.9 0.5,-71.9 5.8,-71.9 11,-71.9 16.3,-71.9 21.5,-71.9 26.6,-71.9 31.7,-71.9 36.7,-71.9 41.5,-71.9 46.3,-71.9 50.9,-71.9 55.4,-71.9 59.7,-71.9 63.8,-71.9 67.8,-71.9 71.6,-71.9 75.1,-71.9 78.5,-71.9 81.6,-71.9 84.5,-71.9 87.1,-71.9 89.5,-71.9 91.6,-71.9 93.5,-71.9 95.1,-71.9 96.5,-71.9 97.5,-71.9 93.7,-77 89.6,-81.9 85.2,-86.5 80.7,-91 75.9,-95.1 70.9,-99 65.7,-102.7 60.3,-106 54.7,-109.1 49,-111.8 43.2,-114.3 37.2,-116.4 31.2,-118.2 30.9,-118.2 30.4,-118.2 29.9,-118.2 29.3,-118.2 28.6,-118.2 27.9,-118.2 27,-118.2 26.1,-118.2 25.1,-118.2 24,-118.2 22.9,-118.2 21.7,-118.2 20.4,-118.2 19.1,-118.2 17.7,-118.2 16.3,-118.2 14.8,-118.2 13.3,-118.2 11.7,-118.2 10.1,-118.2 8.5,-118.2 6.9,-118.2 5.2,-118.2 3.5,-118.2 1.8,-118.2 0.1,-118.2 -1.5,-118.2 -3.2,-118.2 -4.9,-118.2 -6.6,-118.2 -7.9,-116.4 -9.1,-114.3 -10.4,-111.8 -11.6,-109.1 -12.7,-106 -13.9,-102.7 -15,-99 -16,-95.1 -17,-91 -18,-86.5 -18.9,-81.9 -19.8,-77Z" fill="#308000"/>
<path d="M67.6,-99 60.5,-103.6 56.6,-105.4 52.6,-107.1 48.8,-108.2 44.9,-109.3 42.7,-109.5 40.4,-109.8 37.9,-110 36.1,-109.8 34.1,-109.5 32,-109.3 29.8,-108.2 27.2,-107.1 25.9,-105.4 24.3,-103.6 24.6,-99 29.2,-94 33.7,-91.7 38.4,-89.4 44.4,-87.8 50.4,-86.2 54.5,-85.8 58.4,-85.4 62.3,-85 65.3,-85.4 68.2,-85.8 70.8,-86.2 72.8,-87.8 74.3,-89.4 73.7,-91.7 72.7,-94Z" fill="#42b200"/>
<path d="M3.3,-78.7 2.6,-80.5 0.8,-82.1 -1.7,-83.1 -4.7,-83.5 -7.7,-83.1 -10.3,-82.1 -12.2,-80.5 -13,-78.7 -12.6,-76.8 -11,-75.2 -8.3,-74.1 -5.1,-73.7 -1.8,-74.1 0.9,-75.2 2.7,-76.8Z" fill="#2b6600"/>
<path d="M62.4,-77 60.6,-78.9 57.6,-80.5 53.7,-81.5 49.5,-81.9 45.6,-81.5 42.4,-80.5 40.4,-78.9 40.2,-77 41.8,-75.1 45,-73.5 49.3,-72.3 53.9,-71.9 58.1,-72.3 61.2,-73.5 62.6,-75.1Z" fill="#306600"/>
<path d="M21.5,-108.1 19.1,-110.3 15.6,-112 11.8,-113.1 8,-113.5 4.4,-113.1 1.3,-112 -1,-110.3 -2,-108.1 -1.2,-105.7 1.7,-103.5 6.4,-102 11.9,-101.5 17,-102 20.7,-103.5 22.2,-105.7Z" fill="#40b200"/>
<path d="M-36.9,-27.5 -30.8,-27.5 -24.6,-27.5 -18.3,-27.5 -12,-27.5 -5.7,-27.5 0.7,-27.5 7,-27.5 13.3,-27.5 19.6,-27.5 25.9,-27.5 32,-27.5 38.1,-27.5 44.1,-27.5 49.9,-27.5 55.6,-27.5 61.1,-27.5 66.5,-27.5 71.7,-27.5 76.7,-27.5 75.5,-34.4 74.1,-41.2 72.4,-47.8 70.5,-54.3 68.4,-60.6 66,-66.7 61.7,-66.7 57.2,-66.7 52.6,-66.7 47.9,-66.7 43,-66.7 37.9,-66.7 32.8,-66.7 27.6,-66.7 22.3,-66.7 16.9,-66.7 11.5,-66.7 6,-66.7 0.6,-66.7 -4.9,-66.7 -10.4,-66.7 -15.8,-66.7 -21.2,-66.7 -26.5,-66.7 -31.7,-66.7 -32.9,-60.6 -33.9,-54.3 -34.8,-47.8 -35.6,-41.2 -36.3,-34.4Z" fill="#261a00"/>
<path d="M47.8,-55.6 45.9,-59.2 42.3,-62.2 37.5,-64.2 32.1,-64.9 26.9,-64.2 22.5,-62.2 19.7,-59.2 18.9,-55.6 20.4,-51.9 24,-48.7 29.2,-46.6 35.1,-45.9 40.7,-46.6 45.1,-48.7 47.5,-51.9Z" fill="#211400"/>
<path d="M90,-47.8 87.1,-53.8 83.1,-58.7 78.5,-61.9 74.2,-63 70.6,-61.9 68.1,-58.7 67.1,-53.8 67.8,-47.8 70.2,-41.7 74.1,-36.5 78.8,-32.9 83.6,-31.7 87.7,-32.9 90.4,-36.5 91.2,-41.7Z" fill="#263300"/>
<path d="M94.1,-64.9 91.1,-69 87.2,-72.4 83,-74.6 79,-75.4 75.6,-74.6 73.3,-72.4 72.4,-69 73.4,-64.9 76.2,-60.7 80.4,-57 85.4,-54.5 90.1,-53.7 93.8,-54.5 95.7,-57 95.7,-60.7Z" fill="#306600"/>
<path d="M108.5,-51.7 105.4,-57.6 102,-62.4 98.9,-65.6 96.5,-66.7 95.1,-65.6 94.9,-62.4 95.9,-57.6 97.9,-51.7 100.8,-45.7 104.1,-40.5 107.3,-37 110,-35.8 111.6,-37 111.9,-40.5 110.8,-45.7Z" fill="#338000"/>
<path d="M-29.5,-8.5 -22.8,-8.5 -15.9,-8.5 -9,-8.5 -2.1,-8.5 4.8,-8.5 11.7,-8.5 18.6,-8.5 25.4,-8.5 25.3,-14.9 25.1,-21.3 18.3,-21.3 11.6,-21.3 4.7,-21.3 -2.1,-21.3 -8.9,-21.3 -15.7,-21.3 -22.5,-21.3 -29.2,-21.3 -29.4,-14.9Z" fill="#33cc00"/>
<path d="M16.7,25.4 23.3,25.4 29.8,25.4 36.2,25.4 42.5,25.4 48.7,25.4 54.7,25.4 60.6,25.4 66.3,25.4 71.7,25.4 77,25.4 77.7,19.1 78.2,12.8 78.6,6.4 78.7,0 78.6,-6.4 78.2,-12.8 77.7,-19.1 72.4,-19.1 66.9,-19.1 61.2,-19.1 55.3,-19.1 49.2,-19.1 42.9,-19.1 36.6,-19.1 30.1,-19.1 23.5,-19.1 16.8,-19.1 16.9,-12.8 17,-6.4 17,0 17,6.4 16.9,12.8 16.8,19.1Z" fill="#42ff00"/>
<path d="M64.8,6.4 63.8,0.7 60.5,-4.2 55.6,-7.4 49.7,-8.5 43.7,-7.4 38.5,-4.2 35,0.7 33.7,6.4 34.8,12.1 38.1,16.9 43.1,20.1 49,21.3 54.9,20.1 60,16.9 63.4,12.1Z" fill="#54ff00"/>
<path d="M79.5,17 79.4,9.7 77.9,3.5 75.2,-0.7 71.9,-2.1 68.6,-0.7 65.7,3.5 63.5,9.7 62.4,17 62.5,24.3 63.6,30.4 65.8,34.4 68.8,35.8 72.2,34.4 75.5,30.4 78.1,24.3Z" fill="#4cff00"/>
<path d="M42.9,25.4 42.6,21.4 41.1,18 38.6,15.7 35.5,14.9 32.4,15.7 29.6,18 27.7,21.4 26.9,25.4 27.3,29.4 28.9,32.8 31.3,35 34.2,35.8 37.3,35 40,32.8 42,29.4Z" fill="#529900"/>
<path d="M70.1,27.5 69.7,24.3 67.8,21.6 64.5,19.8 60.4,19.1 56.2,19.8 52.4,21.6 49.7,24.3 48.5,27.5 49.1,30.7 51.2,33.4 54.5,35.2 58.5,35.8 62.6,35.2 66.3,33.4 68.9,30.7Z" fill="#54ff00"/>
<path d="M93.3,-12.8 92.4,-16.9 90.5,-20.3 87.9,-22.6 85,-23.4 82.2,-22.6 79.9,-20.3 78.5,-16.9 78.2,-12.8 79.1,-8.7 81,-5.3 83.6,-2.9 86.5,-2.1 89.4,-2.9 91.6,-5.3 93,-8.7Z" fill="#214000"/>
<path d="M80.9,-19.1 80.2,-22.4 78.8,-25.1 77,-26.9 75.1,-27.5 73.3,-26.9 71.9,-25.1 71.1,-22.4 71.1,-19.1 71.7,-15.9 73,-13.2 74.8,-11.3 76.7,-10.7 78.6,-11.3 80,-13.2 80.8,-15.9Z" fill="#339900"/>
<path d="M51.5,45.9 51.5,43.2 50.3,40.9 48.1,39.4 45.4,38.8 42.4,39.4 39.8,40.9 37.9,43.2 36.9,45.9 37.2,48.5 38.4,50.7 40.5,52.2 43.2,52.7 46,52.2 48.5,50.7 50.5,48.5Z" fill="#0f1400"/>
<path d="M39.5,47.8 39.5,44 38.5,40.8 36.5,38.6 34,37.8 31.4,38.6 28.9,40.8 27.2,44 26.3,47.8 26.4,51.6 27.5,54.7 29.3,56.7 31.6,57.5 34.1,56.7 36.5,54.7 38.4,51.6Z" fill="#1f2600"/>
<path d="M56.7,59.3 56.9,56.5 55.8,54 53.5,52.3 50.4,51.7 46.9,52.3 43.7,54 41.4,56.5 40.1,59.3 40.1,62.2 41.4,64.6 43.7,66.1 46.6,66.7 49.8,66.1 52.8,64.6 55.3,62.2Z" fill="#2b6600"/>
<path d="M87.3,39.8 88.3,35.2 88.5,31.2 88.1,28.5 87.2,27.5 86,28.5 84.5,31.2 83.1,35.2 81.8,39.8 80.9,44.5 80.3,48.3 80.4,50.8 81.1,51.7 82.4,50.8 84.1,48.3 85.9,44.5Z" fill="#456600"/>
<path d="M65.1,45.9 65.4,42.8 64.9,40.2 63.5,38.4 61.7,37.8 59.6,38.4 57.6,40.2 56,42.8 55,45.9 54.8,48.9 55.3,51.4 56.6,53.1 58.3,53.7 60.3,53.1 62.3,51.4 64,48.9Z" fill="#338000"/>
<path d="M-66.4,102.7 -66,102.7 -65.4,102.7 -64.6,102.7 -63.7,102.7 -62.5,102.7 -61.2,102.7 -59.7,102.7 -58.1,102.7 -56.2,102.7 -54.2,102.7 -52.1,102.7 -49.8,102.7 -47.4,102.7 -44.8,102.7 -42.1,102.7 -39.3,102.7 -36.4,102.7 -33.3,102.7 -36,99 -38.6,95 -41.1,90.8 -43.4,86.3 -45.6,81.6 -47.7,76.6 -49.7,71.4 -51.5,66 -53.2,60.5 -54.7,54.7 -56.1,48.8 -57.3,42.8 -58.4,36.7 -59.3,30.4 -60,24.1 -60.6,17.7 -60.9,11.2 -61.2,4.7 -61.2,-1.8 -61.1,-8.3 -60.8,-14.7 -60.3,-21.2 -59.6,-27.5 -65.1,-27.5 -70.3,-27.5 -75.3,-27.5 -80.1,-27.5 -84.7,-27.5 -89.1,-27.5 -93.2,-27.5 -97,-27.5 -100.6,-27.5 -103.9,-27.5 -106.8,-27.5 -109.5,-27.5 -111.9,-27.5 -113.9,-27.5 -115.6,-27.5 -117,-27.5 -118.1,-27.5 -118.8,-27.5 -120.1,-21.2 -121,-14.7 -121.7,-8.3 -121.9,-1.8 -121.8,4.7 -121.4,11.2 -120.7,17.7 -119.6,24.1 -118.1,30.4 -116.3,36.7 -114.2,42.8 -111.8,48.8 -109.1,54.7 -106,60.5 -102.7,66 -99,71.4 -95.1,76.6 -90.9,81.6 -86.5,86.3 -81.8,90.8 -76.9,95 -71.7,99Z" fill="#389900"/>
<path d="M-77.9,17 -79.5,10.5 -80.9,4 -84,-1.5 -86.8,-7.1 -90.9,-10.8 -94.6,-14.5 -98.9,-15.7 -102.8,-17 -106.6,-15.7 -110.1,-14.5 -112.9,-10.8 -115.3,-7.1 -116.8,-1.5 -118,4 -118,10.5 -117.6,17 -116.2,23.5 -114.5,29.9 -111.9,35.2 -109,40.5 -105.8,44 -102.2,47.4 -98.7,48.6 -94.8,49.8 -91.5,48.6 -87.8,47.4 -85.1,44 -82.1,40.5 -80.4,35.2 -78.5,29.9 -78.3,23.5Z" fill="#52ff00"/>
<path d="M-92.7,33.7 -94.8,27.4 -97.8,22 -101.4,18.3 -105,17 -107.9,18.3 -109.7,22 -110.1,27.4 -109.1,33.7 -106.8,40 -103.6,45.2 -100.2,48.6 -96.8,49.8 -94.2,48.6 -92.4,45.2 -91.9,40Z" fill="#5cff00"/>
<path d="M-83.5,75.4 -89.7,66 -95.1,57.7 -99.4,51.9 -102.2,49.8 -103,51.9 -101.6,57.7 -97.8,66 -91.7,75.4 -84.4,84 -77.2,90.8 -71.7,95 -68.8,96.5 -69.2,95 -72.3,90.8 -77.4,84Z" fill="#388000"/>
<path d="M-74.4,19.1 -75.3,14.3 -77,10.2 -79.3,7.4 -81.8,6.4 -84.1,7.4 -86,10.2 -87,14.3 -87,19.1 -85.9,24 -84,28 -81.6,30.7 -79.1,31.7 -76.9,30.7 -75.3,28 -74.4,24Z" fill="#389900"/>
<path d="M-78.4,51.7 -80.4,47.2 -83,43.4 -85.9,40.8 -88.7,39.8 -90.8,40.8 -92,43.4 -92.1,47.2 -90.9,51.7 -88.7,56.1 -85.9,59.8 -83,62.2 -80.4,63 -78.4,62.2 -77.4,59.8 -77.4,56.1Z" fill="#4ccc00"/>
<path d="M-110.9,-51.7 -110.8,-51.7 -110.3,-51.7 -109.6,-51.7 -108.5,-51.7 -107.2,-51.7 -105.5,-51.7 -103.6,-51.7 -101.3,-51.7 -98.8,-51.7 -96.1,-51.7 -93.5,-57.7 -90.6,-63.5 -87.5,-69.1 -84.1,-74.5 -80.5,-79.7 -76.6,-84.6 -72.5,-89.3 -68.1,-93.8 -70.1,-93.8 -71.9,-93.8 -73.5,-93.8 -74.8,-93.8 -76,-93.8 -77,-93.8 -77.7,-93.8 -78.2,-93.8 -78.6,-93.8 -78.7,-93.8 -83.7,-89.3 -88.4,-84.6 -92.9,-79.7 -97.1,-74.5 -101,-69.1 -104.6,-63.5 -107.9,-57.7Z" fill="#338000"/>
</g></g>
<use href="#speck"/>
<use href="#land" fill="none" stroke="#000" stroke-width="1.1" stroke-linejoin="round"/>
<use href="#nod" fill="none" stroke="#000" stroke-width="1.3" stroke-linejoin="round"/>
<path d="M-118.8,-27.4A121.9,121.9 0 0 1 -25.3,-119.2 M-19.0,120.0A121.5,121.5 0 0 1 -55.2,108.3" fill="none" stroke="#000" stroke-width="1.5"/>
<use href="#bord" fill="none" stroke="#000" stroke-width="0.8" stroke-linejoin="round"/>
</g>
<circle r="122.4" fill="none" stroke="#222" stroke-width="0.7"/>
</g>
<text transform="translate(429.6,22.5) scale(.968,1.03)" font-size="18.4" text-anchor="middle">BRDF2</text>
<path d="M568.1,37.9 L573.8000000000001,27.0 L579.5,37.9 L579.5,261.1 L573.8000000000001,272.0 L568.1,261.1Z" fill="url(#jet0)" stroke="#222" stroke-width="0.7" stroke-linejoin="miter"/>
<path d="M579.5,261.10h3.6" stroke="#222" stroke-width="0.8"/>
<text transform="translate(585.2,264.05) scale(.94,1)" font-size="8.3">0.0</text>
<path d="M579.5,238.78h3.6" stroke="#222" stroke-width="0.8"/>
<text transform="translate(585.2,241.73) scale(.94,1)" font-size="8.3">0.2</text>
<path d="M579.5,216.46h3.6" stroke="#222" stroke-width="0.8"/>
<text transform="translate(585.2,219.41) scale(.94,1)" font-size="8.3">0.4</text>
<path d="M579.5,194.14h3.6" stroke="#222" stroke-width="0.8"/>
<text transform="translate(585.2,197.09) scale(.94,1)" font-size="8.3">0.6</text>
<path d="M579.5,171.82h3.6" stroke="#222" stroke-width="0.8"/>
<text transform="translate(585.2,174.77) scale(.94,1)" font-size="8.3">0.8</text>
<path d="M579.5,149.50h3.6" stroke="#222" stroke-width="0.8"/>
<text transform="translate(585.2,152.45) scale(.94,1)" font-size="8.3">1.0</text>
<path d="M579.5,127.18h3.6" stroke="#222" stroke-width="0.8"/>
<text transform="translate(585.2,130.13) scale(.94,1)" font-size="8.3">1.2</text>
<path d="M579.5,104.86h3.6" stroke="#222" stroke-width="0.8"/>
<text transform="translate(585.2,107.81) scale(.94,1)" font-size="8.3">1.4</text>
<path d="M579.5,82.54h3.6" stroke="#222" stroke-width="0.8"/>
<text transform="translate(585.2,85.49) scale(.94,1)" font-size="8.3">1.6</text>
<path d="M579.5,60.22h3.6" stroke="#222" stroke-width="0.8"/>
<text transform="translate(585.2,63.17) scale(.94,1)" font-size="8.3">1.8</text>
<path d="M579.5,37.90h3.6" stroke="#222" stroke-width="0.8"/>
<text transform="translate(585.2,40.85) scale(.94,1)" font-size="8.3">2.0</text>
<g transform="translate(729.85,148.75)">
<g clip-path="url(#cg)">
<g clip-path="url(#cl)"><g filter="url(#fBRDF3)"><rect x="-130" y="-130" width="260" height="260" fill="#216600"/>
<path d="M-20.6,-71.9 -15.4,-71.9 -10.1,-71.9 -4.8,-71.9 0.5,-71.9 5.8,-71.9 11,-71.9 16.3,-71.9 21.5,-71.9 26.6,-71.9 31.7,-71.9 36.7,-71.9 41.5,-71.9 46.3,-71.9 50.9,-71.9 55.4,-71.9 59.7,-71.9 63.8,-71.9 67.8,-71.9 71.6,-71.9 75.1,-71.9 78.5,-71.9 81.6,-71.9 84.5,-71.9 87.1,-71.9 89.5,-71.9 91.6,-71.9 93.5,-71.9 95.1,-71.9 96.5,-71.9 97.5,-71.9 93.7,-77 89.6,-81.9 85.2,-86.5 80.7,-91 75.9,-95.1 70.9,-99 65.7,-102.7 60.3,-106 54.7,-109.1 49,-111.8 43.2,-114.3 37.2,-116.4 31.2,-118.2 30.9,-118.2 30.4,-118.2 29.9,-118.2 29.3,-118.2 28.6,-118.2 27.9,-118.2 27,-118.2 26.1,-118.2 25.1,-118.2 24,-118.2 22.9,-118.2 21.7,-118.2 20.4,-118.2 19.1,-118.2 17.7,-118.2 16.3,-118.2 14.8,-118.2 13.3,-118.2 11.7,-118.2 10.1,-118.2 8.5,-118.2 6.9,-118.2 5.2,-118.2 3.5,-118.2 1.8,-118.2 0.1,-118.2 -1.5,-118.2 -3.2,-118.2 -4.9,-118.2 -6.6,-118.2 -7.9,-116.4 -9.1,-114.3 -10.4,-111.8 -11.6,-109.1 -12.7,-106 -13.9,-102.7 -15,-99 -16,-95.1 -17,-91 -18,-86.5 -18.9,-81.9 -19.8,-77Z" fill="#206600"/>
<path d="M68.1,-93.8 61.6,-98.8 53.9,-102.7 50.1,-104 46.3,-105.2 42.9,-105.6 39.3,-106 36.5,-105.6 33.5,-105.2 31.4,-104 29,-102.7 26.5,-98.8 26.9,-93.8 31.1,-88.3 39.1,-83.4 44.3,-81.7 49.6,-79.9 55,-79.3 60.3,-78.7 64.6,-79.3 68.5,-79.9 70.8,-81.7 72.6,-83.4 72.3,-88.3Z" fill="#228c00"/>
<path d="M80.9,-75.4 78.3,-77.9 74.4,-80 69.6,-81.4 64.3,-81.9 59.2,-81.4 55.1,-80 52.7,-77.9 52.5,-75.4 54.9,-72.8 59.5,-70.5 65.5,-69 71.8,-68.4 77,-69 80.4,-70.5 81.7,-72.8Z" fill="#268000"/>
<path d="M18.8,-89.5 17.3,-92.3 14.4,-94.5 10.7,-95.9 6.6,-96.5 2.6,-95.9 -0.9,-94.5 -3.4,-92.3 -4.4,-89.5 -3.6,-86.7 -1,-84.2 3.1,-82.5 7.9,-81.9 12.7,-82.5 16.4,-84.2 18.5,-86.7Z" fill="#1d4c00"/>
<path d="M-18.2,-63 -12.8,-63 -7.3,-63 -1.8,-63 3.7,-63 9.1,-63 14.6,-63 20,-63 19.4,-68.4 18.7,-73.7 13.6,-73.7 8.5,-73.7 3.4,-73.7 -1.7,-73.7 -6.8,-73.7 -11.9,-73.7 -17,-73.7 -17.6,-68.4Z" fill="#246600"/>
<path d="M-36.4,-32.7 -30.4,-32.7 -24.3,-32.7 -18.1,-32.7 -11.9,-32.7 -5.6,-32.7 0.7,-32.7 6.9,-32.7 13.2,-32.7 19.4,-32.7 25.6,-32.7 31.7,-32.7 37.7,-32.7 43.6,-32.7 49.4,-32.7 55,-32.7 60.5,-32.7 65.8,-32.7 70.9,-32.7 75.8,-32.7 74.5,-39.2 73,-45.7 71.2,-51.9 69.3,-58 67.1,-64 62.7,-64 58.2,-64 53.5,-64 48.7,-64 43.7,-64 38.6,-64 33.3,-64 28,-64 22.6,-64 17.2,-64 11.7,-64 6.1,-64 0.6,-64 -5,-64 -10.5,-64 -16,-64 -21.5,-64 -26.9,-64 -32.2,-64 -33.3,-58 -34.3,-51.9 -35.1,-45.7 -35.8,-39.2Z" fill="#094000"/>
<path d="M-36.8,-28.6 -30.7,-28.6 -24.5,-28.6 -18.3,-28.6 -12,-28.6 -5.7,-28.6 0.7,-28.6 7,-28.6 13.3,-28.6 19.6,-28.6 25.8,-28.6 32,-28.6 38,-28.6 44,-28.6 49.8,-28.6 55.5,-28.6 61,-28.6 66.4,-28.6 71.5,-28.6 76.5,-28.6 75.8,-32.7 70.9,-32.7 65.8,-32.7 60.5,-32.7 55,-32.7 49.4,-32.7 43.6,-32.7 37.7,-32.7 31.7,-32.7 25.6,-32.7 19.4,-32.7 13.2,-32.7 6.9,-32.7 0.7,-32.7 -5.6,-32.7 -11.9,-32.7 -18.1,-32.7 -24.3,-32.7 -30.4,-32.7 -36.4,-32.7Z" fill="#166600"/>
<path d="M-11.9,-43.9 -12.6,-46.9 -14.5,-49.4 -17.6,-51.1 -21.2,-51.7 -24.9,-51.1 -28.1,-49.4 -30.4,-46.9 -31.5,-43.9 -31.1,-40.8 -29.2,-38.2 -26.1,-36.4 -22.3,-35.8 -18.5,-36.4 -15.1,-38.2 -12.8,-40.8Z" fill="#021a00"/>
<path d="M28,-39.8 26.9,-42.5 24.2,-44.8 20.3,-46.3 15.7,-46.8 11.3,-46.3 7.5,-44.8 4.9,-42.5 4,-39.8 5,-37.1 7.7,-34.8 11.7,-33.3 16.4,-32.7 21.1,-33.3 24.9,-34.8 27.3,-37.1Z" fill="#021a00"/>
<path d="M-2,-36.8 -2.5,-38 -3.8,-39 -5.8,-39.6 -8.1,-39.8 -10.4,-39.6 -12.4,-39 -13.7,-38 -14.2,-36.8 -13.8,-35.6 -12.5,-34.6 -10.6,-34 -8.2,-33.7 -5.9,-34 -3.8,-34.6 -2.5,-35.6Z" fill="#046600"/>
<path d="M47.3,-49.8 45.9,-52.8 43.1,-55.2 39.4,-56.9 35.2,-57.5 31.2,-56.9 27.8,-55.2 25.7,-52.8 25.2,-49.8 26.3,-46.8 29.1,-44.2 33,-42.5 37.4,-41.9 41.7,-42.5 45,-44.2 47,-46.8Z" fill="#031a00"/>
<path d="M61.8,-45.9 60.4,-49.6 58.2,-52.8 55.6,-54.8 52.9,-55.6 50.5,-54.8 48.7,-52.8 47.8,-49.6 48,-45.9 49.1,-42 51.2,-38.8 53.9,-36.6 56.7,-35.8 59.3,-36.6 61.2,-38.8 62.1,-42Z" fill="#052600"/>
<path d="M31.3,-59.3 30.5,-60.8 28.8,-62 26.4,-62.8 23.6,-63 20.9,-62.8 18.6,-62 17.2,-60.8 16.7,-59.3 17.4,-57.9 19.2,-56.7 21.7,-55.9 24.5,-55.6 27.3,-55.9 29.6,-56.7 31,-57.9Z" fill="#056600"/>
<path d="M-5.8,-51.7 -6.2,-53.2 -7.4,-54.5 -9.2,-55.3 -11.4,-55.6 -13.6,-55.3 -15.5,-54.5 -16.8,-53.2 -17.4,-51.7 -17,-50.2 -15.8,-49 -14,-48.1 -11.8,-47.8 -9.5,-48.1 -7.6,-49 -6.3,-50.2Z" fill="#056600"/>
<path d="M54.7,-37.8 53.9,-39.4 52.1,-40.7 49.6,-41.6 46.8,-41.9 44,-41.6 41.7,-40.7 40.2,-39.4 39.8,-37.8 40.6,-36.3 42.4,-34.9 44.9,-34.1 47.9,-33.7 50.7,-34.1 52.9,-34.9 54.3,-36.3Z" fill="#086600"/>
<path d="M5.7,-55.6 4.9,-57.4 2.9,-58.9 -0.2,-59.9 -3.7,-60.3 -7.3,-59.9 -10.3,-58.9 -12.5,-57.4 -13.3,-55.6 -12.7,-53.7 -10.7,-52.2 -7.6,-51.1 -3.9,-50.8 -0.2,-51.1 3,-52.2 5,-53.7Z" fill="#166600"/>
<path d="M7.9,-46.8 7.4,-48.7 6.1,-50.3 4.2,-51.4 1.9,-51.7 -0.3,-51.4 -2.2,-50.3 -3.5,-48.7 -3.9,-46.8 -3.5,-44.9 -2.2,-43.3 -0.3,-42.2 2,-41.9 4.3,-42.2 6.2,-43.3 7.5,-44.9Z" fill="#146600"/>
<path d="M20,-53.7 19.6,-55.1 18.4,-56.4 16.8,-57.2 15,-57.5 13.3,-57.2 11.8,-56.4 10.8,-55.1 10.5,-53.7 11,-52.2 12.1,-50.9 13.7,-50.1 15.6,-49.8 17.4,-50.1 18.9,-50.9 19.8,-52.2Z" fill="#136600"/>
<path d="M48.4,-60.3 47.5,-61.3 45.4,-62.2 42.6,-62.8 39.3,-63 36.1,-62.8 33.4,-62.2 31.6,-61.3 31.1,-60.3 32,-59.2 34.1,-58.3 37.1,-57.7 40.5,-57.5 43.8,-57.7 46.4,-58.3 48,-59.2Z" fill="#136600"/>
<path d="M60.7,-53.7 59.7,-56.6 58.5,-59 57.2,-60.6 56.2,-61.2 55.4,-60.6 55.1,-59 55.3,-56.6 55.8,-53.7 56.7,-50.7 57.9,-48.2 59,-46.5 60.1,-45.9 61,-46.5 61.4,-48.2 61.3,-50.7Z" fill="#166600"/>
<path d="M35.5,-41.9 35.1,-43.4 34.1,-44.7 32.8,-45.6 31.3,-45.9 29.9,-45.6 28.7,-44.7 28,-43.4 27.8,-41.9 28.3,-40.3 29.2,-39 30.6,-38.1 32.1,-37.8 33.5,-38.1 34.7,-39 35.4,-40.3Z" fill="#136600"/>
<path d="M-9.2,-61.2 -9.6,-62.3 -10.7,-63.2 -12.5,-63.7 -14.5,-64 -16.6,-63.7 -18.4,-63.2 -19.7,-62.3 -20.2,-61.2 -19.9,-60.1 -18.8,-59.2 -17.1,-58.6 -15,-58.4 -12.8,-58.6 -11,-59.2 -9.7,-60.1Z" fill="#1a6600"/>
<path d="M-23.1,-51.7 -23.2,-53.2 -23.9,-54.5 -25,-55.3 -26.4,-55.6 -27.8,-55.3 -29.1,-54.5 -30.1,-53.2 -30.6,-51.7 -30.5,-50.2 -29.8,-49 -28.7,-48.1 -27.3,-47.8 -25.8,-48.1 -24.4,-49 -23.5,-50.2Z" fill="#136600"/>
<path d="M89.3,-49.8 86.7,-55 83.2,-59.2 79.2,-62.1 75.5,-63 72.4,-62.1 70.3,-59.2 69.6,-55 70.4,-49.8 72.6,-44.5 76,-40 80.1,-36.9 84.2,-35.8 87.7,-36.9 89.8,-40 90.4,-44.5Z" fill="#0b4000"/>
<path d="M92.4,-43.9 91.3,-46.1 89.3,-48.1 86.9,-49.3 84.4,-49.8 82,-49.3 80.2,-48.1 79.3,-46.1 79.4,-43.9 80.5,-41.6 82.6,-39.6 85.1,-38.3 87.9,-37.8 90.2,-38.3 91.9,-39.6 92.7,-41.6Z" fill="#031a00"/>
<path d="M79,-57.5 78.2,-58.9 76.9,-60.1 75.3,-60.9 73.6,-61.2 72.2,-60.9 71.2,-60.1 70.7,-58.9 70.9,-57.5 71.7,-56 73.1,-54.8 74.7,-53.9 76.4,-53.7 77.9,-53.9 78.9,-54.8 79.3,-56Z" fill="#056600"/>
<path d="M76.7,-63 75.3,-65.1 73.2,-66.9 70.6,-68 67.9,-68.4 65.5,-68 63.8,-66.9 62.9,-65.1 63.1,-63 64.5,-60.9 66.7,-59.1 69.4,-57.9 72.3,-57.5 74.8,-57.9 76.5,-59.1 77.2,-60.9Z" fill="#146600"/>
<path d="M94.1,-64.9 91.1,-69 87.2,-72.4 83,-74.6 79,-75.4 75.6,-74.6 73.3,-72.4 72.4,-69 73.4,-64.9 76.2,-60.7 80.4,-57 85.4,-54.5 90.1,-53.7 93.8,-54.5 95.7,-57 95.7,-60.7Z" fill="#246600"/>
<path d="M108.5,-51.7 105.4,-57.6 102,-62.4 98.9,-65.6 96.5,-66.7 95.1,-65.6 94.9,-62.4 95.9,-57.6 97.9,-51.7 100.8,-45.7 104.1,-40.5 107.3,-37 110,-35.8 111.6,-37 111.9,-40.5 110.8,-45.7Z" fill="#246600"/>
<path d="M84.6,-33.7 84,-35.7 83,-37.4 81.8,-38.5 80.6,-38.8 79.6,-38.5 78.9,-37.4 78.6,-35.7 78.7,-33.7 79.3,-31.8 80.3,-30.1 81.5,-29 82.7,-28.6 83.7,-29 84.5,-30.1 84.8,-31.8Z" fill="#1c6600"/>
<path d="M98.5,-43.9 97.5,-46.1 96.3,-48.1 94.9,-49.3 93.8,-49.8 92.9,-49.3 92.5,-48.1 92.5,-46.1 93,-43.9 93.9,-41.6 95.1,-39.6 96.4,-38.3 97.6,-37.8 98.5,-38.3 99,-39.6 99,-41.6Z" fill="#176600"/>
<path d="M-37.8,-6.4 -31.5,-6.4 -25.2,-6.4 -18.8,-6.4 -12.3,-6.4 -5.8,-6.4 0.7,-6.4 7.2,-6.4 13.7,-6.4 20.1,-6.4 26.5,-6.4 32.8,-6.4 39.1,-6.4 45.2,-6.4 51.1,-6.4 57,-6.4 62.7,-6.4 68.2,-6.4 73.5,-6.4 78.6,-6.4 78.2,-13.9 77.5,-21.3 76.5,-28.6 71.5,-28.6 66.4,-28.6 61,-28.6 55.5,-28.6 49.8,-28.6 44,-28.6 38,-28.6 32,-28.6 25.8,-28.6 19.6,-28.6 13.3,-28.6 7,-28.6 0.7,-28.6 -5.7,-28.6 -12,-28.6 -18.3,-28.6 -24.5,-28.6 -30.7,-28.6 -36.8,-28.6 -37.2,-21.3 -37.6,-13.9Z" fill="#227300"/>
<path d="M94.6,-12.8 93.8,-16.9 92.2,-20.3 90.1,-22.6 87.9,-23.4 85.8,-22.6 84.1,-20.3 83.2,-16.9 83,-12.8 83.7,-8.7 85.2,-5.3 87.2,-2.9 89.5,-2.1 91.7,-2.9 93.4,-5.3 94.5,-8.7Z" fill="#1c6600"/>
<path d="M68.4,6.4 66.5,0.7 61,-4.2 52.3,-7.4 41.8,-8.5 30.9,-7.4 21.5,-4.2 15.1,0.7 12.8,6.4 15,12.1 21.3,16.9 30.5,20.1 41.2,21.3 51.7,20.1 60.4,16.9 66.2,12.1Z" fill="#218000"/>
<path d="M82.7,-17 81.8,-21.1 80,-24.5 77.6,-26.7 75.1,-27.5 72.7,-26.7 70.8,-24.5 69.7,-21.1 69.5,-17 70.3,-13 72,-9.5 74.3,-7.2 76.9,-6.4 79.4,-7.2 81.4,-9.5 82.5,-13Z" fill="#246600"/>
<path d="M56.7,45.9 56.7,40.5 54.3,35.9 50,32.8 44.3,31.7 38.3,32.8 32.9,35.9 29.1,40.5 27.5,45.9 28.1,51.1 30.7,55.5 34.9,58.3 40.1,59.3 45.6,58.3 50.6,55.5 54.6,51.1Z" fill="#1d6600"/>
<path d="M38.2,49.8 38.4,46 37.6,42.8 36,40.6 33.8,39.8 31.5,40.6 29.4,42.8 27.9,46 27.1,49.8 27.1,53.5 27.9,56.6 29.3,58.6 31.3,59.3 33.5,58.6 35.6,56.6 37.2,53.5Z" fill="#186600"/>
<path d="M-83.7,21.3 -85.4,14 -86.8,6.6 -89.4,0.4 -91.8,-5.8 -95.2,-10 -98.2,-14.1 -101.7,-15.6 -105,-17 -108.2,-15.6 -111.2,-14.1 -113.7,-10 -115.8,-5.8 -117.1,0.4 -117.9,6.6 -117.7,14 -117,21.3 -115.2,28.5 -113,35.6 -110.2,41.5 -106.9,47.3 -103.6,51.1 -100.1,54.9 -97,56.2 -93.6,57.5 -91.1,56.2 -88.4,54.9 -86.8,51.1 -84.8,47.3 -84.2,41.5 -83.1,35.6 -83.6,28.5Z" fill="#207300"/>
<path d="M-89.3,70.2 -95.1,60.5 -100,51.9 -103.7,46 -105.9,43.9 -106.5,46 -105.1,51.9 -101.5,60.5 -95.9,70.2 -89,79.3 -82.2,86.4 -77,90.9 -74.5,92.4 -75,90.9 -78.2,86.4 -83.4,79.3Z" fill="#1c6600"/>
</g></g>
<use href="#speck"/>
<use href="#land" fill="none" stroke="#000" stroke-width="1.1" stroke-linejoin="round"/>
<use href="#nod" fill="none" stroke="#000" stroke-width="1.3" stroke-linejoin="round"/>
<path d="M-118.8,-27.4A121.9,121.9 0 0 1 -25.3,-119.2 M-19.0,120.0A121.5,121.5 0 0 1 -55.2,108.3" fill="none" stroke="#000" stroke-width="1.5"/>
<use href="#bord" fill="none" stroke="#000" stroke-width="0.8" stroke-linejoin="round"/>
</g>
<circle r="122.4" fill="none" stroke="#222" stroke-width="0.7"/>
</g>
<text transform="translate(729.95,22.5) scale(.968,1.03)" font-size="18.4" text-anchor="middle">BRDF3</text>
<path d="M868.9,37.9 L874.6,27.0 L880.3,37.9 L880.3,261.1 L874.6,272.0 L868.9,261.1Z" fill="url(#jet0)" stroke="#222" stroke-width="0.7" stroke-linejoin="miter"/>
<path d="M880.3,261.10h3.6" stroke="#222" stroke-width="0.8"/>
<text transform="translate(886.0,264.05) scale(.94,1)" font-size="8.3">0.0</text>
<path d="M880.3,238.78h3.6" stroke="#222" stroke-width="0.8"/>
<text transform="translate(886.0,241.73) scale(.94,1)" font-size="8.3">0.1</text>
<path d="M880.3,216.46h3.6" stroke="#222" stroke-width="0.8"/>
<text transform="translate(886.0,219.41) scale(.94,1)" font-size="8.3">0.2</text>
<path d="M880.3,194.14h3.6" stroke="#222" stroke-width="0.8"/>
<text transform="translate(886.0,197.09) scale(.94,1)" font-size="8.3">0.3</text>
<path d="M880.3,171.82h3.6" stroke="#222" stroke-width="0.8"/>
<text transform="translate(886.0,174.77) scale(.94,1)" font-size="8.3">0.4</text>
<path d="M880.3,149.50h3.6" stroke="#222" stroke-width="0.8"/>
<text transform="translate(886.0,152.45) scale(.94,1)" font-size="8.3">0.5</text>
<path d="M880.3,127.18h3.6" stroke="#222" stroke-width="0.8"/>
<text transform="translate(886.0,130.13) scale(.94,1)" font-size="8.3">0.6</text>
<path d="M880.3,104.86h3.6" stroke="#222" stroke-width="0.8"/>
<text transform="translate(886.0,107.81) scale(.94,1)" font-size="8.3">0.7</text>
<path d="M880.3,82.54h3.6" stroke="#222" stroke-width="0.8"/>
<text transform="translate(886.0,85.49) scale(.94,1)" font-size="8.3">0.8</text>
<path d="M880.3,60.22h3.6" stroke="#222" stroke-width="0.8"/>
<text transform="translate(886.0,63.17) scale(.94,1)" font-size="8.3">0.9</text>
<path d="M880.3,37.90h3.6" stroke="#222" stroke-width="0.8"/>
<text transform="translate(886.0,40.85) scale(.94,1)" font-size="8.3">1.0</text>
<g transform="translate(129.5,423.0)">
<g clip-path="url(#cg)">
<circle r="123" fill="#1a0e7e"/>
<g clip-path="url(#cl)"><g filter="url(#fNDVI)"><rect x="-130" y="-130" width="260" height="260" fill="#4c4c00"/>
<path d="M-20.6,-71.9 -15.4,-71.9 -10.1,-71.9 -4.8,-71.9 0.5,-71.9 5.8,-71.9 11,-71.9 16.3,-71.9 21.5,-71.9 26.6,-71.9 31.7,-71.9 36.7,-71.9 41.5,-71.9 46.3,-71.9 50.9,-71.9 55.4,-71.9 59.7,-71.9 63.8,-71.9 67.8,-71.9 71.6,-71.9 75.1,-71.9 78.5,-71.9 81.6,-71.9 84.5,-71.9 87.1,-71.9 89.5,-71.9 91.6,-71.9 93.5,-71.9 95.1,-71.9 96.5,-71.9 97.5,-71.9 93.7,-77 89.6,-81.9 85.2,-86.5 80.7,-91 75.9,-95.1 70.9,-99 65.7,-102.7 60.3,-106 54.7,-109.1 49,-111.8 43.2,-114.3 37.2,-116.4 31.2,-118.2 30.9,-118.2 30.4,-118.2 29.9,-118.2 29.3,-118.2 28.6,-118.2 27.9,-118.2 27,-118.2 26.1,-118.2 25.1,-118.2 24,-118.2 22.9,-118.2 21.7,-118.2 20.4,-118.2 19.1,-118.2 17.7,-118.2 16.3,-118.2 14.8,-118.2 13.3,-118.2 11.7,-118.2 10.1,-118.2 8.5,-118.2 6.9,-118.2 5.2,-118.2 3.5,-118.2 1.8,-118.2 0.1,-118.2 -1.5,-118.2 -3.2,-118.2 -4.9,-118.2 -6.6,-118.2 -7.9,-116.4 -9.1,-114.3 -10.4,-111.8 -11.6,-109.1 -12.7,-106 -13.9,-102.7 -15,-99 -16,-95.1 -17,-91 -18,-86.5 -18.9,-81.9 -19.8,-77Z" fill="#7a4c00"/>
<path d="M1.6,-78.7 1,-80.8 -0.7,-82.7 -3.2,-83.8 -6.2,-84.3 -9.2,-83.8 -11.8,-82.7 -13.8,-80.8 -14.7,-78.7 -14.3,-76.5 -12.7,-74.6 -10.1,-73.3 -6.9,-72.8 -3.6,-73.3 -0.8,-74.6 1,-76.5Z" fill="#734c00"/>
<path d="M-7,-83.5 -7.3,-84.2 -8,-84.8 -9.3,-85.2 -10.7,-85.3 -12.2,-85.2 -13.5,-84.8 -14.4,-84.2 -14.8,-83.5 -14.6,-82.8 -13.8,-82.1 -12.6,-81.7 -11.1,-81.6 -9.6,-81.7 -8.3,-82.1 -7.4,-82.8Z" fill="#b84c00"/>
<path d="M-6.8,-74.5 -7,-75.2 -7.7,-75.7 -8.7,-76.1 -10,-76.2 -11.3,-76.1 -12.4,-75.7 -13.2,-75.2 -13.5,-74.5 -13.3,-73.9 -12.6,-73.3 -11.6,-72.9 -10.3,-72.8 -9,-72.9 -7.8,-73.3 -7.1,-73.9Z" fill="#a34c00"/>
<path d="M10.3,-88.8 9.5,-90.6 7.8,-92.1 5.4,-93.1 2.8,-93.5 0.1,-93.1 -2.2,-92.1 -3.8,-90.6 -4.4,-88.8 -3.9,-86.9 -2.4,-85.3 0.1,-84.2 3.1,-83.8 6.1,-84.2 8.5,-85.3 9.9,-86.9Z" fill="#cc4c00"/>
<path d="M7.3,-89.5 6.8,-90.7 5.6,-91.8 4,-92.4 2.1,-92.7 0.2,-92.4 -1.4,-91.8 -2.5,-90.7 -2.9,-89.5 -2.6,-88.3 -1.5,-87.2 0.2,-86.5 2.3,-86.2 4.3,-86.5 6,-87.2 7,-88.3Z" fill="#db4c00"/>
<path d="M-10.6,-78.7 -10.6,-80.5 -10.9,-82.1 -11.4,-83.1 -12.1,-83.5 -13,-83.1 -13.8,-82.1 -14.4,-80.5 -14.8,-78.7 -14.9,-76.8 -14.6,-75.2 -14.1,-74.1 -13.3,-73.7 -12.4,-74.1 -11.6,-75.2 -11,-76.8Z" fill="#9e4c00"/>
<path d="M1.3,-97.8 1,-99.7 0.1,-101.3 -1,-102.3 -2.3,-102.7 -3.7,-102.3 -4.9,-101.3 -5.9,-99.7 -6.4,-97.8 -6.3,-95.8 -5.6,-94 -4.4,-92.8 -2.8,-92.4 -1.2,-92.8 0.2,-94 1,-95.8Z" fill="#c24c00"/>
<path d="M-7.7,-97.8 -7.8,-98.7 -8.2,-99.5 -8.9,-100.1 -9.8,-100.3 -10.7,-100.1 -11.7,-99.5 -12.4,-98.7 -12.8,-97.8 -12.8,-96.8 -12.4,-95.9 -11.7,-95.3 -10.7,-95.1 -9.7,-95.3 -8.7,-95.9 -8,-96.8Z" fill="#c24c00"/>
<path d="M21.7,-93.8 20.7,-95.3 18.9,-96.6 16.5,-97.5 14.1,-97.8 11.7,-97.5 9.8,-96.6 8.5,-95.3 8.2,-93.8 9,-92.2 10.7,-90.8 13.1,-89.8 15.9,-89.5 18.6,-89.8 20.6,-90.8 21.7,-92.2Z" fill="#a14c00"/>
<path d="M23.9,-83.5 23.1,-85.3 21.8,-86.7 20.1,-87.7 18.4,-88 16.8,-87.7 15.6,-86.7 14.8,-85.3 14.8,-83.5 15.4,-81.7 16.7,-80.1 18.4,-79.1 20.3,-78.7 22.1,-79.1 23.4,-80.1 24,-81.7Z" fill="#9e4c00"/>
<path d="M39.2,-83.5 37.7,-85.8 35.4,-87.8 32.7,-89.1 29.9,-89.5 27.5,-89.1 25.6,-87.8 24.6,-85.8 24.7,-83.5 25.9,-81.1 28.1,-79 31,-77.5 34.1,-77 36.9,-77.5 38.8,-79 39.7,-81.1Z" fill="#944c00"/>
<path d="M31.3,-95.1 30.1,-96.6 28.2,-97.9 25.8,-98.7 23.4,-99 21.3,-98.7 19.6,-97.9 18.7,-96.6 18.6,-95.1 19.6,-93.6 21.5,-92.2 24,-91.3 26.7,-91 29.1,-91.3 30.9,-92.2 31.6,-93.6Z" fill="#804c00"/>
<path d="M17.9,-87 17.5,-87.5 16.4,-87.8 15,-88.1 13.3,-88.2 11.6,-88.1 10.2,-87.8 9.3,-87.5 9,-87 9.4,-86.5 10.4,-86.1 11.9,-85.9 13.7,-85.8 15.4,-85.9 16.8,-86.1 17.7,-86.5Z" fill="#a84c00"/>
<path d="M62,-77.9 60.5,-79.1 57.8,-80.2 54.1,-80.9 49.9,-81.1 45.9,-80.9 42.5,-80.2 40.4,-79.1 39.9,-77.9 41.3,-76.6 44.3,-75.5 48.4,-74.8 52.9,-74.5 57,-74.8 60.2,-75.5 61.9,-76.6Z" fill="#4c4c00"/>
<path d="M60.6,-80.3 59.8,-80.8 57.9,-81.2 55.3,-81.5 52.3,-81.6 49.3,-81.5 46.8,-81.2 45.2,-80.8 44.8,-80.3 45.6,-79.8 47.6,-79.4 50.5,-79.1 53.6,-79 56.6,-79.1 58.9,-79.4 60.3,-79.8Z" fill="#804c00"/>
<path d="M48.4,-93.8 45.8,-96.3 42.4,-98.4 38.7,-99.8 35.1,-100.3 32.1,-99.8 30,-98.4 29,-96.3 29.5,-93.8 31.4,-91.1 34.8,-88.7 38.9,-87.1 43.3,-86.5 46.9,-87.1 49.1,-88.7 49.7,-91.1Z" fill="#6b4c00"/>
<path d="M60.2,-100.3 55.5,-103.4 50.1,-105.9 45,-107.5 40.6,-108.1 37.3,-107.5 35.2,-105.9 34.7,-103.4 36.2,-100.3 39.7,-96.9 45.2,-93.8 51.7,-91.7 57.9,-91 62.4,-91.7 64.3,-93.8 63.4,-96.9Z" fill="#614c00"/>
<path d="M65.7,-102.7 59.2,-106.5 52.8,-109.4 50.1,-110.3 47.3,-111.2 45.3,-111.5 43.1,-111.8 41.9,-111.5 40.5,-111.2 40.1,-110.3 39.4,-109.4 40,-106.5 42.9,-102.7 48.2,-98.5 55.7,-94.6 59.9,-93.3 64,-91.9 67.6,-91.4 70.9,-91 73,-91.4 74.7,-91.9 74.9,-93.3 74.7,-94.6 71.2,-98.5Z" fill="#4c4c00"/>
<path d="M23.5,-109.1 21.4,-110.9 18.8,-112.3 16,-113.2 13.4,-113.5 11.2,-113.2 9.6,-112.3 8.7,-110.9 8.7,-109.1 9.9,-107.1 12.2,-105.4 15.5,-104.2 19,-103.8 22,-104.2 24,-105.4 24.4,-107.1Z" fill="#6b4c00"/>
<path d="M71.8,-86.5 69.8,-88.3 67.1,-89.7 64,-90.6 60.9,-91 58.1,-90.6 56.1,-89.7 55.2,-88.3 55.6,-86.5 57.5,-84.8 60.4,-83.3 64,-82.3 67.6,-81.9 70.5,-82.3 72.2,-83.3 72.6,-84.8Z" fill="#384c00"/>
<path d="M87.4,-81.9 83.8,-85.5 79.8,-88.4 75.8,-90.3 72.3,-91 69.6,-90.3 68.1,-88.4 68,-85.5 69.7,-81.9 73.1,-78.2 77.8,-74.9 82.9,-72.7 87.4,-71.9 90.3,-72.7 91.2,-74.9 90.1,-78.2Z" fill="#244c00"/>
<path d="M99,-70.2 96,-74.2 93.1,-77.4 90.7,-79.6 89.2,-80.3 88.8,-79.6 89.5,-77.4 91.2,-74.2 93.6,-70.2 96.4,-66.1 99.3,-62.6 101.8,-60.2 103.4,-59.3 104,-60.2 103.3,-62.6 101.6,-66.1Z" fill="#334c00"/>
<path d="M-36.9,-27.5 -30.9,-27.5 -24.8,-27.5 -18.7,-27.5 -12.5,-27.5 -6.2,-27.5 0,-27.5 6.2,-27.5 12.5,-27.5 18.7,-27.5 24.8,-27.5 30.9,-27.5 36.9,-27.5 42.7,-27.5 48.5,-27.5 54.1,-27.5 59.6,-27.5 65,-27.5 70.1,-27.5 75.1,-27.5 79.8,-27.5 84.3,-27.5 88.6,-27.5 92.7,-27.5 96.5,-27.5 100,-27.5 103.3,-27.5 101.7,-34.6 99.7,-41.5 97.4,-48.3 94.7,-54.9 91.7,-61.4 88.4,-67.6 85.6,-67.6 82.6,-67.6 79.3,-67.6 75.9,-67.6 72.2,-67.6 68.3,-67.6 64.2,-67.6 60,-67.6 55.6,-67.6 51,-67.6 46.3,-67.6 41.5,-67.6 36.6,-67.6 31.5,-67.6 26.4,-67.6 21.2,-67.6 16,-67.6 10.7,-67.6 5.3,-67.6 0,-67.6 -5.3,-67.6 -10.7,-67.6 -16,-67.6 -21.2,-67.6 -26.4,-67.6 -31.5,-67.6 -32.7,-61.4 -33.8,-54.9 -34.8,-48.3 -35.6,-41.5 -36.3,-34.6Z" fill="#141a00"/>
<path d="M-5.4,-66.7 0,-66.7 5.4,-66.7 10.7,-66.7 16.1,-66.7 21.3,-66.7 20.8,-70.6 15.6,-70.6 10.5,-70.6 5.2,-70.6 0,-70.6 -5.2,-70.6Z" fill="#1a1a00"/>
<path d="M-15.6,-70.9 -9.9,-70.9 -4.1,-70.9 1.7,-70.9 7.5,-70.9 13.3,-70.9 19,-70.9 18.5,-74.5 13,-74.5 7.3,-74.5 1.7,-74.5 -4,-74.5 -9.6,-74.5 -15.2,-74.5Z" fill="#664c00"/>
<path d="M-6.2,-68.8 -6.5,-69.6 -7.4,-70.3 -8.8,-70.7 -10.4,-70.9 -12.1,-70.7 -13.5,-70.3 -14.6,-69.6 -15,-68.8 -14.7,-68 -13.8,-67.3 -12.4,-66.8 -10.7,-66.7 -9,-66.8 -7.5,-67.3 -6.6,-68Z" fill="#5c4c00"/>
<path d="M55.6,-62.1 55.3,-62.8 54.8,-63.4 54.3,-63.8 53.8,-64 53.3,-63.8 53,-63.4 52.9,-62.8 53.1,-62.1 53.4,-61.4 53.8,-60.8 54.3,-60.4 54.9,-60.3 55.3,-60.4 55.6,-60.8 55.7,-61.4Z" fill="#664c00"/>
<path d="M61.4,-68.4 60.5,-70.1 59.6,-71.5 58.6,-72.5 57.8,-72.8 57.3,-72.5 57.2,-71.5 57.4,-70.1 57.9,-68.4 58.7,-66.7 59.6,-65.3 60.5,-64.3 61.3,-64 61.9,-64.3 62.1,-65.3 61.9,-66.7Z" fill="#4c4c00"/>
<path d="M55,-53.7 52.6,-58 48.1,-61.6 42.1,-64 35.5,-64.9 29.1,-64 23.7,-61.6 20.1,-58 19.1,-53.7 20.9,-49.2 25.4,-45.4 31.9,-42.8 39.3,-41.9 46.3,-42.8 51.7,-45.4 54.7,-49.2Z" fill="#111400"/>
<path d="M77.7,-49.8 82,-49.8 86,-49.8 89.8,-49.8 93.4,-49.8 96.6,-49.8 99.6,-49.8 102.2,-49.8 104.6,-49.8 106.6,-49.8 108.3,-49.8 109.6,-49.8 110.7,-49.8 111.4,-49.8 108.3,-56.3 104.7,-62.7 100.8,-68.8 96.6,-74.7 92,-80.3 91.4,-80.3 90.6,-80.3 89.4,-80.3 88,-80.3 86.4,-80.3 84.4,-80.3 82.3,-80.3 79.8,-80.3 77.1,-80.3 74.2,-80.3 71.1,-80.3 67.7,-80.3 64.2,-80.3 67.4,-74.7 70.3,-68.8 73,-62.7 75.5,-56.3Z" fill="#213300"/>
<path d="M92.3,-47.8 88.9,-54.5 84.1,-60 78.7,-63.6 73.4,-64.9 68.8,-63.6 65.6,-60 64,-54.5 64.6,-47.8 67.4,-41 72.1,-35 77.9,-31 84,-29.6 89.1,-31 92.5,-35 93.6,-41Z" fill="#161a00"/>
<path d="M93.3,-64.9 90.3,-69 86.4,-72.4 82.1,-74.6 78,-75.4 74.5,-74.6 72.1,-72.4 71.2,-69 72.1,-64.9 74.9,-60.7 79.1,-57 84.2,-54.5 89,-53.7 92.8,-54.5 94.8,-57 94.9,-60.7Z" fill="#1a2600"/>
<path d="M101.9,-61.2 99.1,-65.4 96,-68.9 93,-71.2 90.5,-71.9 88.7,-71.2 87.9,-68.9 88.3,-65.4 89.9,-61.2 92.5,-56.9 95.8,-53.2 99.2,-50.7 102.2,-49.8 104.1,-50.7 104.6,-53.2 103.8,-56.9Z" fill="#213300"/>
<path d="M73.6,-71.9 72.5,-73.3 70.9,-74.4 69,-75.1 67,-75.4 65.3,-75.1 64,-74.4 63.4,-73.3 63.7,-71.9 64.7,-70.6 66.3,-69.5 68.4,-68.7 70.5,-68.4 72.3,-68.7 73.5,-69.5 73.9,-70.6Z" fill="#334c00"/>
<path d="M113.6,-41.9 110.5,-49.4 107.2,-55.7 104.4,-59.8 102.9,-61.2 102.7,-59.8 103.9,-55.7 106.1,-49.4 108.8,-41.9 111.4,-34.1 113.8,-27.4 115.6,-22.9 117,-21.3 117.6,-22.9 117.3,-27.4 116,-34.1Z" fill="#6b4c00"/>
<path d="M104.9,-57.5 103.2,-60.3 101.4,-62.7 99.9,-64.3 98.7,-64.9 98.2,-64.3 98.2,-62.7 99,-60.3 100.2,-57.5 101.8,-54.6 103.5,-52.1 105.1,-50.4 106.3,-49.8 107,-50.4 106.9,-52.1 106.2,-54.6Z" fill="#404c00"/>
<path d="M79.6,-73.7 79,-74.2 77.8,-74.6 76.3,-74.9 74.6,-75 73,-74.9 71.7,-74.6 71,-74.2 70.9,-73.7 71.6,-73.1 72.8,-72.7 74.5,-72.4 76.2,-72.3 77.8,-72.4 79,-72.7 79.6,-73.1Z" fill="#804c00"/>
<path d="M84.1,-32.7 83.6,-34.7 82.7,-36.3 81.8,-37.4 80.9,-37.8 80.1,-37.4 79.6,-36.3 79.5,-34.7 79.7,-32.7 80.2,-30.7 81,-29.1 81.9,-27.9 82.8,-27.5 83.6,-27.9 84.2,-29.1 84.3,-30.7Z" fill="#334c00"/>
<path d="M-37,-25.9 -30.9,-25.9 -24.7,-25.9 -18.4,-25.9 -12.1,-25.9 -5.7,-25.9 0.7,-25.9 7,-25.9 13.4,-25.9 19.7,-25.9 25.9,-25.9 32.1,-25.9 38.2,-25.9 44.2,-25.9 50.1,-25.9 55.8,-25.9 61.3,-25.9 66.7,-25.9 71.9,-25.9 76.9,-25.9 76.6,-28 71.6,-28 66.5,-28 61.1,-28 55.6,-28 49.9,-28 44,-28 38.1,-28 32,-28 25.8,-28 19.6,-28 13.3,-28 7,-28 0.7,-28 -5.7,-28 -12,-28 -18.3,-28 -24.6,-28 -30.7,-28 -36.8,-28Z" fill="#212600"/>
<path d="M-37.1,-23.8 -30.9,-23.8 -24.5,-23.8 -18.1,-23.8 -11.6,-23.8 -5.1,-23.8 1.4,-23.8 7.9,-23.8 14.4,-23.8 20.8,-23.8 27.2,-23.8 33.5,-23.8 39.8,-23.8 45.8,-23.8 51.8,-23.8 57.6,-23.8 63.2,-23.8 68.7,-23.8 73.9,-23.8 73.7,-25.9 68.4,-25.9 63,-25.9 57.4,-25.9 51.6,-25.9 45.7,-25.9 39.6,-25.9 33.4,-25.9 27.1,-25.9 20.8,-25.9 14.3,-25.9 7.9,-25.9 1.4,-25.9 -5.1,-25.9 -11.6,-25.9 -18,-25.9 -24.4,-25.9 -30.7,-25.9 -37,-25.9Z" fill="#474c00"/>
<path d="M-35.3,-20.2 -29,-20.2 -22.5,-20.2 -16.1,-20.2 -9.5,-20.2 -3,-20.2 3.6,-20.2 10.2,-20.2 16.7,-20.2 23.2,-20.2 29.6,-20.2 35.9,-20.2 42.1,-20.2 48.2,-20.2 54.1,-20.2 59.9,-20.2 65.5,-20.2 71,-20.2 70.6,-23.4 65.2,-23.4 59.6,-23.4 53.9,-23.4 48,-23.4 41.9,-23.4 35.7,-23.4 29.4,-23.4 23,-23.4 16.6,-23.4 10.1,-23.4 3.6,-23.4 -3,-23.4 -9.5,-23.4 -16,-23.4 -22.4,-23.4 -28.8,-23.4 -35.1,-23.4Z" fill="#804c00"/>
<path d="M-31.4,-17 -24.9,-17 -18.4,-17 -11.8,-17 -5.2,-17 1.4,-17 8,-17 14.6,-17 21.2,-17 27.7,-17 34.1,-17 40.4,-17 46.6,-17 52.6,-17 58.5,-17 64.2,-17 64,-20.2 58.3,-20.2 52.4,-20.2 46.4,-20.2 40.2,-20.2 33.9,-20.2 27.6,-20.2 21.1,-20.2 14.6,-20.2 8,-20.2 1.4,-20.2 -5.2,-20.2 -11.8,-20.2 -18.3,-20.2 -24.8,-20.2 -31.2,-20.2Z" fill="#9e4c00"/>
<path d="M-29.5,-8.5 -23,-8.5 -16.4,-8.5 -9.7,-8.5 -3,-8.5 3.7,-8.5 10.3,-8.5 17,-8.5 23.6,-8.5 30.1,-8.5 36.6,-8.5 42.9,-8.5 49.1,-8.5 55.2,-8.5 61.1,-8.5 60.6,-17 54.8,-17 48.7,-17 42.6,-17 36.3,-17 29.9,-17 23.4,-17 16.9,-17 10.3,-17 3.6,-17 -3,-17 -9.7,-17 -16.3,-17 -22.8,-17 -29.3,-17Z" fill="#b84c00"/>
<path d="M-10.6,-14.9 -11.2,-16.9 -13,-18.7 -15.7,-19.8 -18.9,-20.2 -22.1,-19.8 -24.8,-18.7 -26.6,-16.9 -27.3,-14.9 -26.8,-12.9 -25,-11.2 -22.3,-10 -19.1,-9.6 -15.9,-10 -13.1,-11.2 -11.3,-12.9Z" fill="#cc4c00"/>
<path d="M21.1,-14.9 20.3,-16.1 18,-17.2 14.6,-17.9 10.6,-18.1 6.5,-17.9 3.1,-17.2 0.8,-16.1 0,-14.9 0.8,-13.7 3.1,-12.7 6.6,-12 10.6,-11.7 14.7,-12 18.1,-12.7 20.3,-13.7Z" fill="#bd4c00"/>
<path d="M16.9,12.8 23.5,12.8 30,12.8 36.5,12.8 42.8,12.8 49,12.8 55,12.8 60.9,12.8 61.1,5 61.2,-2.8 61,-10.7 55.1,-10.7 49,-10.7 42.8,-10.7 36.5,-10.7 30.1,-10.7 23.6,-10.7 17,-10.7 17,-2.8 17,5Z" fill="#cc4c00"/>
<path d="M59.3,0 58.2,-4.1 54.8,-7.5 49.7,-9.9 43.7,-10.7 37.6,-9.9 32.3,-7.5 28.8,-4.1 27.5,0 28.8,4.1 32.3,7.5 37.6,9.9 43.7,10.7 49.7,9.9 54.8,7.5 58.2,4.1Z" fill="#db4c00"/>
<path d="M31.7,2.1 31.2,-1.1 29.8,-3.9 27.8,-5.8 25.4,-6.4 23,-5.8 21,-3.9 19.6,-1.1 19.1,2.1 19.6,5.4 21,8.2 23,10 25.4,10.7 27.7,10 29.8,8.2 31.2,5.4Z" fill="#c74c00"/>
<path d="M61.2,4.3 60.6,1 59,-1.8 56.6,-3.6 53.6,-4.3 50.7,-3.6 48.2,-1.8 46.5,1 45.8,4.3 46.4,7.5 48,10.3 50.4,12.1 53.4,12.8 56.3,12.1 58.8,10.3 60.5,7.5Z" fill="#db4c00"/>
<path d="M80.1,-19.1 79.2,-23.2 77.6,-26.6 75.4,-28.8 73.1,-29.6 71,-28.8 69.4,-26.6 68.5,-23.2 68.5,-19.1 69.3,-15.1 70.8,-11.7 72.9,-9.3 75.2,-8.5 77.4,-9.3 79.1,-11.7 80.1,-15.1Z" fill="#804c00"/>
<path d="M74,-13.9 73.6,-16.3 72.7,-18.3 71.5,-19.7 70.1,-20.2 68.8,-19.7 67.8,-18.3 67.2,-16.3 67.1,-13.9 67.5,-11.4 68.4,-9.3 69.6,-8 70.9,-7.5 72.2,-8 73.3,-9.3 73.9,-11.4Z" fill="#9e4c00"/>
<path d="M94.4,-14.9 93.5,-19 91.6,-22.4 89,-24.7 86.1,-25.4 83.4,-24.7 81.2,-22.4 79.9,-19 79.7,-14.9 80.6,-10.9 82.5,-7.4 85.1,-5.1 88,-4.3 90.8,-5.1 93,-7.4 94.2,-10.9Z" fill="#3d4c00"/>
<path d="M95,-21.3 94.4,-22.5 93.1,-23.5 91.3,-24.2 89.1,-24.4 87,-24.2 85.2,-23.5 84,-22.5 83.7,-21.3 84.3,-20 85.8,-19 87.7,-18.3 90,-18.1 92.1,-18.3 93.7,-19 94.8,-20Z" fill="#264c00"/>
<path d="M83.5,-23.4 82.9,-25.8 81.9,-27.8 80.7,-29.1 79.5,-29.6 78.4,-29.1 77.6,-27.8 77.2,-25.8 77.2,-23.4 77.8,-20.9 78.7,-18.9 79.8,-17.5 81.1,-17 82.3,-17.5 83.1,-18.9 83.5,-20.9Z" fill="#264c00"/>
<path d="M83.4,-4.3 83,-7.5 81.8,-10.3 80.1,-12.1 78.2,-12.8 76.4,-12.1 74.9,-10.3 73.9,-7.5 73.6,-4.3 74,-1 75.1,1.8 76.7,3.6 78.6,4.3 80.5,3.6 82.1,1.8 83.1,-1Z" fill="#474c00"/>
<path d="M67.8,-17 67.2,-19.5 65.8,-21.5 64,-22.9 61.9,-23.4 59.9,-22.9 58.2,-21.5 57.2,-19.5 56.9,-17 57.5,-14.6 58.8,-12.5 60.7,-11.2 62.8,-10.7 64.9,-11.2 66.5,-12.5 67.6,-14.6Z" fill="#8c4c00"/>
<path d="M73.4,-27.5 72.9,-29.1 72,-30.5 70.8,-31.4 69.5,-31.7 68.3,-31.4 67.3,-30.5 66.7,-29.1 66.7,-27.5 67.2,-25.9 68.1,-24.6 69.3,-23.7 70.6,-23.4 71.9,-23.7 72.9,-24.6 73.4,-25.9Z" fill="#4c4c00"/>
<path d="M75.3,6.4 74.8,2.3 73.4,-1.1 71.1,-3.5 68.4,-4.3 65.7,-3.5 63.4,-1.1 61.8,2.3 61.1,6.4 61.5,10.5 62.9,13.9 65.1,16.2 67.8,17 70.5,16.2 72.9,13.9 74.6,10.5Z" fill="#734c00"/>
<path d="M77.3,14.9 77.1,11.7 76,8.9 74.1,7.1 71.8,6.4 69.5,7.1 67.4,8.9 65.9,11.7 65.3,14.9 65.5,18.2 66.6,20.9 68.4,22.7 70.6,23.4 73,22.7 75,20.9 76.6,18.2Z" fill="#734c00"/>
<path d="M69.3,-2.1 69,-4.2 68,-5.9 66.5,-7.1 64.7,-7.5 63,-7.1 61.6,-5.9 60.6,-4.2 60.3,-2.1 60.6,-0.1 61.6,1.6 63.1,2.8 64.8,3.2 66.6,2.8 68,1.6 69,-0.1Z" fill="#9e4c00"/>
<path d="M79.4,4.3 79.2,1.8 78.3,-0.3 76.9,-1.6 75.3,-2.1 73.7,-1.6 72.3,-0.3 71.4,1.8 71,4.3 71.3,6.7 72.2,8.8 73.5,10.2 75.1,10.7 76.7,10.2 78.1,8.8 79.1,6.7Z" fill="#544c00"/>
<path d="M77.8,12.8 77.8,10.4 77.4,8.3 76.8,6.9 76.1,6.4 75.3,6.9 74.6,8.3 74.1,10.4 73.8,12.8 73.8,15.2 74,17.3 74.5,18.7 75.3,19.1 76.1,18.7 76.8,17.3 77.4,15.2Z" fill="#8c4c00"/>
<path d="M24.8,27.5 30.9,27.5 36.9,27.5 42.7,27.5 48.5,27.5 54.1,27.5 59.6,27.5 65,27.5 70.1,27.5 71,20.2 71.6,12.8 66.3,12.8 60.9,12.8 55.3,12.8 49.5,12.8 43.6,12.8 37.6,12.8 31.5,12.8 25.3,12.8 25.1,20.2Z" fill="#b84c00"/>
<path d="M46.8,25.4 46.3,22.2 44.4,19.5 41.3,17.7 37.5,17 33.6,17.7 30.2,19.5 27.9,22.2 26.9,25.4 27.5,28.6 29.6,31.3 32.7,33.1 36.4,33.7 40.1,33.1 43.4,31.3 45.8,28.6Z" fill="#b24c00"/>
<path d="M66.7,27.5 66.2,25.1 64.1,23.1 60.8,21.7 56.6,21.3 52.2,21.7 48.4,23.1 45.8,25.1 44.7,27.5 45.3,29.9 47.6,31.9 51.1,33.3 55.2,33.7 59.4,33.3 63,31.9 65.6,29.9Z" fill="#ad4c00"/>
<path d="M78.1,28.6 78.1,25.8 77.2,23.4 75.5,21.8 73.4,21.3 71.1,21.8 69,23.4 67.4,25.8 66.6,28.6 66.6,31.3 67.5,33.7 69.2,35.2 71.3,35.8 73.5,35.2 75.6,33.7 77.2,31.3Z" fill="#ad4c00"/>
<path d="M68,39.8 68.1,37.5 67.4,35.5 66,34.2 64.1,33.7 62,34.2 60.1,35.5 58.7,37.5 57.9,39.8 57.9,42.2 58.6,44.1 60,45.4 61.8,45.9 63.8,45.4 65.7,44.1 67.2,42.2Z" fill="#8f4c00"/>
<path d="M66.2,47.8 66.5,45.6 66.3,43.6 65.5,42.3 64.3,41.9 62.9,42.3 61.6,43.6 60.5,45.6 59.7,47.8 59.4,50.1 59.7,52 60.4,53.2 61.5,53.7 62.9,53.2 64.2,52 65.4,50.1Z" fill="#854c00"/>
<path d="M62.2,39.8 62.1,38.3 61.4,37 60.2,36.1 58.5,35.8 56.8,36.1 55.2,37 54,38.3 53.4,39.8 53.5,41.4 54.3,42.7 55.5,43.6 57.1,43.9 58.8,43.6 60.4,42.7 61.6,41.4Z" fill="#944c00"/>
<path d="M70.4,35.8 70.5,34.2 70,32.9 69.1,32 67.8,31.7 66.5,32 65.2,32.9 64.3,34.2 63.8,35.8 63.7,37.3 64.2,38.7 65.2,39.5 66.4,39.8 67.7,39.5 68.9,38.7 69.9,37.3Z" fill="#9e4c00"/>
<path d="M49.7,45.9 49.6,42 47.7,38.8 44.3,36.6 40,35.8 35.5,36.6 31.5,38.8 28.7,42 27.5,45.9 27.9,49.6 30,52.8 33.3,54.8 37.3,55.6 41.5,54.8 45.3,52.8 48.2,49.6Z" fill="#4c4c00"/>
<path d="M51.9,43.9 51.9,41.6 51,39.6 49.4,38.3 47.3,37.8 45.1,38.3 43.2,39.6 41.7,41.6 41,43.9 41,46.1 41.9,48.1 43.5,49.3 45.5,49.8 47.6,49.3 49.6,48.1 51.1,46.1Z" fill="#664c00"/>
<path d="M34.1,45.9 34.4,40.5 33.8,35.9 32.4,32.8 30.6,31.7 28.6,32.8 26.8,35.9 25.4,40.5 24.6,45.9 24.4,51.1 25,55.5 26.1,58.3 27.7,59.3 29.6,58.3 31.5,55.5 33.1,51.1Z" fill="#244c00"/>
<path d="M46.5,61.2 46.4,59.1 44.9,57.2 42.4,56 39.1,55.6 35.6,56 32.5,57.2 30.2,59.1 29.2,61.2 29.5,63.3 31.1,65.1 33.7,66.3 36.8,66.7 40.1,66.3 43,65.1 45.3,63.3Z" fill="#384c00"/>
<path d="M55.7,57.5 56.1,54.6 55.6,52.1 54.3,50.4 52.5,49.8 50.4,50.4 48.4,52.1 46.7,54.6 45.7,57.5 45.4,60.3 45.9,62.7 47,64.3 48.7,64.9 50.7,64.3 52.7,62.7 54.5,60.3Z" fill="#734c00"/>
<path d="M57.7,57.5 58.5,53.8 58.7,50.7 58.2,48.6 57.2,47.8 55.9,48.6 54.4,50.7 53,53.8 51.9,57.5 51.2,61 50.9,64 51.3,66 52.1,66.7 53.4,66 54.9,64 56.5,61Z" fill="#9e4c00"/>
<path d="M30.6,31.7 30.5,30.1 29.9,28.8 29,27.9 27.8,27.5 26.7,27.9 25.6,28.8 24.9,30.1 24.6,31.7 24.7,33.3 25.3,34.6 26.2,35.5 27.3,35.8 28.5,35.5 29.5,34.6 30.3,33.3Z" fill="#4c4c00"/>
<path d="M38.2,67.6 38.1,67 37.5,66.5 36.5,66.2 35.2,66.1 33.9,66.2 32.7,66.5 31.9,67 31.5,67.6 31.7,68.1 32.3,68.6 33.3,68.9 34.6,69 35.9,68.9 37,68.6 37.8,68.1Z" fill="#734c00"/>
<path d="M48,67.2 47.8,66.7 46.9,66.2 45.5,65.9 43.6,65.8 41.7,65.9 40,66.2 38.8,66.7 38.3,67.2 38.6,67.7 39.5,68.2 41,68.5 42.8,68.6 44.7,68.5 46.3,68.2 47.5,67.7Z" fill="#804c00"/>
<path d="M88,39.8 89.1,34.4 89.3,29.7 88.7,26.6 87.6,25.4 86,26.6 84.3,29.7 82.6,34.4 81.1,39.8 80,45.2 79.4,49.7 79.5,52.6 80.5,53.7 82.1,52.6 84.1,49.7 86.2,45.2Z" fill="#854c00"/>
<path d="M82.3,45.9 82.8,43.6 82.9,41.6 82.5,40.3 81.8,39.8 80.9,40.3 79.9,41.6 78.9,43.6 78.1,45.9 77.6,48.1 77.5,50 77.8,51.3 78.4,51.7 79.4,51.3 80.4,50 81.5,48.1Z" fill="#5c4c00"/>
<path d="M89.9,35.8 90.5,32.6 90.7,30 90.5,28.2 90,27.5 89.3,28.2 88.4,30 87.5,32.6 86.7,35.8 86.1,38.9 85.8,41.5 85.8,43.3 86.2,43.9 87,43.3 88,41.5 89,38.9Z" fill="#a84c00"/>
<path d="M68.6,2.1 68.5,1.2 68.1,0.5 67.4,0 66.7,-0.2 65.9,0 65.3,0.5 64.8,1.2 64.7,2.1 64.8,3 65.2,3.8 65.9,4.3 66.6,4.5 67.4,4.3 68,3.8 68.5,3Z" fill="#000000"/>
<path d="M60.9,13.9 60.9,12.1 60.8,10.5 60.6,9.5 60.3,9.2 60,9.5 59.6,10.5 59.4,12.1 59.2,13.9 59.2,15.6 59.3,17.2 59.5,18.2 59.8,18.5 60.1,18.2 60.4,17.2 60.7,15.6Z" fill="#000000"/>
<path d="M68.5,25.4 68.6,24 68.6,22.8 68.5,22 68.2,21.7 67.9,22 67.6,22.8 67.3,24 67.1,25.4 67,26.9 67,28.1 67.1,28.9 67.3,29.2 67.6,28.9 68,28.1 68.3,26.9Z" fill="#000000"/>
<path d="M-66.4,102.7 -66,102.7 -65.4,102.7 -64.6,102.7 -63.7,102.7 -62.5,102.7 -61.2,102.7 -59.7,102.7 -58.1,102.7 -56.2,102.7 -54.2,102.7 -52.1,102.7 -49.8,102.7 -47.4,102.7 -44.8,102.7 -42.1,102.7 -39.3,102.7 -36.4,102.7 -33.3,102.7 -36,99 -38.6,95 -41.1,90.8 -43.4,86.3 -45.6,81.6 -47.7,76.6 -49.7,71.4 -51.5,66 -53.2,60.5 -54.7,54.7 -56.1,48.8 -57.3,42.8 -58.4,36.7 -59.3,30.4 -60,24.1 -60.6,17.7 -60.9,11.2 -61.2,4.7 -61.2,-1.8 -61.1,-8.3 -60.8,-14.7 -60.3,-21.2 -59.6,-27.5 -65.1,-27.5 -70.3,-27.5 -75.3,-27.5 -80.1,-27.5 -84.7,-27.5 -89.1,-27.5 -93.2,-27.5 -97,-27.5 -100.6,-27.5 -103.9,-27.5 -106.8,-27.5 -109.5,-27.5 -111.9,-27.5 -113.9,-27.5 -115.6,-27.5 -117,-27.5 -118.1,-27.5 -118.8,-27.5 -120.1,-21.2 -121,-14.7 -121.7,-8.3 -121.9,-1.8 -121.8,4.7 -121.4,11.2 -120.7,17.7 -119.6,24.1 -118.1,30.4 -116.3,36.7 -114.2,42.8 -111.8,48.8 -109.1,54.7 -106,60.5 -102.7,66 -99,71.4 -95.1,76.6 -90.9,81.6 -86.5,86.3 -81.8,90.8 -76.9,95 -71.7,99Z" fill="#b24c00"/>
<path d="M-78.4,10.7 -80.9,0.9 -86.8,-7.4 -90.9,-10.2 -94.7,-13 -99.1,-13.9 -103,-14.9 -106.8,-13.9 -110.2,-13 -112.9,-10.2 -115.3,-7.4 -118,0.9 -118.3,10.7 -116.4,20.4 -112.4,28.5 -109.6,31.2 -106.5,33.9 -103.1,34.9 -99.3,35.8 -95.6,34.9 -91.5,33.9 -88.2,31.2 -84.6,28.5 -79.8,20.4Z" fill="#cc7300"/>
<path d="M-95.9,12.8 -97.3,7.1 -100.2,2.2 -104,-1 -108.1,-2.1 -111.7,-1 -114.3,2.2 -115.7,7.1 -115.8,12.8 -114.6,18.5 -112.2,23.2 -109,26.4 -105.3,27.5 -101.5,26.4 -98.4,23.2 -96.3,18.5Z" fill="#d98000"/>
<path d="M-72.1,17 -73,12.2 -74.9,8 -77.4,5.2 -80.3,4.3 -83,5.2 -85.1,8 -86.4,12.2 -86.5,17 -85.4,21.9 -83.4,26 -80.7,28.7 -77.9,29.6 -75.3,28.7 -73.3,26 -72.2,21.9Z" fill="#994c00"/>
<path d="M-69.8,12.8 -70.2,11.2 -71,9.8 -72.2,8.9 -73.5,8.5 -74.8,8.9 -75.8,9.8 -76.5,11.2 -76.6,12.8 -76.2,14.4 -75.4,15.8 -74.3,16.7 -72.9,17 -71.7,16.7 -70.6,15.8 -70,14.4Z" fill="#804c00"/>
<path d="M-77.6,31.7 -79.1,26.9 -81.6,22.8 -84.9,20.1 -88.4,19.1 -91.5,20.1 -93.8,22.8 -94.8,26.9 -94.4,31.7 -92.8,36.4 -90.1,40.3 -86.9,43 -83.6,43.9 -80.6,43 -78.5,40.3 -77.4,36.4Z" fill="#ad4c00"/>
<path d="M-79.8,51.7 -81.6,48 -84.3,44.8 -87.5,42.6 -90.6,41.9 -93.2,42.6 -94.7,44.8 -95,48 -94.1,51.7 -92.1,55.4 -89.4,58.5 -86.4,60.5 -83.5,61.2 -81.2,60.5 -79.6,58.5 -79.1,55.4Z" fill="#a34c00"/>
<path d="M-82.1,68.4 -84.7,64.3 -87.8,60.8 -91,58.3 -93.6,57.5 -95.3,58.3 -95.7,60.8 -94.8,64.3 -92.7,68.4 -89.8,72.5 -86.6,75.8 -83.6,77.9 -81.2,78.7 -79.8,77.9 -79.5,75.8 -80.3,72.5Z" fill="#804c00"/>
<path d="M-79.8,83.5 -83.8,78.6 -87.6,74.2 -90.5,71.3 -92.3,70.2 -92.6,71.3 -91.3,74.2 -88.6,78.6 -84.6,83.5 -80.2,88.1 -75.9,91.9 -72.6,94.3 -70.9,95.1 -71,94.3 -72.8,91.9 -75.9,88.1Z" fill="#4c4c00"/>
<path d="M-102.9,49.8 -105.3,43.7 -107.4,38.5 -108.9,35 -109.8,33.7 -110.1,35 -109.5,38.5 -108,43.7 -105.7,49.8 -103,55.7 -100.2,60.6 -98,63.8 -96.9,64.9 -97,63.8 -98.3,60.6 -100.4,55.7Z" fill="#1f4c00"/>
<path d="M-115.1,25.4 -116.1,20.6 -116.9,16.5 -117.6,13.8 -118.1,12.8 -118.4,13.8 -118.4,16.5 -117.9,20.6 -117.1,25.4 -116,30.2 -114.7,34.2 -113.6,36.9 -113,37.8 -112.9,36.9 -113.3,34.2 -114.1,30.2Z" fill="#4c4c00"/>
<path d="M-93.5,71.9 -97.1,66.6 -100,61.8 -101.9,58.6 -102.8,57.5 -102.5,58.6 -100.9,61.8 -98.3,66.6 -94.8,71.9 -90.9,77.1 -87.4,81.4 -84.8,84.1 -83.7,85 -84.4,84.1 -86.5,81.4 -89.8,77.1Z" fill="#4c4c00"/>
<path d="M-105,-17 -105.1,-19.5 -106.2,-21.5 -107.8,-22.9 -109.8,-23.4 -111.7,-22.9 -113.4,-21.5 -114.6,-19.5 -115.3,-17 -115.3,-14.6 -114.6,-12.5 -113.2,-11.2 -111.4,-10.7 -109.3,-11.2 -107.3,-12.5 -105.7,-14.6Z" fill="#734c00"/>
<path d="M-114.6,-10.7 -114.3,-15.5 -114.1,-19.7 -114.3,-22.4 -114.9,-23.4 -115.8,-22.4 -116.8,-19.7 -117.7,-15.5 -118.3,-10.7 -118.5,-5.8 -118.3,-1.6 -117.7,1.2 -117,2.1 -116.3,1.2 -115.6,-1.6 -115.1,-5.8Z" fill="#994c00"/>
<path d="M-90.6,41.9 -91.9,38.8 -93.6,36.1 -95.6,34.4 -97.5,33.7 -99.1,34.4 -100.1,36.1 -100.2,38.8 -99.6,41.9 -98.3,44.9 -96.5,47.5 -94.6,49.2 -92.7,49.8 -91.2,49.2 -90.3,47.5 -90.1,44.9Z" fill="#b24c00"/>
<path d="M-97.6,47.8 -98.9,44.8 -100.7,42.2 -102.4,40.5 -104,39.8 -105.1,40.5 -105.6,42.2 -105.4,44.8 -104.5,47.8 -103,50.8 -101.3,53.3 -99.5,55 -98,55.6 -97,55 -96.5,53.3 -96.7,50.8Z" fill="#9e4c00"/>
<path d="M-69.4,96.5 -71.3,94.9 -73.1,93.6 -74.5,92.7 -75.5,92.4 -75.6,92.7 -75.1,93.6 -73.8,94.9 -72.1,96.5 -70.1,97.9 -68.3,99.2 -66.8,100 -66,100.3 -65.8,100 -66.5,99.2 -67.7,97.9Z" fill="#594c00"/>
<path d="M-110.9,-51.7 -110.8,-51.7 -110.3,-51.7 -109.6,-51.7 -108.5,-51.7 -107.2,-51.7 -105.5,-51.7 -103.6,-51.7 -101.3,-51.7 -98.8,-51.7 -96.1,-51.7 -93.5,-57.7 -90.6,-63.5 -87.5,-69.1 -84.1,-74.5 -80.5,-79.7 -76.6,-84.6 -72.5,-89.3 -68.1,-93.8 -70.1,-93.8 -71.9,-93.8 -73.5,-93.8 -74.8,-93.8 -76,-93.8 -77,-93.8 -77.7,-93.8 -78.2,-93.8 -78.6,-93.8 -78.7,-93.8 -83.7,-89.3 -88.4,-84.6 -92.9,-79.7 -97.1,-74.5 -101,-69.1 -104.6,-63.5 -107.9,-57.7Z" fill="#804c00"/>
</g></g>
<use href="#speck"/>
<use href="#land" fill="none" stroke="#000" stroke-width="1.1" stroke-linejoin="round"/>
<use href="#nod" fill="none" stroke="#000" stroke-width="1.3" stroke-linejoin="round"/>
<path d="M-118.8,-27.4A121.9,121.9 0 0 1 -25.3,-119.2 M-19.0,120.0A121.5,121.5 0 0 1 -55.2,108.3" fill="none" stroke="#000" stroke-width="1.5"/>
<use href="#bord" fill="none" stroke="#000" stroke-width="0.8" stroke-linejoin="round"/>
</g>
<circle r="122.4" fill="none" stroke="#222" stroke-width="0.7"/>
</g>
<text transform="translate(129.1,295.9) scale(.968,1.03)" font-size="18.4" text-anchor="middle">NDVI</text>
<path d="M268.05,311.8 L273.75,300.90000000000003 L279.45,311.8 L279.45,535.3 L273.75,546.1999999999999 L268.05,535.3Z" fill="url(#jet1)" stroke="#222" stroke-width="0.7" stroke-linejoin="miter"/>
<path d="M279.45,535.30h3.6" stroke="#222" stroke-width="0.8"/>
<text transform="translate(285.1,538.25) scale(.94,1)" font-size="8.3">0.0</text>
<path d="M279.45,512.95h3.6" stroke="#222" stroke-width="0.8"/>
<text transform="translate(285.1,515.90) scale(.94,1)" font-size="8.3">0.1</text>
<path d="M279.45,490.60h3.6" stroke="#222" stroke-width="0.8"/>
<text transform="translate(285.1,493.55) scale(.94,1)" font-size="8.3">0.2</text>
<path d="M279.45,468.25h3.6" stroke="#222" stroke-width="0.8"/>
<text transform="translate(285.1,471.20) scale(.94,1)" font-size="8.3">0.3</text>
<path d="M279.45,445.90h3.6" stroke="#222" stroke-width="0.8"/>
<text transform="translate(285.1,448.85) scale(.94,1)" font-size="8.3">0.4</text>
<path d="M279.45,423.55h3.6" stroke="#222" stroke-width="0.8"/>
<text transform="translate(285.1,426.50) scale(.94,1)" font-size="8.3">0.5</text>
<path d="M279.45,401.20h3.6" stroke="#222" stroke-width="0.8"/>
<text transform="translate(285.1,404.15) scale(.94,1)" font-size="8.3">0.6</text>
<path d="M279.45,378.85h3.6" stroke="#222" stroke-width="0.8"/>
<text transform="translate(285.1,381.80) scale(.94,1)" font-size="8.3">0.7</text>
<path d="M279.45,356.50h3.6" stroke="#222" stroke-width="0.8"/>
<text transform="translate(285.1,359.45) scale(.94,1)" font-size="8.3">0.8</text>
<path d="M279.45,334.15h3.6" stroke="#222" stroke-width="0.8"/>
<text transform="translate(285.1,337.10) scale(.94,1)" font-size="8.3">0.9</text>
<path d="M279.45,311.80h3.6" stroke="#222" stroke-width="0.8"/>
<text transform="translate(285.1,314.75) scale(.94,1)" font-size="8.3">1.0</text>
<g transform="translate(429.0,423.0)">
<g clip-path="url(#cg)">
<circle r="123" fill="#2513a6"/>
<g clip-path="url(#cl)"><g filter="url(#fDHR)"><rect x="-130" y="-130" width="260" height="260" fill="#171f00"/>
<path d="M-20.6,-71.9 -15.4,-71.9 -10.1,-71.9 -4.8,-71.9 0.5,-71.9 5.8,-71.9 11,-71.9 16.3,-71.9 21.5,-71.9 26.6,-71.9 31.7,-71.9 36.7,-71.9 41.5,-71.9 46.3,-71.9 50.9,-71.9 55.4,-71.9 59.7,-71.9 63.8,-71.9 67.8,-71.9 71.6,-71.9 75.1,-71.9 78.5,-71.9 81.6,-71.9 84.5,-71.9 87.1,-71.9 89.5,-71.9 91.6,-71.9 93.5,-71.9 95.1,-71.9 96.5,-71.9 97.5,-71.9 93.7,-77 89.6,-81.9 85.2,-86.5 80.7,-91 75.9,-95.1 70.9,-99 65.7,-102.7 60.3,-106 54.7,-109.1 49,-111.8 43.2,-114.3 37.2,-116.4 31.2,-118.2 30.9,-118.2 30.4,-118.2 29.9,-118.2 29.3,-118.2 28.6,-118.2 27.9,-118.2 27,-118.2 26.1,-118.2 25.1,-118.2 24,-118.2 22.9,-118.2 21.7,-118.2 20.4,-118.2 19.1,-118.2 17.7,-118.2 16.3,-118.2 14.8,-118.2 13.3,-118.2 11.7,-118.2 10.1,-118.2 8.5,-118.2 6.9,-118.2 5.2,-118.2 3.5,-118.2 1.8,-118.2 0.1,-118.2 -1.5,-118.2 -3.2,-118.2 -4.9,-118.2 -6.6,-118.2 -7.9,-116.4 -9.1,-114.3 -10.4,-111.8 -11.6,-109.1 -12.7,-106 -13.9,-102.7 -15,-99 -16,-95.1 -17,-91 -18,-86.5 -18.9,-81.9 -19.8,-77Z" fill="#171f00"/>
<path d="M1.6,-78.7 1,-80.8 -0.7,-82.7 -3.2,-83.8 -6.2,-84.3 -9.2,-83.8 -11.8,-82.7 -13.8,-80.8 -14.7,-78.7 -14.3,-76.5 -12.7,-74.6 -10.1,-73.3 -6.9,-72.8 -3.6,-73.3 -0.8,-74.6 1,-76.5Z" fill="#241f00"/>
<path d="M62.4,-77 60.8,-78.6 57.9,-79.9 54.1,-80.8 49.9,-81.1 45.9,-80.8 42.6,-79.9 40.6,-78.6 40.2,-77 41.7,-75.4 44.8,-74.1 49,-73.1 53.6,-72.8 57.8,-73.1 60.9,-74.1 62.5,-75.4Z" fill="#2e1f00"/>
<path d="M68.4,-77 67.3,-78.3 65.7,-79.4 63.8,-80.1 61.8,-80.3 60.1,-80.1 58.9,-79.4 58.3,-78.3 58.6,-77 59.6,-75.8 61.3,-74.7 63.3,-73.9 65.4,-73.7 67.2,-73.9 68.4,-74.7 68.8,-75.8Z" fill="#331f00"/>
<path d="M70.8,-89.5 67.6,-92.3 63.8,-94.5 59.7,-95.9 56,-96.5 53,-95.9 51,-94.5 50.4,-92.3 51.4,-89.5 54.1,-86.7 58.2,-84.2 63,-82.5 67.6,-81.9 71.1,-82.5 72.8,-84.2 72.7,-86.7Z" fill="#2b1f00"/>
<path d="M84.6,-85 80.3,-89 75.8,-92.3 71.5,-94.4 68,-95.1 65.6,-94.4 64.6,-92.3 65.2,-89 67.4,-85 71.4,-80.8 76.4,-77.1 81.8,-74.6 86.3,-73.7 89.1,-74.6 89.6,-77.1 87.9,-80.8Z" fill="#3b1f00"/>
<path d="M94.3,-75.4 91.6,-78.5 88.8,-81.2 86.2,-82.9 84.1,-83.5 82.9,-82.9 82.6,-81.2 83.4,-78.5 85.2,-75.4 87.8,-72.1 91,-69.3 94,-67.3 96.5,-66.7 97.8,-67.3 97.8,-69.3 96.5,-72.1Z" fill="#361f00"/>
<path d="M-37.4,-19.1 -31.2,-19.1 -24.9,-19.1 -18.6,-19.1 -12.2,-19.1 -5.8,-19.1 0.7,-19.1 7.1,-19.1 13.5,-19.1 19.9,-19.1 26.2,-19.1 32.5,-19.1 38.6,-19.1 44.7,-19.1 50.6,-19.1 56.4,-19.1 62,-19.1 67.4,-19.1 72.7,-19.1 77.7,-19.1 77.4,-22.3 72.3,-22.3 67.1,-22.3 61.7,-22.3 56.1,-22.3 50.4,-22.3 44.5,-22.3 38.4,-22.3 32.3,-22.3 26.1,-22.3 19.8,-22.3 13.5,-22.3 7.1,-22.3 0.7,-22.3 -5.7,-22.3 -12.1,-22.3 -18.5,-22.3 -24.8,-22.3 -31,-22.3 -37.2,-22.3Z" fill="#1e1f00"/>
<path d="M-37.2,-22.3 -31,-22.3 -24.8,-22.3 -18.5,-22.3 -12.1,-22.3 -5.7,-22.3 0.7,-22.3 7.1,-22.3 13.5,-22.3 19.8,-22.3 26.1,-22.3 32.3,-22.3 38.4,-22.3 44.5,-22.3 50.4,-22.3 56.1,-22.3 61.7,-22.3 67.1,-22.3 72.3,-22.3 77.4,-22.3 77,-25.4 72,-25.4 66.8,-25.4 61.4,-25.4 55.8,-25.4 50.1,-25.4 44.2,-25.4 38.3,-25.4 32.2,-25.4 26,-25.4 19.7,-25.4 13.4,-25.4 7,-25.4 0.7,-25.4 -5.7,-25.4 -12.1,-25.4 -18.4,-25.4 -24.7,-25.4 -30.9,-25.4 -37,-25.4Z" fill="#2f1f00"/>
<path d="M-37,-25.4 -30.9,-25.4 -24.7,-25.4 -18.4,-25.4 -12.1,-25.4 -5.7,-25.4 0.7,-25.4 7,-25.4 13.4,-25.4 19.7,-25.4 26,-25.4 32.2,-25.4 38.3,-25.4 44.2,-25.4 50.1,-25.4 55.8,-25.4 61.4,-25.4 66.8,-25.4 72,-25.4 77,-25.4 76.5,-28.6 71.5,-28.6 66.4,-28.6 61,-28.6 55.5,-28.6 49.8,-28.6 44,-28.6 38,-28.6 32,-28.6 25.8,-28.6 19.6,-28.6 13.3,-28.6 7,-28.6 0.7,-28.6 -5.7,-28.6 -12,-28.6 -18.3,-28.6 -24.5,-28.6 -30.7,-28.6 -36.8,-28.6Z" fill="#481f00"/>
<path d="M-36.8,-28.6 -30.8,-28.6 -24.7,-28.6 -18.6,-28.6 -12.4,-28.6 -6.2,-28.6 0,-28.6 6.2,-28.6 12.4,-28.6 18.6,-28.6 24.7,-28.6 30.8,-28.6 36.8,-28.6 42.7,-28.6 48.4,-28.6 54,-28.6 59.5,-28.6 64.8,-28.6 70,-28.6 68.8,-35.8 67.4,-42.9 65.7,-49.8 63.8,-56.5 61.7,-63 57.1,-63 52.5,-63 47.6,-63 42.7,-63 37.6,-63 32.4,-63 27.2,-63 21.8,-63 16.4,-63 11,-63 5.5,-63 0,-63 -5.5,-63 -11,-63 -16.4,-63 -21.8,-63 -27.2,-63 -32.4,-63 -33.6,-56.5 -34.6,-49.8 -35.4,-42.9 -36.2,-35.8Z" fill="#6d6600"/>
<path d="M-18.2,-63 -12.8,-63 -7.3,-63 -1.8,-63 3.7,-63 9.1,-63 14.6,-63 20,-63 18.8,-72.8 13.7,-72.8 8.6,-72.8 3.4,-72.8 -1.7,-72.8 -6.9,-72.8 -12,-72.8 -17.1,-72.8Z" fill="#2f1f00"/>
<path d="M-3.6,-66.7 -4.1,-68.4 -5.6,-69.8 -7.8,-70.7 -10.4,-71.1 -13.1,-70.7 -15.4,-69.8 -17.1,-68.4 -17.8,-66.7 -17.5,-64.9 -16.1,-63.5 -13.8,-62.5 -11,-62.1 -8.2,-62.5 -5.8,-63.5 -4.2,-64.9Z" fill="#2d1f00"/>
<path d="M0,-69.3 -0.4,-70 -1.5,-70.6 -3.2,-70.9 -5.2,-71.1 -7.2,-70.9 -8.9,-70.6 -10.1,-70 -10.5,-69.3 -10.2,-68.7 -9.1,-68.1 -7.4,-67.7 -5.3,-67.6 -3.3,-67.7 -1.6,-68.1 -0.4,-68.7Z" fill="#251f00"/>
<path d="M45.8,-63.6 44.8,-64.6 42.5,-65.5 39.1,-66.1 35.2,-66.3 31.3,-66.1 28.1,-65.5 25.9,-64.6 25.3,-63.6 26.3,-62.5 28.7,-61.6 32.3,-61 36.3,-60.8 40.3,-61 43.4,-61.6 45.4,-62.5Z" fill="#591f00"/>
<path d="M58.3,-59.3 57.2,-61.5 55.3,-63.3 52.9,-64.4 50.3,-64.9 48,-64.4 46.2,-63.3 45.2,-61.5 45.2,-59.3 46.3,-57.2 48.2,-55.3 50.6,-54.1 53.3,-53.7 55.8,-54.1 57.6,-55.3 58.5,-57.2Z" fill="#631f00"/>
<path d="M21.3,-66.7 20.9,-68 20,-69.2 18.8,-69.9 17.4,-70.2 16.1,-69.9 15.1,-69.2 14.4,-68 14.3,-66.7 14.7,-65.3 15.6,-64.1 16.8,-63.3 18.2,-63 19.6,-63.3 20.6,-64.1 21.3,-65.3Z" fill="#4a1f00"/>
<path d="M-3,-40.9 -4.1,-43.3 -7,-45.4 -11.5,-46.8 -16.7,-47.2 -21.9,-46.8 -26.4,-45.4 -29.6,-43.3 -30.8,-40.9 -30,-38.4 -27.2,-36.3 -22.7,-34.9 -17.4,-34.4 -11.9,-34.9 -7.2,-36.3 -4.1,-38.4Z" fill="#947300"/>
<path d="M-20.6,-46.8 -20.8,-49.5 -21.9,-51.7 -23.6,-53.1 -25.7,-53.7 -27.9,-53.1 -29.9,-51.7 -31.4,-49.5 -32.1,-46.8 -32,-44.2 -31,-41.9 -29.2,-40.4 -27,-39.8 -24.7,-40.4 -22.7,-41.9 -21.2,-44.2Z" fill="#947300"/>
<path d="M3.9,-46.8 3.3,-48.3 1.6,-49.6 -0.9,-50.5 -3.9,-50.8 -6.9,-50.5 -9.4,-49.6 -11.2,-48.3 -11.8,-46.8 -11.3,-45.3 -9.6,-44 -7.1,-43.2 -4,-42.9 -0.9,-43.2 1.7,-44 3.4,-45.3Z" fill="#947300"/>
<path d="M14.6,-63 14.1,-64.3 12.8,-65.4 11,-66.1 9,-66.3 6.9,-66.1 5.2,-65.4 4,-64.3 3.7,-63 4.1,-61.8 5.3,-60.7 7.2,-60 9.3,-59.7 11.4,-60 13.2,-60.7 14.3,-61.8Z" fill="#947300"/>
<path d="M55.2,-52.7 54.1,-55.3 52.1,-57.4 49.6,-58.8 46.9,-59.3 44.5,-58.8 42.5,-57.4 41.5,-55.3 41.4,-52.7 42.4,-50.1 44.3,-47.9 46.9,-46.4 49.7,-45.9 52.4,-46.4 54.3,-47.9 55.3,-50.1Z" fill="#947300"/>
<path d="M62.6,-41.9 62,-43.4 60.6,-44.7 58.8,-45.6 56.7,-45.9 54.8,-45.6 53.3,-44.7 52.4,-43.4 52.2,-41.9 52.9,-40.3 54.2,-39 56.1,-38.1 58.2,-37.8 60.2,-38.1 61.7,-39 62.6,-40.3Z" fill="#947300"/>
<path d="M33.1,-37.8 32.1,-40.1 29.8,-42.1 26.5,-43.4 22.8,-43.9 19.1,-43.4 15.9,-42.1 13.9,-40.1 13.2,-37.8 14,-35.5 16.3,-33.5 19.7,-32.2 23.6,-31.7 27.4,-32.2 30.5,-33.5 32.5,-35.5Z" fill="#9c6600"/>
<path d="M29.1,-37.8 28.7,-39 27.5,-40 25.9,-40.6 24,-40.9 22.1,-40.6 20.6,-40 19.5,-39 19.2,-37.8 19.7,-36.7 20.8,-35.7 22.5,-35 24.4,-34.8 26.3,-35 27.9,-35.7 28.9,-36.7Z" fill="#a86600"/>
<path d="M-10.1,-40.9 -10.5,-42 -11.7,-43 -13.6,-43.6 -15.9,-43.9 -18.2,-43.6 -20.1,-43 -21.5,-42 -22,-40.9 -21.6,-39.7 -20.4,-38.7 -18.5,-38.1 -16.2,-37.8 -13.9,-38.1 -11.9,-38.7 -10.6,-39.7Z" fill="#9e6600"/>
<path d="M17.3,-52.7 16.6,-54.3 14.8,-55.7 12.3,-56.6 9.4,-56.9 6.6,-56.6 4.1,-55.7 2.5,-54.3 1.9,-52.7 2.5,-51.1 4.2,-49.7 6.8,-48.7 9.8,-48.4 12.8,-48.7 15.2,-49.7 16.8,-51.1Z" fill="#4a8000"/>
<path d="M36.2,-56.5 35.8,-57.6 34.8,-58.5 33.6,-59.1 32.2,-59.3 30.9,-59.1 29.8,-58.5 29.1,-57.6 29,-56.5 29.4,-55.4 30.4,-54.5 31.6,-53.9 33.1,-53.7 34.4,-53.9 35.5,-54.5 36.2,-55.4Z" fill="#3e1f00"/>
<path d="M36.6,-43.9 36.2,-45 35.2,-46 33.7,-46.6 32.1,-46.8 30.5,-46.6 29.3,-46 28.4,-45 28.2,-43.9 28.7,-42.7 29.7,-41.7 31.1,-41.1 32.8,-40.9 34.4,-41.1 35.7,-41.7 36.5,-42.7Z" fill="#3e1f00"/>
<path d="M54,-28.6 53.4,-30.2 52.1,-31.5 50.2,-32.4 48,-32.7 45.8,-32.4 44.1,-31.5 43,-30.2 42.7,-28.6 43.2,-27 44.6,-25.6 46.6,-24.7 48.8,-24.4 50.9,-24.7 52.7,-25.6 53.8,-27Z" fill="#361f00"/>
<path d="M69.2,-33.7 68.2,-35.7 66.1,-37.4 63.1,-38.5 59.8,-38.8 56.5,-38.5 53.8,-37.4 52,-35.7 51.6,-33.7 52.5,-31.8 54.7,-30.1 57.8,-29 61.3,-28.6 64.6,-29 67.3,-30.1 68.8,-31.8Z" fill="#521f00"/>
<path d="M9.5,-55.6 9,-56.7 7.8,-57.6 5.9,-58.2 3.8,-58.4 1.6,-58.2 -0.2,-57.6 -1.5,-56.7 -1.9,-55.6 -1.5,-54.5 -0.2,-53.5 1.6,-52.9 3.9,-52.7 6.1,-52.9 7.9,-53.5 9.1,-54.5Z" fill="#521f00"/>
<path d="M39.1,-55.6 38,-57.7 35.8,-59.6 32.7,-60.8 29.2,-61.2 25.9,-60.8 23.1,-59.6 21.3,-57.7 20.8,-55.6 21.7,-53.4 24,-51.5 27.2,-50.2 30.8,-49.8 34.3,-50.2 37.1,-51.5 38.8,-53.4Z" fill="#591f00"/>
<path d="M41,-43.9 40.3,-45.4 38.9,-46.7 37,-47.5 34.8,-47.8 32.7,-47.5 31,-46.7 29.9,-45.4 29.6,-43.9 30.2,-42.3 31.6,-41 33.5,-40.2 35.8,-39.8 37.9,-40.2 39.7,-41 40.7,-42.3Z" fill="#521f00"/>
<path d="M70.4,-35.8 69.6,-38.1 68.2,-40.1 66.3,-41.4 64.3,-41.9 62.5,-41.4 61.1,-40.1 60.3,-38.1 60.3,-35.8 61,-33.4 62.5,-31.4 64.4,-30.1 66.4,-29.6 68.3,-30.1 69.7,-31.4 70.5,-33.4Z" fill="#431f00"/>
<path d="M69.6,-43.9 68.8,-46.1 67.8,-48.1 66.7,-49.3 65.7,-49.8 64.9,-49.3 64.5,-48.1 64.4,-46.1 64.7,-43.9 65.4,-41.6 66.3,-39.6 67.4,-38.3 68.4,-37.8 69.3,-38.3 69.8,-39.6 69.9,-41.6Z" fill="#4a1f00"/>
<path d="M89.3,-49.8 86.3,-55.7 82.3,-60.6 77.7,-63.8 73.4,-64.9 69.8,-63.8 67.4,-60.6 66.5,-55.7 67.3,-49.8 69.8,-43.7 73.7,-38.5 78.4,-35 83.2,-33.7 87.2,-35 89.8,-38.5 90.6,-43.7Z" fill="#656600"/>
<path d="M92.4,-43.9 91.1,-46.5 88.8,-48.8 85.9,-50.2 82.8,-50.8 79.9,-50.2 77.6,-48.8 76.4,-46.5 76.5,-43.9 77.8,-41.2 80.3,-38.9 83.4,-37.3 86.8,-36.8 89.7,-37.3 91.8,-38.9 92.7,-41.2Z" fill="#816600"/>
<path d="M75,-61.2 73.3,-64 70.8,-66.4 68,-67.9 65.2,-68.4 62.8,-67.9 61.1,-66.4 60.4,-64 60.8,-61.2 62.3,-58.3 64.7,-55.9 67.7,-54.2 70.7,-53.7 73.3,-54.2 75,-55.9 75.6,-58.3Z" fill="#5e1f00"/>
<path d="M77.7,-68.4 76.2,-70.5 73.8,-72.2 70.9,-73.3 67.9,-73.7 65.2,-73.3 63.2,-72.2 62.2,-70.5 62.5,-68.4 63.9,-66.4 66.5,-64.6 69.6,-63.5 72.9,-63 75.7,-63.5 77.5,-64.6 78.2,-66.4Z" fill="#3e1f00"/>
<path d="M93.3,-64.9 90.3,-69 86.4,-72.4 82.1,-74.6 78,-75.4 74.5,-74.6 72.1,-72.4 71.2,-69 72.1,-64.9 74.9,-60.7 79.1,-57 84.2,-54.5 89,-53.7 92.8,-54.5 94.8,-57 94.9,-60.7Z" fill="#3e1f00"/>
<path d="M101.8,-59.3 99.5,-62.9 96.8,-65.8 93.9,-67.8 91.2,-68.4 89.1,-67.8 87.8,-65.8 87.7,-62.9 88.8,-59.3 91,-55.7 94.1,-52.6 97.4,-50.5 100.5,-49.8 102.7,-50.5 103.6,-52.6 103.3,-55.7Z" fill="#401f00"/>
<path d="M98.1,-44.9 97,-47.5 95.5,-49.7 93.9,-51.2 92.5,-51.7 91.5,-51.2 90.9,-49.7 90.9,-47.5 91.5,-44.9 92.6,-42.2 94.1,-39.9 95.6,-38.4 97.1,-37.8 98.2,-38.4 98.8,-39.9 98.8,-42.2Z" fill="#681f00"/>
<path d="M85.8,-31.7 85,-34 83.8,-36 82.4,-37.4 80.9,-37.8 79.6,-37.4 78.6,-36 78.2,-34 78.3,-31.7 79,-29.3 80.2,-27.3 81.6,-25.9 83.2,-25.4 84.5,-25.9 85.5,-27.3 85.9,-29.3Z" fill="#431f00"/>
<path d="M96.8,-36.8 95.9,-38.5 94.2,-40 92,-40.9 89.6,-41.3 87.2,-40.9 85.2,-40 84.1,-38.5 84,-36.8 84.9,-35.1 86.7,-33.6 89.1,-32.6 91.8,-32.3 94.1,-32.6 95.9,-33.6 96.8,-35.1Z" fill="#681f00"/>
<path d="M89.7,-35.8 89.1,-37 88,-37.9 86.5,-38.6 84.9,-38.8 83.3,-38.6 82.1,-37.9 81.4,-37 81.3,-35.8 81.9,-34.6 83,-33.6 84.6,-32.9 86.3,-32.7 87.8,-32.9 89,-33.6 89.6,-34.6Z" fill="#5e1f00"/>
<path d="M108.1,-51.7 105.8,-56.1 103.4,-59.8 101.3,-62.2 99.8,-63 99.1,-62.2 99.3,-59.8 100.4,-56.1 102.1,-51.7 104.2,-47.2 106.5,-43.4 108.5,-40.8 110.1,-39.8 110.9,-40.8 110.8,-43.4 109.9,-47.2Z" fill="#361f00"/>
<path d="M115.3,-35.8 113.1,-42 110.8,-47.1 108.8,-50.5 107.6,-51.7 107.4,-50.5 108.1,-47.1 109.5,-42 111.3,-35.8 113.2,-29.5 114.9,-24.1 116.3,-20.4 117.3,-19.1 117.8,-20.4 117.7,-24.1 116.9,-29.5Z" fill="#231f00"/>
<path d="M94.5,-13.9 93.6,-17.9 91.7,-21.3 89.1,-23.6 86.3,-24.4 83.6,-23.6 81.4,-21.3 80,-17.9 79.8,-13.9 80.7,-9.8 82.5,-6.3 85.1,-4 88,-3.2 90.8,-4 93,-6.3 94.3,-9.8Z" fill="#4d1f00"/>
<path d="M95,-21.3 94.4,-22.9 93.2,-24.2 91.6,-25.1 89.7,-25.4 87.8,-25.1 86.3,-24.2 85.4,-22.9 85.2,-21.3 85.8,-19.6 87.1,-18.3 88.8,-17.4 90.8,-17 92.6,-17.4 94,-18.3 94.9,-19.6Z" fill="#631f00"/>
<path d="M92.9,-7.5 92.5,-9.9 91.6,-12 90.4,-13.4 88.9,-13.9 87.6,-13.4 86.5,-12 85.8,-9.9 85.6,-7.5 86,-5 86.9,-2.9 88.1,-1.6 89.5,-1.1 90.9,-1.6 92,-2.9 92.7,-5Z" fill="#541f00"/>
<path d="M81.7,-19.1 80.8,-22.8 79.2,-25.8 77.2,-27.9 74.9,-28.6 72.8,-27.9 71.2,-25.8 70.3,-22.8 70.2,-19.1 71,-15.5 72.5,-12.4 74.5,-10.3 76.8,-9.6 78.9,-10.3 80.6,-12.4 81.6,-15.5Z" fill="#1e1f00"/>
<path d="M82.6,-4.3 82.2,-7.5 81,-10.3 79.3,-12.1 77.4,-12.8 75.6,-12.1 74,-10.3 73.1,-7.5 72.8,-4.3 73.2,-1 74.3,1.8 75.9,3.6 77.8,4.3 79.7,3.6 81.3,1.8 82.3,-1Z" fill="#311f00"/>
<path d="M83.2,-25.4 82.6,-27.8 81.6,-29.9 80.4,-31.2 79.1,-31.7 78,-31.2 77.2,-29.9 76.9,-27.8 77,-25.4 77.5,-23 78.5,-21 79.6,-19.6 80.9,-19.1 82,-19.6 82.9,-21 83.3,-23Z" fill="#4a1f00"/>
<path d="M74.4,-31.7 73.9,-33.3 73,-34.6 71.7,-35.5 70.4,-35.8 69.2,-35.5 68.3,-34.6 67.8,-33.3 67.8,-31.7 68.3,-30.1 69.2,-28.8 70.5,-27.9 71.8,-27.5 73,-27.9 73.9,-28.8 74.4,-30.1Z" fill="#311f00"/>
<path d="M16.8,19.1 23.3,19.1 29.8,19.1 36.1,19.1 42.3,19.1 48.4,19.1 54.4,19.1 60.2,19.1 65.8,19.1 66.3,12.6 66.6,6.1 66.7,-0.5 66.6,-7.1 66.2,-13.7 65.7,-20.2 60.1,-20.2 54.3,-20.2 48.4,-20.2 42.3,-20.2 36.1,-20.2 29.7,-20.2 23.3,-20.2 16.8,-20.2 16.9,-13.7 17,-7.1 17,-0.5 17,6.1 16.9,12.6Z" fill="#161f00"/>
<path d="M-27.5,-8.5 -20.6,-8.5 -13.7,-8.5 -6.7,-8.5 0.3,-8.5 7.3,-8.5 14.3,-8.5 21.2,-8.5 21,-20.2 14.1,-20.2 7.2,-20.2 0.3,-20.2 -6.6,-20.2 -13.5,-20.2 -20.4,-20.2 -27.2,-20.2Z" fill="#1b1f00"/>
<path d="M76.7,10.7 76.4,5.8 75.1,1.6 72.9,-1.2 70.2,-2.1 67.5,-1.2 65.2,1.6 63.5,5.8 62.8,10.7 63.1,15.5 64.3,19.7 66.4,22.4 68.9,23.4 71.6,22.4 74.1,19.7 75.9,15.5Z" fill="#201f00"/>
<path d="M-16.7,-22.3 -17.3,-23.9 -19.1,-25.3 -21.7,-26.2 -24.8,-26.5 -28,-26.2 -30.7,-25.3 -32.5,-23.9 -33.2,-22.3 -32.6,-20.7 -30.9,-19.3 -28.3,-18.4 -25.2,-18.1 -22,-18.4 -19.3,-19.3 -17.4,-20.7Z" fill="#1d1f00"/>
<path d="M70.1,37.8 69.7,31.6 66,26.2 59.4,22.5 50.9,21.3 42,22.5 34,26.2 28.4,31.6 26.2,37.8 27.5,44 31.9,49.1 38.6,52.5 46.5,53.7 54.6,52.5 61.9,49.1 67.3,44Z" fill="#181f00"/>
<path d="M58.3,59.3 58.4,55.7 56.3,52.6 52.4,50.5 47.3,49.8 41.7,50.5 36.6,52.6 33,55.7 31.3,59.3 31.8,62.9 34.2,65.8 38.1,67.8 42.9,68.4 47.9,67.8 52.6,65.8 56.3,62.9Z" fill="#1f1f00"/>
<path d="M44,47.8 44,43.3 42.5,39.4 39.8,36.7 36.2,35.8 32.4,36.7 28.9,39.4 26.5,43.3 25.3,47.8 25.6,52.3 27.2,56 29.8,58.5 33.1,59.3 36.6,58.5 39.9,56 42.6,52.3Z" fill="#311f00"/>
<path d="M77.9,17 78,13.8 77.6,11 76.9,9.2 76,8.5 75,9.2 74.1,11 73.4,13.8 72.9,17 72.8,20.3 73.1,23 73.7,24.8 74.5,25.4 75.5,24.8 76.6,23 77.4,20.3Z" fill="#311f00"/>
<path d="M75.6,33.7 75.7,31.4 75,29.4 73.6,28 71.8,27.5 69.8,28 67.9,29.4 66.5,31.4 65.8,33.7 65.8,36.1 66.5,38.1 67.9,39.4 69.6,39.8 71.6,39.4 73.4,38.1 74.8,36.1Z" fill="#221f00"/>
<path d="M48.1,61.2 48,59.1 46.6,57.2 44.1,56 40.9,55.6 37.4,56 34.3,57.2 32,59.1 31,61.2 31.3,63.3 32.8,65.1 35.3,66.3 38.5,66.7 41.7,66.3 44.7,65.1 46.9,63.3Z" fill="#2d1f00"/>
<path d="M31.1,43.9 31.4,37.7 31.1,32.4 30.2,28.8 28.9,27.5 27.4,28.8 26,32.4 24.9,37.7 24.1,43.9 23.9,49.9 24.1,54.9 24.8,58.2 25.9,59.3 27.3,58.2 28.8,54.9 30.2,49.9Z" fill="#451f00"/>
<path d="M52.8,43.9 52.6,42.3 51.7,41 50,40.2 48,39.8 45.8,40.2 43.9,41 42.5,42.3 41.9,43.9 42.1,45.4 43.1,46.7 44.7,47.5 46.7,47.8 48.8,47.5 50.7,46.7 52.1,45.4Z" fill="#311f00"/>
<path d="M83,45.9 83.4,43.6 83.4,41.6 82.8,40.3 81.8,39.8 80.6,40.3 79.4,41.6 78.2,43.6 77.4,45.9 77,48.1 77,50 77.5,51.3 78.4,51.7 79.6,51.3 80.9,50 82.1,48.1Z" fill="#251f00"/>
<path d="M58.9,57.5 59.3,54.6 58.9,52.1 57.7,50.4 55.9,49.8 53.8,50.4 51.8,52.1 50.1,54.6 49.1,57.5 48.7,60.3 49.1,62.7 50.3,64.3 51.9,64.9 53.9,64.3 55.9,62.7 57.6,60.3Z" fill="#1f1f00"/>
<path d="M-66.4,102.7 -66,102.7 -65.4,102.7 -64.6,102.7 -63.7,102.7 -62.5,102.7 -61.2,102.7 -59.7,102.7 -58.1,102.7 -56.2,102.7 -54.2,102.7 -52.1,102.7 -49.8,102.7 -47.4,102.7 -44.8,102.7 -42.1,102.7 -39.3,102.7 -36.4,102.7 -33.3,102.7 -36,99 -38.6,95 -41.1,90.8 -43.4,86.3 -45.6,81.6 -47.7,76.6 -49.7,71.4 -51.5,66 -53.2,60.5 -54.7,54.7 -56.1,48.8 -57.3,42.8 -58.4,36.7 -59.3,30.4 -60,24.1 -60.6,17.7 -60.9,11.2 -61.2,4.7 -61.2,-1.8 -61.1,-8.3 -60.8,-14.7 -60.3,-21.2 -59.6,-27.5 -65.1,-27.5 -70.3,-27.5 -75.3,-27.5 -80.1,-27.5 -84.7,-27.5 -89.1,-27.5 -93.2,-27.5 -97,-27.5 -100.6,-27.5 -103.9,-27.5 -106.8,-27.5 -109.5,-27.5 -111.9,-27.5 -113.9,-27.5 -115.6,-27.5 -117,-27.5 -118.1,-27.5 -118.8,-27.5 -120.1,-21.2 -121,-14.7 -121.7,-8.3 -121.9,-1.8 -121.8,4.7 -121.4,11.2 -120.7,17.7 -119.6,24.1 -118.1,30.4 -116.3,36.7 -114.2,42.8 -111.8,48.8 -109.1,54.7 -106,60.5 -102.7,66 -99,71.4 -95.1,76.6 -90.9,81.6 -86.5,86.3 -81.8,90.8 -76.9,95 -71.7,99Z" fill="#161f00"/>
<path d="M-90.7,8.5 -92.5,1.2 -96.5,-5 -101.9,-9.2 -107.7,-10.7 -112.6,-9.2 -116.2,-5 -118.2,1.2 -118.5,8.5 -117.2,15.9 -114.4,22 -110.4,26.1 -105.3,27.5 -99.9,26.1 -95,22 -91.7,15.9Z" fill="#121f00"/>
<path d="M-109.3,29.6 -110.8,23.2 -112.2,17.8 -113.4,14.1 -114.4,12.8 -115.1,14.1 -115.3,17.8 -114.8,23.2 -113.6,29.6 -111.8,35.9 -109.7,41.2 -107.9,44.6 -106.6,45.9 -106.3,44.6 -106.8,41.2 -107.9,35.9Z" fill="#0b1f00"/>
<path d="M-103.9,45.9 -105.6,41.3 -107.3,37.3 -108.6,34.7 -109.5,33.7 -109.8,34.7 -109.6,37.3 -108.6,41.3 -107.1,45.9 -105.2,50.4 -103.2,54.1 -101.5,56.6 -100.6,57.5 -100.4,56.6 -101,54.1 -102.3,50.4Z" fill="#401f00"/>
<path d="M-81.8,81.9 -86.7,75.6 -91.1,70.1 -94.4,66.2 -96.2,64.9 -96.4,66.2 -94.8,70.1 -91.4,75.6 -86.5,81.9 -81,87.8 -75.7,92.5 -71.8,95.4 -69.9,96.5 -70.3,95.4 -72.8,92.5 -76.9,87.8Z" fill="#2a1f00"/>
<path d="M-71.2,17 -72.1,13 -73.7,9.5 -76,7.2 -78.6,6.4 -81,7.2 -83,9.5 -84.1,13 -84.2,17 -83.3,21.1 -81.5,24.5 -79.2,26.7 -76.7,27.5 -74.3,26.7 -72.5,24.5 -71.4,21.1Z" fill="#1e1f00"/>
<path d="M-115.9,21.3 -116.7,16.4 -117.4,12.3 -118,9.5 -118.5,8.5 -118.8,9.5 -118.9,12.3 -118.6,16.4 -117.9,21.3 -116.9,26.1 -115.8,30.1 -114.8,32.8 -114.2,33.7 -114,32.8 -114.4,30.1 -115,26.1Z" fill="#311f00"/>
<path d="M-88.9,66.7 -91.4,62.5 -94,58.9 -96.3,56.4 -98,55.6 -98.9,56.4 -98.6,58.9 -97.4,62.5 -95.2,66.7 -92.4,70.7 -89.6,74.1 -87.1,76.3 -85.5,77 -84.9,76.3 -85.4,74.1 -86.8,70.7Z" fill="#1e1f00"/>
<path d="M-110.9,-51.7 -110.8,-51.7 -110.3,-51.7 -109.6,-51.7 -108.5,-51.7 -107.2,-51.7 -105.5,-51.7 -103.6,-51.7 -101.3,-51.7 -98.8,-51.7 -96.1,-51.7 -93.5,-57.7 -90.6,-63.5 -87.5,-69.1 -84.1,-74.5 -80.5,-79.7 -76.6,-84.6 -72.5,-89.3 -68.1,-93.8 -70.1,-93.8 -71.9,-93.8 -73.5,-93.8 -74.8,-93.8 -76,-93.8 -77,-93.8 -77.7,-93.8 -78.2,-93.8 -78.6,-93.8 -78.7,-93.8 -83.7,-89.3 -88.4,-84.6 -92.9,-79.7 -97.1,-74.5 -101,-69.1 -104.6,-63.5 -107.9,-57.7Z" fill="#1b1f00"/>
</g></g>
<use href="#speck"/>
<use href="#land" fill="none" stroke="#000" stroke-width="1.1" stroke-linejoin="round"/>
<use href="#nod" fill="none" stroke="#000" stroke-width="1.3" stroke-linejoin="round"/>
<path d="M-118.8,-27.4A121.9,121.9 0 0 1 -25.3,-119.2 M-19.0,120.0A121.5,121.5 0 0 1 -55.2,108.3" fill="none" stroke="#000" stroke-width="1.5"/>
<use href="#bord" fill="none" stroke="#000" stroke-width="0.8" stroke-linejoin="round"/>
</g>
<circle r="122.4" fill="none" stroke="#222" stroke-width="0.7"/>
</g>
<text transform="translate(429.6,295.9) scale(.968,1.03)" font-size="18.4" text-anchor="middle">DHR</text>
<path d="M568.1,311.8 L573.8000000000001,300.90000000000003 L579.5,311.8 L579.5,535.3 L573.8000000000001,546.1999999999999 L568.1,535.3Z" fill="url(#jet1)" stroke="#222" stroke-width="0.7" stroke-linejoin="miter"/>
<path d="M579.5,535.30h3.6" stroke="#222" stroke-width="0.8"/>
<text transform="translate(585.2,538.25) scale(.94,1)" font-size="8.3">0.0</text>
<path d="M579.5,512.95h3.6" stroke="#222" stroke-width="0.8"/>
<text transform="translate(585.2,515.90) scale(.94,1)" font-size="8.3">0.1</text>
<path d="M579.5,490.60h3.6" stroke="#222" stroke-width="0.8"/>
<text transform="translate(585.2,493.55) scale(.94,1)" font-size="8.3">0.2</text>
<path d="M579.5,468.25h3.6" stroke="#222" stroke-width="0.8"/>
<text transform="translate(585.2,471.20) scale(.94,1)" font-size="8.3">0.3</text>
<path d="M579.5,445.90h3.6" stroke="#222" stroke-width="0.8"/>
<text transform="translate(585.2,448.85) scale(.94,1)" font-size="8.3">0.4</text>
<path d="M579.5,423.55h3.6" stroke="#222" stroke-width="0.8"/>
<text transform="translate(585.2,426.50) scale(.94,1)" font-size="8.3">0.5</text>
<path d="M579.5,401.20h3.6" stroke="#222" stroke-width="0.8"/>
<text transform="translate(585.2,404.15) scale(.94,1)" font-size="8.3">0.6</text>
<path d="M579.5,378.85h3.6" stroke="#222" stroke-width="0.8"/>
<text transform="translate(585.2,381.80) scale(.94,1)" font-size="8.3">0.7</text>
<path d="M579.5,356.50h3.6" stroke="#222" stroke-width="0.8"/>
<text transform="translate(585.2,359.45) scale(.94,1)" font-size="8.3">0.8</text>
<path d="M579.5,334.15h3.6" stroke="#222" stroke-width="0.8"/>
<text transform="translate(585.2,337.10) scale(.94,1)" font-size="8.3">0.9</text>
<path d="M579.5,311.80h3.6" stroke="#222" stroke-width="0.8"/>
<text transform="translate(585.2,314.75) scale(.94,1)" font-size="8.3">1.0</text>
<g transform="translate(729.85,423.0)">
<g clip-path="url(#cg)">
<circle r="123" fill="#2a18be"/>
<g clip-path="url(#cl)"><g filter="url(#fBHR_ISO)"><rect x="-130" y="-130" width="260" height="260" fill="#1a1f00"/>
<path d="M-20.6,-71.9 -15.4,-71.9 -10.1,-71.9 -4.8,-71.9 0.5,-71.9 5.8,-71.9 11,-71.9 16.3,-71.9 21.5,-71.9 26.6,-71.9 31.7,-71.9 36.7,-71.9 41.5,-71.9 46.3,-71.9 50.9,-71.9 55.4,-71.9 59.7,-71.9 63.8,-71.9 67.8,-71.9 71.6,-71.9 75.1,-71.9 78.5,-71.9 81.6,-71.9 84.5,-71.9 87.1,-71.9 89.5,-71.9 91.6,-71.9 93.5,-71.9 95.1,-71.9 96.5,-71.9 97.5,-71.9 93.7,-77 89.6,-81.9 85.2,-86.5 80.7,-91 75.9,-95.1 70.9,-99 65.7,-102.7 60.3,-106 54.7,-109.1 49,-111.8 43.2,-114.3 37.2,-116.4 31.2,-118.2 30.9,-118.2 30.4,-118.2 29.9,-118.2 29.3,-118.2 28.6,-118.2 27.9,-118.2 27,-118.2 26.1,-118.2 25.1,-118.2 24,-118.2 22.9,-118.2 21.7,-118.2 20.4,-118.2 19.1,-118.2 17.7,-118.2 16.3,-118.2 14.8,-118.2 13.3,-118.2 11.7,-118.2 10.1,-118.2 8.5,-118.2 6.9,-118.2 5.2,-118.2 3.5,-118.2 1.8,-118.2 0.1,-118.2 -1.5,-118.2 -3.2,-118.2 -4.9,-118.2 -6.6,-118.2 -7.9,-116.4 -9.1,-114.3 -10.4,-111.8 -11.6,-109.1 -12.7,-106 -13.9,-102.7 -15,-99 -16,-95.1 -17,-91 -18,-86.5 -18.9,-81.9 -19.8,-77Z" fill="#1a1f00"/>
<path d="M1.6,-78.7 1,-80.8 -0.7,-82.7 -3.2,-83.8 -6.2,-84.3 -9.2,-83.8 -11.8,-82.7 -13.8,-80.8 -14.7,-78.7 -14.3,-76.5 -12.7,-74.6 -10.1,-73.3 -6.9,-72.8 -3.6,-73.3 -0.8,-74.6 1,-76.5Z" fill="#261f00"/>
<path d="M62.4,-77 60.8,-78.6 57.9,-79.9 54.1,-80.8 49.9,-81.1 45.9,-80.8 42.6,-79.9 40.6,-78.6 40.2,-77 41.7,-75.4 44.8,-74.1 49,-73.1 53.6,-72.8 57.8,-73.1 60.9,-74.1 62.5,-75.4Z" fill="#301f00"/>
<path d="M68.4,-77 67.3,-78.3 65.7,-79.4 63.8,-80.1 61.8,-80.3 60.1,-80.1 58.9,-79.4 58.3,-78.3 58.6,-77 59.6,-75.8 61.3,-74.7 63.3,-73.9 65.4,-73.7 67.2,-73.9 68.4,-74.7 68.8,-75.8Z" fill="#361f00"/>
<path d="M70.8,-89.5 67.6,-92.3 63.8,-94.5 59.7,-95.9 56,-96.5 53,-95.9 51,-94.5 50.4,-92.3 51.4,-89.5 54.1,-86.7 58.2,-84.2 63,-82.5 67.6,-81.9 71.1,-82.5 72.8,-84.2 72.7,-86.7Z" fill="#2e1f00"/>
<path d="M84.6,-85 80.3,-89 75.8,-92.3 71.5,-94.4 68,-95.1 65.6,-94.4 64.6,-92.3 65.2,-89 67.4,-85 71.4,-80.8 76.4,-77.1 81.8,-74.6 86.3,-73.7 89.1,-74.6 89.6,-77.1 87.9,-80.8Z" fill="#3d1f00"/>
<path d="M94.3,-75.4 91.6,-78.5 88.8,-81.2 86.2,-82.9 84.1,-83.5 82.9,-82.9 82.6,-81.2 83.4,-78.5 85.2,-75.4 87.8,-72.1 91,-69.3 94,-67.3 96.5,-66.7 97.8,-67.3 97.8,-69.3 96.5,-72.1Z" fill="#381f00"/>
<path d="M-37.4,-19.1 -31.2,-19.1 -24.9,-19.1 -18.6,-19.1 -12.2,-19.1 -5.8,-19.1 0.7,-19.1 7.1,-19.1 13.5,-19.1 19.9,-19.1 26.2,-19.1 32.5,-19.1 38.6,-19.1 44.7,-19.1 50.6,-19.1 56.4,-19.1 62,-19.1 67.4,-19.1 72.7,-19.1 77.7,-19.1 77.4,-22.3 72.3,-22.3 67.1,-22.3 61.7,-22.3 56.1,-22.3 50.4,-22.3 44.5,-22.3 38.4,-22.3 32.3,-22.3 26.1,-22.3 19.8,-22.3 13.5,-22.3 7.1,-22.3 0.7,-22.3 -5.7,-22.3 -12.1,-22.3 -18.5,-22.3 -24.8,-22.3 -31,-22.3 -37.2,-22.3Z" fill="#1f1f00"/>
<path d="M-37.2,-22.3 -31,-22.3 -24.8,-22.3 -18.5,-22.3 -12.1,-22.3 -5.7,-22.3 0.7,-22.3 7.1,-22.3 13.5,-22.3 19.8,-22.3 26.1,-22.3 32.3,-22.3 38.4,-22.3 44.5,-22.3 50.4,-22.3 56.1,-22.3 61.7,-22.3 67.1,-22.3 72.3,-22.3 77.4,-22.3 77,-25.4 72,-25.4 66.8,-25.4 61.4,-25.4 55.8,-25.4 50.1,-25.4 44.2,-25.4 38.3,-25.4 32.2,-25.4 26,-25.4 19.7,-25.4 13.4,-25.4 7,-25.4 0.7,-25.4 -5.7,-25.4 -12.1,-25.4 -18.4,-25.4 -24.7,-25.4 -30.9,-25.4 -37,-25.4Z" fill="#301f00"/>
<path d="M-37,-25.4 -30.9,-25.4 -24.7,-25.4 -18.4,-25.4 -12.1,-25.4 -5.7,-25.4 0.7,-25.4 7,-25.4 13.4,-25.4 19.7,-25.4 26,-25.4 32.2,-25.4 38.3,-25.4 44.2,-25.4 50.1,-25.4 55.8,-25.4 61.4,-25.4 66.8,-25.4 72,-25.4 77,-25.4 76.5,-28.6 71.5,-28.6 66.4,-28.6 61,-28.6 55.5,-28.6 49.8,-28.6 44,-28.6 38,-28.6 32,-28.6 25.8,-28.6 19.6,-28.6 13.3,-28.6 7,-28.6 0.7,-28.6 -5.7,-28.6 -12,-28.6 -18.3,-28.6 -24.5,-28.6 -30.7,-28.6 -36.8,-28.6Z" fill="#4a1f00"/>
<path d="M-36.8,-28.6 -30.8,-28.6 -24.7,-28.6 -18.6,-28.6 -12.4,-28.6 -6.2,-28.6 0,-28.6 6.2,-28.6 12.4,-28.6 18.6,-28.6 24.7,-28.6 30.8,-28.6 36.8,-28.6 42.7,-28.6 48.4,-28.6 54,-28.6 59.5,-28.6 64.8,-28.6 70,-28.6 68.8,-35.8 67.4,-42.9 65.7,-49.8 63.8,-56.5 61.7,-63 57.1,-63 52.5,-63 47.6,-63 42.7,-63 37.6,-63 32.4,-63 27.2,-63 21.8,-63 16.4,-63 11,-63 5.5,-63 0,-63 -5.5,-63 -11,-63 -16.4,-63 -21.8,-63 -27.2,-63 -32.4,-63 -33.6,-56.5 -34.6,-49.8 -35.4,-42.9 -36.2,-35.8Z" fill="#736600"/>
<path d="M-18.2,-63 -12.8,-63 -7.3,-63 -1.8,-63 3.7,-63 9.1,-63 14.6,-63 20,-63 18.8,-72.8 13.7,-72.8 8.6,-72.8 3.4,-72.8 -1.7,-72.8 -6.9,-72.8 -12,-72.8 -17.1,-72.8Z" fill="#301f00"/>
<path d="M-3.6,-66.7 -4.1,-68.4 -5.6,-69.8 -7.8,-70.7 -10.4,-71.1 -13.1,-70.7 -15.4,-69.8 -17.1,-68.4 -17.8,-66.7 -17.5,-64.9 -16.1,-63.5 -13.8,-62.5 -11,-62.1 -8.2,-62.5 -5.8,-63.5 -4.2,-64.9Z" fill="#2e1f00"/>
<path d="M0,-69.3 -0.4,-70 -1.5,-70.6 -3.2,-70.9 -5.2,-71.1 -7.2,-70.9 -8.9,-70.6 -10.1,-70 -10.5,-69.3 -10.2,-68.7 -9.1,-68.1 -7.4,-67.7 -5.3,-67.6 -3.3,-67.7 -1.6,-68.1 -0.4,-68.7Z" fill="#261f00"/>
<path d="M45.8,-63.6 44.8,-64.6 42.5,-65.5 39.1,-66.1 35.2,-66.3 31.3,-66.1 28.1,-65.5 25.9,-64.6 25.3,-63.6 26.3,-62.5 28.7,-61.6 32.3,-61 36.3,-60.8 40.3,-61 43.4,-61.6 45.4,-62.5Z" fill="#5c1f00"/>
<path d="M58.3,-59.3 57.2,-61.5 55.3,-63.3 52.9,-64.4 50.3,-64.9 48,-64.4 46.2,-63.3 45.2,-61.5 45.2,-59.3 46.3,-57.2 48.2,-55.3 50.6,-54.1 53.3,-53.7 55.8,-54.1 57.6,-55.3 58.5,-57.2Z" fill="#661f00"/>
<path d="M21.3,-66.7 20.9,-68 20,-69.2 18.8,-69.9 17.4,-70.2 16.1,-69.9 15.1,-69.2 14.4,-68 14.3,-66.7 14.7,-65.3 15.6,-64.1 16.8,-63.3 18.2,-63 19.6,-63.3 20.6,-64.1 21.3,-65.3Z" fill="#4c1f00"/>
<path d="M-3,-40.9 -4.1,-43.3 -7,-45.4 -11.5,-46.8 -16.7,-47.2 -21.9,-46.8 -26.4,-45.4 -29.6,-43.3 -30.8,-40.9 -30,-38.4 -27.2,-36.3 -22.7,-34.9 -17.4,-34.4 -11.9,-34.9 -7.2,-36.3 -4.1,-38.4Z" fill="#9e7300"/>
<path d="M-20.6,-46.8 -20.8,-49.5 -21.9,-51.7 -23.6,-53.1 -25.7,-53.7 -27.9,-53.1 -29.9,-51.7 -31.4,-49.5 -32.1,-46.8 -32,-44.2 -31,-41.9 -29.2,-40.4 -27,-39.8 -24.7,-40.4 -22.7,-41.9 -21.2,-44.2Z" fill="#9e7300"/>
<path d="M3.9,-46.8 3.3,-48.3 1.6,-49.6 -0.9,-50.5 -3.9,-50.8 -6.9,-50.5 -9.4,-49.6 -11.2,-48.3 -11.8,-46.8 -11.3,-45.3 -9.6,-44 -7.1,-43.2 -4,-42.9 -0.9,-43.2 1.7,-44 3.4,-45.3Z" fill="#9e7300"/>
<path d="M14.6,-63 14.1,-64.3 12.8,-65.4 11,-66.1 9,-66.3 6.9,-66.1 5.2,-65.4 4,-64.3 3.7,-63 4.1,-61.8 5.3,-60.7 7.2,-60 9.3,-59.7 11.4,-60 13.2,-60.7 14.3,-61.8Z" fill="#9e7300"/>
<path d="M55.2,-52.7 54.1,-55.3 52.1,-57.4 49.6,-58.8 46.9,-59.3 44.5,-58.8 42.5,-57.4 41.5,-55.3 41.4,-52.7 42.4,-50.1 44.3,-47.9 46.9,-46.4 49.7,-45.9 52.4,-46.4 54.3,-47.9 55.3,-50.1Z" fill="#9e7300"/>
<path d="M62.6,-41.9 62,-43.4 60.6,-44.7 58.8,-45.6 56.7,-45.9 54.8,-45.6 53.3,-44.7 52.4,-43.4 52.2,-41.9 52.9,-40.3 54.2,-39 56.1,-38.1 58.2,-37.8 60.2,-38.1 61.7,-39 62.6,-40.3Z" fill="#9e7300"/>
<path d="M33.1,-37.8 32.1,-40.1 29.8,-42.1 26.5,-43.4 22.8,-43.9 19.1,-43.4 15.9,-42.1 13.9,-40.1 13.2,-37.8 14,-35.5 16.3,-33.5 19.7,-32.2 23.6,-31.7 27.4,-32.2 30.5,-33.5 32.5,-35.5Z" fill="#a66600"/>
<path d="M29.1,-37.8 28.7,-39 27.5,-40 25.9,-40.6 24,-40.9 22.1,-40.6 20.6,-40 19.5,-39 19.2,-37.8 19.7,-36.7 20.8,-35.7 22.5,-35 24.4,-34.8 26.3,-35 27.9,-35.7 28.9,-36.7Z" fill="#b26600"/>
<path d="M-10.1,-40.9 -10.5,-42 -11.7,-43 -13.6,-43.6 -15.9,-43.9 -18.2,-43.6 -20.1,-43 -21.5,-42 -22,-40.9 -21.6,-39.7 -20.4,-38.7 -18.5,-38.1 -16.2,-37.8 -13.9,-38.1 -11.9,-38.7 -10.6,-39.7Z" fill="#a86600"/>
<path d="M17.3,-52.7 16.6,-54.3 14.8,-55.7 12.3,-56.6 9.4,-56.9 6.6,-56.6 4.1,-55.7 2.5,-54.3 1.9,-52.7 2.5,-51.1 4.2,-49.7 6.8,-48.7 9.8,-48.4 12.8,-48.7 15.2,-49.7 16.8,-51.1Z" fill="#4c8000"/>
<path d="M36.2,-56.5 35.8,-57.6 34.8,-58.5 33.6,-59.1 32.2,-59.3 30.9,-59.1 29.8,-58.5 29.1,-57.6 29,-56.5 29.4,-55.4 30.4,-54.5 31.6,-53.9 33.1,-53.7 34.4,-53.9 35.5,-54.5 36.2,-55.4Z" fill="#401f00"/>
<path d="M36.6,-43.9 36.2,-45 35.2,-46 33.7,-46.6 32.1,-46.8 30.5,-46.6 29.3,-46 28.4,-45 28.2,-43.9 28.7,-42.7 29.7,-41.7 31.1,-41.1 32.8,-40.9 34.4,-41.1 35.7,-41.7 36.5,-42.7Z" fill="#401f00"/>
<path d="M54,-28.6 53.4,-30.2 52.1,-31.5 50.2,-32.4 48,-32.7 45.8,-32.4 44.1,-31.5 43,-30.2 42.7,-28.6 43.2,-27 44.6,-25.6 46.6,-24.7 48.8,-24.4 50.9,-24.7 52.7,-25.6 53.8,-27Z" fill="#381f00"/>
<path d="M69.2,-33.7 68.2,-35.7 66.1,-37.4 63.1,-38.5 59.8,-38.8 56.5,-38.5 53.8,-37.4 52,-35.7 51.6,-33.7 52.5,-31.8 54.7,-30.1 57.8,-29 61.3,-28.6 64.6,-29 67.3,-30.1 68.8,-31.8Z" fill="#541f00"/>
<path d="M9.5,-55.6 9,-56.7 7.8,-57.6 5.9,-58.2 3.8,-58.4 1.6,-58.2 -0.2,-57.6 -1.5,-56.7 -1.9,-55.6 -1.5,-54.5 -0.2,-53.5 1.6,-52.9 3.9,-52.7 6.1,-52.9 7.9,-53.5 9.1,-54.5Z" fill="#541f00"/>
<path d="M39.1,-55.6 38,-57.7 35.8,-59.6 32.7,-60.8 29.2,-61.2 25.9,-60.8 23.1,-59.6 21.3,-57.7 20.8,-55.6 21.7,-53.4 24,-51.5 27.2,-50.2 30.8,-49.8 34.3,-50.2 37.1,-51.5 38.8,-53.4Z" fill="#5c1f00"/>
<path d="M41,-43.9 40.3,-45.4 38.9,-46.7 37,-47.5 34.8,-47.8 32.7,-47.5 31,-46.7 29.9,-45.4 29.6,-43.9 30.2,-42.3 31.6,-41 33.5,-40.2 35.8,-39.8 37.9,-40.2 39.7,-41 40.7,-42.3Z" fill="#541f00"/>
<path d="M70.4,-35.8 69.6,-38.1 68.2,-40.1 66.3,-41.4 64.3,-41.9 62.5,-41.4 61.1,-40.1 60.3,-38.1 60.3,-35.8 61,-33.4 62.5,-31.4 64.4,-30.1 66.4,-29.6 68.3,-30.1 69.7,-31.4 70.5,-33.4Z" fill="#451f00"/>
<path d="M69.6,-43.9 68.8,-46.1 67.8,-48.1 66.7,-49.3 65.7,-49.8 64.9,-49.3 64.5,-48.1 64.4,-46.1 64.7,-43.9 65.4,-41.6 66.3,-39.6 67.4,-38.3 68.4,-37.8 69.3,-38.3 69.8,-39.6 69.9,-41.6Z" fill="#4c1f00"/>
<path d="M89.3,-49.8 86.3,-55.7 82.3,-60.6 77.7,-63.8 73.4,-64.9 69.8,-63.8 67.4,-60.6 66.5,-55.7 67.3,-49.8 69.8,-43.7 73.7,-38.5 78.4,-35 83.2,-33.7 87.2,-35 89.8,-38.5 90.6,-43.7Z" fill="#696600"/>
<path d="M92.4,-43.9 91.1,-46.5 88.8,-48.8 85.9,-50.2 82.8,-50.8 79.9,-50.2 77.6,-48.8 76.4,-46.5 76.5,-43.9 77.8,-41.2 80.3,-38.9 83.4,-37.3 86.8,-36.8 89.7,-37.3 91.8,-38.9 92.7,-41.2Z" fill="#856600"/>
<path d="M75,-61.2 73.3,-64 70.8,-66.4 68,-67.9 65.2,-68.4 62.8,-67.9 61.1,-66.4 60.4,-64 60.8,-61.2 62.3,-58.3 64.7,-55.9 67.7,-54.2 70.7,-53.7 73.3,-54.2 75,-55.9 75.6,-58.3Z" fill="#611f00"/>
<path d="M77.7,-68.4 76.2,-70.5 73.8,-72.2 70.9,-73.3 67.9,-73.7 65.2,-73.3 63.2,-72.2 62.2,-70.5 62.5,-68.4 63.9,-66.4 66.5,-64.6 69.6,-63.5 72.9,-63 75.7,-63.5 77.5,-64.6 78.2,-66.4Z" fill="#401f00"/>
<path d="M93.3,-64.9 90.3,-69 86.4,-72.4 82.1,-74.6 78,-75.4 74.5,-74.6 72.1,-72.4 71.2,-69 72.1,-64.9 74.9,-60.7 79.1,-57 84.2,-54.5 89,-53.7 92.8,-54.5 94.8,-57 94.9,-60.7Z" fill="#401f00"/>
<path d="M101.8,-59.3 99.5,-62.9 96.8,-65.8 93.9,-67.8 91.2,-68.4 89.1,-67.8 87.8,-65.8 87.7,-62.9 88.8,-59.3 91,-55.7 94.1,-52.6 97.4,-50.5 100.5,-49.8 102.7,-50.5 103.6,-52.6 103.3,-55.7Z" fill="#421f00"/>
<path d="M98.1,-44.9 97,-47.5 95.5,-49.7 93.9,-51.2 92.5,-51.7 91.5,-51.2 90.9,-49.7 90.9,-47.5 91.5,-44.9 92.6,-42.2 94.1,-39.9 95.6,-38.4 97.1,-37.8 98.2,-38.4 98.8,-39.9 98.8,-42.2Z" fill="#6b1f00"/>
<path d="M85.8,-31.7 85,-34 83.8,-36 82.4,-37.4 80.9,-37.8 79.6,-37.4 78.6,-36 78.2,-34 78.3,-31.7 79,-29.3 80.2,-27.3 81.6,-25.9 83.2,-25.4 84.5,-25.9 85.5,-27.3 85.9,-29.3Z" fill="#451f00"/>
<path d="M96.8,-36.8 95.9,-38.5 94.2,-40 92,-40.9 89.6,-41.3 87.2,-40.9 85.2,-40 84.1,-38.5 84,-36.8 84.9,-35.1 86.7,-33.6 89.1,-32.6 91.8,-32.3 94.1,-32.6 95.9,-33.6 96.8,-35.1Z" fill="#6b1f00"/>
<path d="M89.7,-35.8 89.1,-37 88,-37.9 86.5,-38.6 84.9,-38.8 83.3,-38.6 82.1,-37.9 81.4,-37 81.3,-35.8 81.9,-34.6 83,-33.6 84.6,-32.9 86.3,-32.7 87.8,-32.9 89,-33.6 89.6,-34.6Z" fill="#611f00"/>
<path d="M108.1,-51.7 105.8,-56.1 103.4,-59.8 101.3,-62.2 99.8,-63 99.1,-62.2 99.3,-59.8 100.4,-56.1 102.1,-51.7 104.2,-47.2 106.5,-43.4 108.5,-40.8 110.1,-39.8 110.9,-40.8 110.8,-43.4 109.9,-47.2Z" fill="#381f00"/>
<path d="M115.3,-35.8 113.1,-42 110.8,-47.1 108.8,-50.5 107.6,-51.7 107.4,-50.5 108.1,-47.1 109.5,-42 111.3,-35.8 113.2,-29.5 114.9,-24.1 116.3,-20.4 117.3,-19.1 117.8,-20.4 117.7,-24.1 116.9,-29.5Z" fill="#241f00"/>
<path d="M94.5,-13.9 93.6,-17.9 91.7,-21.3 89.1,-23.6 86.3,-24.4 83.6,-23.6 81.4,-21.3 80,-17.9 79.8,-13.9 80.7,-9.8 82.5,-6.3 85.1,-4 88,-3.2 90.8,-4 93,-6.3 94.3,-9.8Z" fill="#4f1f00"/>
<path d="M95,-21.3 94.4,-22.9 93.2,-24.2 91.6,-25.1 89.7,-25.4 87.8,-25.1 86.3,-24.2 85.4,-22.9 85.2,-21.3 85.8,-19.6 87.1,-18.3 88.8,-17.4 90.8,-17 92.6,-17.4 94,-18.3 94.9,-19.6Z" fill="#661f00"/>
<path d="M92.9,-7.5 92.5,-9.9 91.6,-12 90.4,-13.4 88.9,-13.9 87.6,-13.4 86.5,-12 85.8,-9.9 85.6,-7.5 86,-5 86.9,-2.9 88.1,-1.6 89.5,-1.1 90.9,-1.6 92,-2.9 92.7,-5Z" fill="#571f00"/>
<path d="M81.7,-19.1 80.8,-22.8 79.2,-25.8 77.2,-27.9 74.9,-28.6 72.8,-27.9 71.2,-25.8 70.3,-22.8 70.2,-19.1 71,-15.5 72.5,-12.4 74.5,-10.3 76.8,-9.6 78.9,-10.3 80.6,-12.4 81.6,-15.5Z" fill="#1f1f00"/>
<path d="M82.6,-4.3 82.2,-7.5 81,-10.3 79.3,-12.1 77.4,-12.8 75.6,-12.1 74,-10.3 73.1,-7.5 72.8,-4.3 73.2,-1 74.3,1.8 75.9,3.6 77.8,4.3 79.7,3.6 81.3,1.8 82.3,-1Z" fill="#331f00"/>
<path d="M83.2,-25.4 82.6,-27.8 81.6,-29.9 80.4,-31.2 79.1,-31.7 78,-31.2 77.2,-29.9 76.9,-27.8 77,-25.4 77.5,-23 78.5,-21 79.6,-19.6 80.9,-19.1 82,-19.6 82.9,-21 83.3,-23Z" fill="#4c1f00"/>
<path d="M74.4,-31.7 73.9,-33.3 73,-34.6 71.7,-35.5 70.4,-35.8 69.2,-35.5 68.3,-34.6 67.8,-33.3 67.8,-31.7 68.3,-30.1 69.2,-28.8 70.5,-27.9 71.8,-27.5 73,-27.9 73.9,-28.8 74.4,-30.1Z" fill="#331f00"/>
<path d="M16.8,19.1 23.3,19.1 29.8,19.1 36.1,19.1 42.3,19.1 48.4,19.1 54.4,19.1 60.2,19.1 65.8,19.1 66.3,12.6 66.6,6.1 66.7,-0.5 66.6,-7.1 66.2,-13.7 65.7,-20.2 60.1,-20.2 54.3,-20.2 48.4,-20.2 42.3,-20.2 36.1,-20.2 29.7,-20.2 23.3,-20.2 16.8,-20.2 16.9,-13.7 17,-7.1 17,-0.5 17,6.1 16.9,12.6Z" fill="#181f00"/>
<path d="M-27.5,-8.5 -20.6,-8.5 -13.7,-8.5 -6.7,-8.5 0.3,-8.5 7.3,-8.5 14.3,-8.5 21.2,-8.5 21,-20.2 14.1,-20.2 7.2,-20.2 0.3,-20.2 -6.6,-20.2 -13.5,-20.2 -20.4,-20.2 -27.2,-20.2Z" fill="#1d1f00"/>
<path d="M76.7,10.7 76.4,5.8 75.1,1.6 72.9,-1.2 70.2,-2.1 67.5,-1.2 65.2,1.6 63.5,5.8 62.8,10.7 63.1,15.5 64.3,19.7 66.4,22.4 68.9,23.4 71.6,22.4 74.1,19.7 75.9,15.5Z" fill="#221f00"/>
<path d="M-16.7,-22.3 -17.3,-23.9 -19.1,-25.3 -21.7,-26.2 -24.8,-26.5 -28,-26.2 -30.7,-25.3 -32.5,-23.9 -33.2,-22.3 -32.6,-20.7 -30.9,-19.3 -28.3,-18.4 -25.2,-18.1 -22,-18.4 -19.3,-19.3 -17.4,-20.7Z" fill="#201f00"/>
<path d="M70.1,37.8 69.7,31.6 66,26.2 59.4,22.5 50.9,21.3 42,22.5 34,26.2 28.4,31.6 26.2,37.8 27.5,44 31.9,49.1 38.6,52.5 46.5,53.7 54.6,52.5 61.9,49.1 67.3,44Z" fill="#1b1f00"/>
<path d="M58.3,59.3 58.4,55.7 56.3,52.6 52.4,50.5 47.3,49.8 41.7,50.5 36.6,52.6 33,55.7 31.3,59.3 31.8,62.9 34.2,65.8 38.1,67.8 42.9,68.4 47.9,67.8 52.6,65.8 56.3,62.9Z" fill="#211f00"/>
<path d="M44,47.8 44,43.3 42.5,39.4 39.8,36.7 36.2,35.8 32.4,36.7 28.9,39.4 26.5,43.3 25.3,47.8 25.6,52.3 27.2,56 29.8,58.5 33.1,59.3 36.6,58.5 39.9,56 42.6,52.3Z" fill="#331f00"/>
<path d="M77.9,17 78,13.8 77.6,11 76.9,9.2 76,8.5 75,9.2 74.1,11 73.4,13.8 72.9,17 72.8,20.3 73.1,23 73.7,24.8 74.5,25.4 75.5,24.8 76.6,23 77.4,20.3Z" fill="#331f00"/>
<path d="M75.6,33.7 75.7,31.4 75,29.4 73.6,28 71.8,27.5 69.8,28 67.9,29.4 66.5,31.4 65.8,33.7 65.8,36.1 66.5,38.1 67.9,39.4 69.6,39.8 71.6,39.4 73.4,38.1 74.8,36.1Z" fill="#251f00"/>
<path d="M48.1,61.2 48,59.1 46.6,57.2 44.1,56 40.9,55.6 37.4,56 34.3,57.2 32,59.1 31,61.2 31.3,63.3 32.8,65.1 35.3,66.3 38.5,66.7 41.7,66.3 44.7,65.1 46.9,63.3Z" fill="#2e1f00"/>
<path d="M31.1,43.9 31.4,37.7 31.1,32.4 30.2,28.8 28.9,27.5 27.4,28.8 26,32.4 24.9,37.7 24.1,43.9 23.9,49.9 24.1,54.9 24.8,58.2 25.9,59.3 27.3,58.2 28.8,54.9 30.2,49.9Z" fill="#471f00"/>
<path d="M52.8,43.9 52.6,42.3 51.7,41 50,40.2 48,39.8 45.8,40.2 43.9,41 42.5,42.3 41.9,43.9 42.1,45.4 43.1,46.7 44.7,47.5 46.7,47.8 48.8,47.5 50.7,46.7 52.1,45.4Z" fill="#331f00"/>
<path d="M83,45.9 83.4,43.6 83.4,41.6 82.8,40.3 81.8,39.8 80.6,40.3 79.4,41.6 78.2,43.6 77.4,45.9 77,48.1 77,50 77.5,51.3 78.4,51.7 79.6,51.3 80.9,50 82.1,48.1Z" fill="#261f00"/>
<path d="M58.9,57.5 59.3,54.6 58.9,52.1 57.7,50.4 55.9,49.8 53.8,50.4 51.8,52.1 50.1,54.6 49.1,57.5 48.7,60.3 49.1,62.7 50.3,64.3 51.9,64.9 53.9,64.3 55.9,62.7 57.6,60.3Z" fill="#211f00"/>
<path d="M-66.4,102.7 -66,102.7 -65.4,102.7 -64.6,102.7 -63.7,102.7 -62.5,102.7 -61.2,102.7 -59.7,102.7 -58.1,102.7 -56.2,102.7 -54.2,102.7 -52.1,102.7 -49.8,102.7 -47.4,102.7 -44.8,102.7 -42.1,102.7 -39.3,102.7 -36.4,102.7 -33.3,102.7 -36,99 -38.6,95 -41.1,90.8 -43.4,86.3 -45.6,81.6 -47.7,76.6 -49.7,71.4 -51.5,66 -53.2,60.5 -54.7,54.7 -56.1,48.8 -57.3,42.8 -58.4,36.7 -59.3,30.4 -60,24.1 -60.6,17.7 -60.9,11.2 -61.2,4.7 -61.2,-1.8 -61.1,-8.3 -60.8,-14.7 -60.3,-21.2 -59.6,-27.5 -65.1,-27.5 -70.3,-27.5 -75.3,-27.5 -80.1,-27.5 -84.7,-27.5 -89.1,-27.5 -93.2,-27.5 -97,-27.5 -100.6,-27.5 -103.9,-27.5 -106.8,-27.5 -109.5,-27.5 -111.9,-27.5 -113.9,-27.5 -115.6,-27.5 -117,-27.5 -118.1,-27.5 -118.8,-27.5 -120.1,-21.2 -121,-14.7 -121.7,-8.3 -121.9,-1.8 -121.8,4.7 -121.4,11.2 -120.7,17.7 -119.6,24.1 -118.1,30.4 -116.3,36.7 -114.2,42.8 -111.8,48.8 -109.1,54.7 -106,60.5 -102.7,66 -99,71.4 -95.1,76.6 -90.9,81.6 -86.5,86.3 -81.8,90.8 -76.9,95 -71.7,99Z" fill="#181f00"/>
<path d="M-90.7,8.5 -92.5,1.2 -96.5,-5 -101.9,-9.2 -107.7,-10.7 -112.6,-9.2 -116.2,-5 -118.2,1.2 -118.5,8.5 -117.2,15.9 -114.4,22 -110.4,26.1 -105.3,27.5 -99.9,26.1 -95,22 -91.7,15.9Z" fill="#141f00"/>
<path d="M-109.3,29.6 -110.8,23.2 -112.2,17.8 -113.4,14.1 -114.4,12.8 -115.1,14.1 -115.3,17.8 -114.8,23.2 -113.6,29.6 -111.8,35.9 -109.7,41.2 -107.9,44.6 -106.6,45.9 -106.3,44.6 -106.8,41.2 -107.9,35.9Z" fill="#0b1f00"/>
<path d="M-103.9,45.9 -105.6,41.3 -107.3,37.3 -108.6,34.7 -109.5,33.7 -109.8,34.7 -109.6,37.3 -108.6,41.3 -107.1,45.9 -105.2,50.4 -103.2,54.1 -101.5,56.6 -100.6,57.5 -100.4,56.6 -101,54.1 -102.3,50.4Z" fill="#421f00"/>
<path d="M-81.8,81.9 -86.7,75.6 -91.1,70.1 -94.4,66.2 -96.2,64.9 -96.4,66.2 -94.8,70.1 -91.4,75.6 -86.5,81.9 -81,87.8 -75.7,92.5 -71.8,95.4 -69.9,96.5 -70.3,95.4 -72.8,92.5 -76.9,87.8Z" fill="#2b1f00"/>
<path d="M-71.2,17 -72.1,13 -73.7,9.5 -76,7.2 -78.6,6.4 -81,7.2 -83,9.5 -84.1,13 -84.2,17 -83.3,21.1 -81.5,24.5 -79.2,26.7 -76.7,27.5 -74.3,26.7 -72.5,24.5 -71.4,21.1Z" fill="#1f1f00"/>
<path d="M-115.9,21.3 -116.7,16.4 -117.4,12.3 -118,9.5 -118.5,8.5 -118.8,9.5 -118.9,12.3 -118.6,16.4 -117.9,21.3 -116.9,26.1 -115.8,30.1 -114.8,32.8 -114.2,33.7 -114,32.8 -114.4,30.1 -115,26.1Z" fill="#331f00"/>
<path d="M-88.9,66.7 -91.4,62.5 -94,58.9 -96.3,56.4 -98,55.6 -98.9,56.4 -98.6,58.9 -97.4,62.5 -95.2,66.7 -92.4,70.7 -89.6,74.1 -87.1,76.3 -85.5,77 -84.9,76.3 -85.4,74.1 -86.8,70.7Z" fill="#1f1f00"/>
<path d="M-110.9,-51.7 -110.8,-51.7 -110.3,-51.7 -109.6,-51.7 -108.5,-51.7 -107.2,-51.7 -105.5,-51.7 -103.6,-51.7 -101.3,-51.7 -98.8,-51.7 -96.1,-51.7 -93.5,-57.7 -90.6,-63.5 -87.5,-69.1 -84.1,-74.5 -80.5,-79.7 -76.6,-84.6 -72.5,-89.3 -68.1,-93.8 -70.1,-93.8 -71.9,-93.8 -73.5,-93.8 -74.8,-93.8 -76,-93.8 -77,-93.8 -77.7,-93.8 -78.2,-93.8 -78.6,-93.8 -78.7,-93.8 -83.7,-89.3 -88.4,-84.6 -92.9,-79.7 -97.1,-74.5 -101,-69.1 -104.6,-63.5 -107.9,-57.7Z" fill="#1d1f00"/>
</g></g>
<use href="#speck"/>
<use href="#land" fill="none" stroke="#000" stroke-width="1.1" stroke-linejoin="round"/>
<use href="#nod" fill="none" stroke="#000" stroke-width="1.3" stroke-linejoin="round"/>
<path d="M-118.8,-27.4A121.9,121.9 0 0 1 -25.3,-119.2 M-19.0,120.0A121.5,121.5 0 0 1 -55.2,108.3" fill="none" stroke="#000" stroke-width="1.5"/>
<use href="#bord" fill="none" stroke="#000" stroke-width="0.8" stroke-linejoin="round"/>
</g>
<circle r="122.4" fill="none" stroke="#222" stroke-width="0.7"/>
</g>
<text transform="translate(729.95,295.9) scale(.968,1.03)" font-size="18.4" text-anchor="middle">BHR_ISO</text>
<path d="M868.9,311.8 L874.6,300.90000000000003 L880.3,311.8 L880.3,535.3 L874.6,546.1999999999999 L868.9,535.3Z" fill="url(#jet1)" stroke="#222" stroke-width="0.7" stroke-linejoin="miter"/>
<path d="M880.3,535.30h3.6" stroke="#222" stroke-width="0.8"/>
<text transform="translate(886.0,538.25) scale(.94,1)" font-size="8.3">0.0</text>
<path d="M880.3,512.95h3.6" stroke="#222" stroke-width="0.8"/>
<text transform="translate(886.0,515.90) scale(.94,1)" font-size="8.3">0.1</text>
<path d="M880.3,490.60h3.6" stroke="#222" stroke-width="0.8"/>
<text transform="translate(886.0,493.55) scale(.94,1)" font-size="8.3">0.2</text>
<path d="M880.3,468.25h3.6" stroke="#222" stroke-width="0.8"/>
<text transform="translate(886.0,471.20) scale(.94,1)" font-size="8.3">0.3</text>
<path d="M880.3,445.90h3.6" stroke="#222" stroke-width="0.8"/>
<text transform="translate(886.0,448.85) scale(.94,1)" font-size="8.3">0.4</text>
<path d="M880.3,423.55h3.6" stroke="#222" stroke-width="0.8"/>
<text transform="translate(886.0,426.50) scale(.94,1)" font-size="8.3">0.5</text>
<path d="M880.3,401.20h3.6" stroke="#222" stroke-width="0.8"/>
<text transform="translate(886.0,404.15) scale(.94,1)" font-size="8.3">0.6</text>
<path d="M880.3,378.85h3.6" stroke="#222" stroke-width="0.8"/>
<text transform="translate(886.0,381.80) scale(.94,1)" font-size="8.3">0.7</text>
<path d="M880.3,356.50h3.6" stroke="#222" stroke-width="0.8"/>
<text transform="translate(886.0,359.45) scale(.94,1)" font-size="8.3">0.8</text>
<path d="M880.3,334.15h3.6" stroke="#222" stroke-width="0.8"/>
<text transform="translate(886.0,337.10) scale(.94,1)" font-size="8.3">0.9</text>
<path d="M880.3,311.80h3.6" stroke="#222" stroke-width="0.8"/>
<text transform="translate(886.0,314.75) scale(.94,1)" font-size="8.3">1.0</text>
<rect x="0" y="0" width="908" height="0.95" fill="#111"/>
<rect x="0" y="550.9" width="908" height="1.1" fill="#111"/>
<rect x="906.6" y="0" width="1.4" height="552" fill="#111"/>
</svg></body></html>
